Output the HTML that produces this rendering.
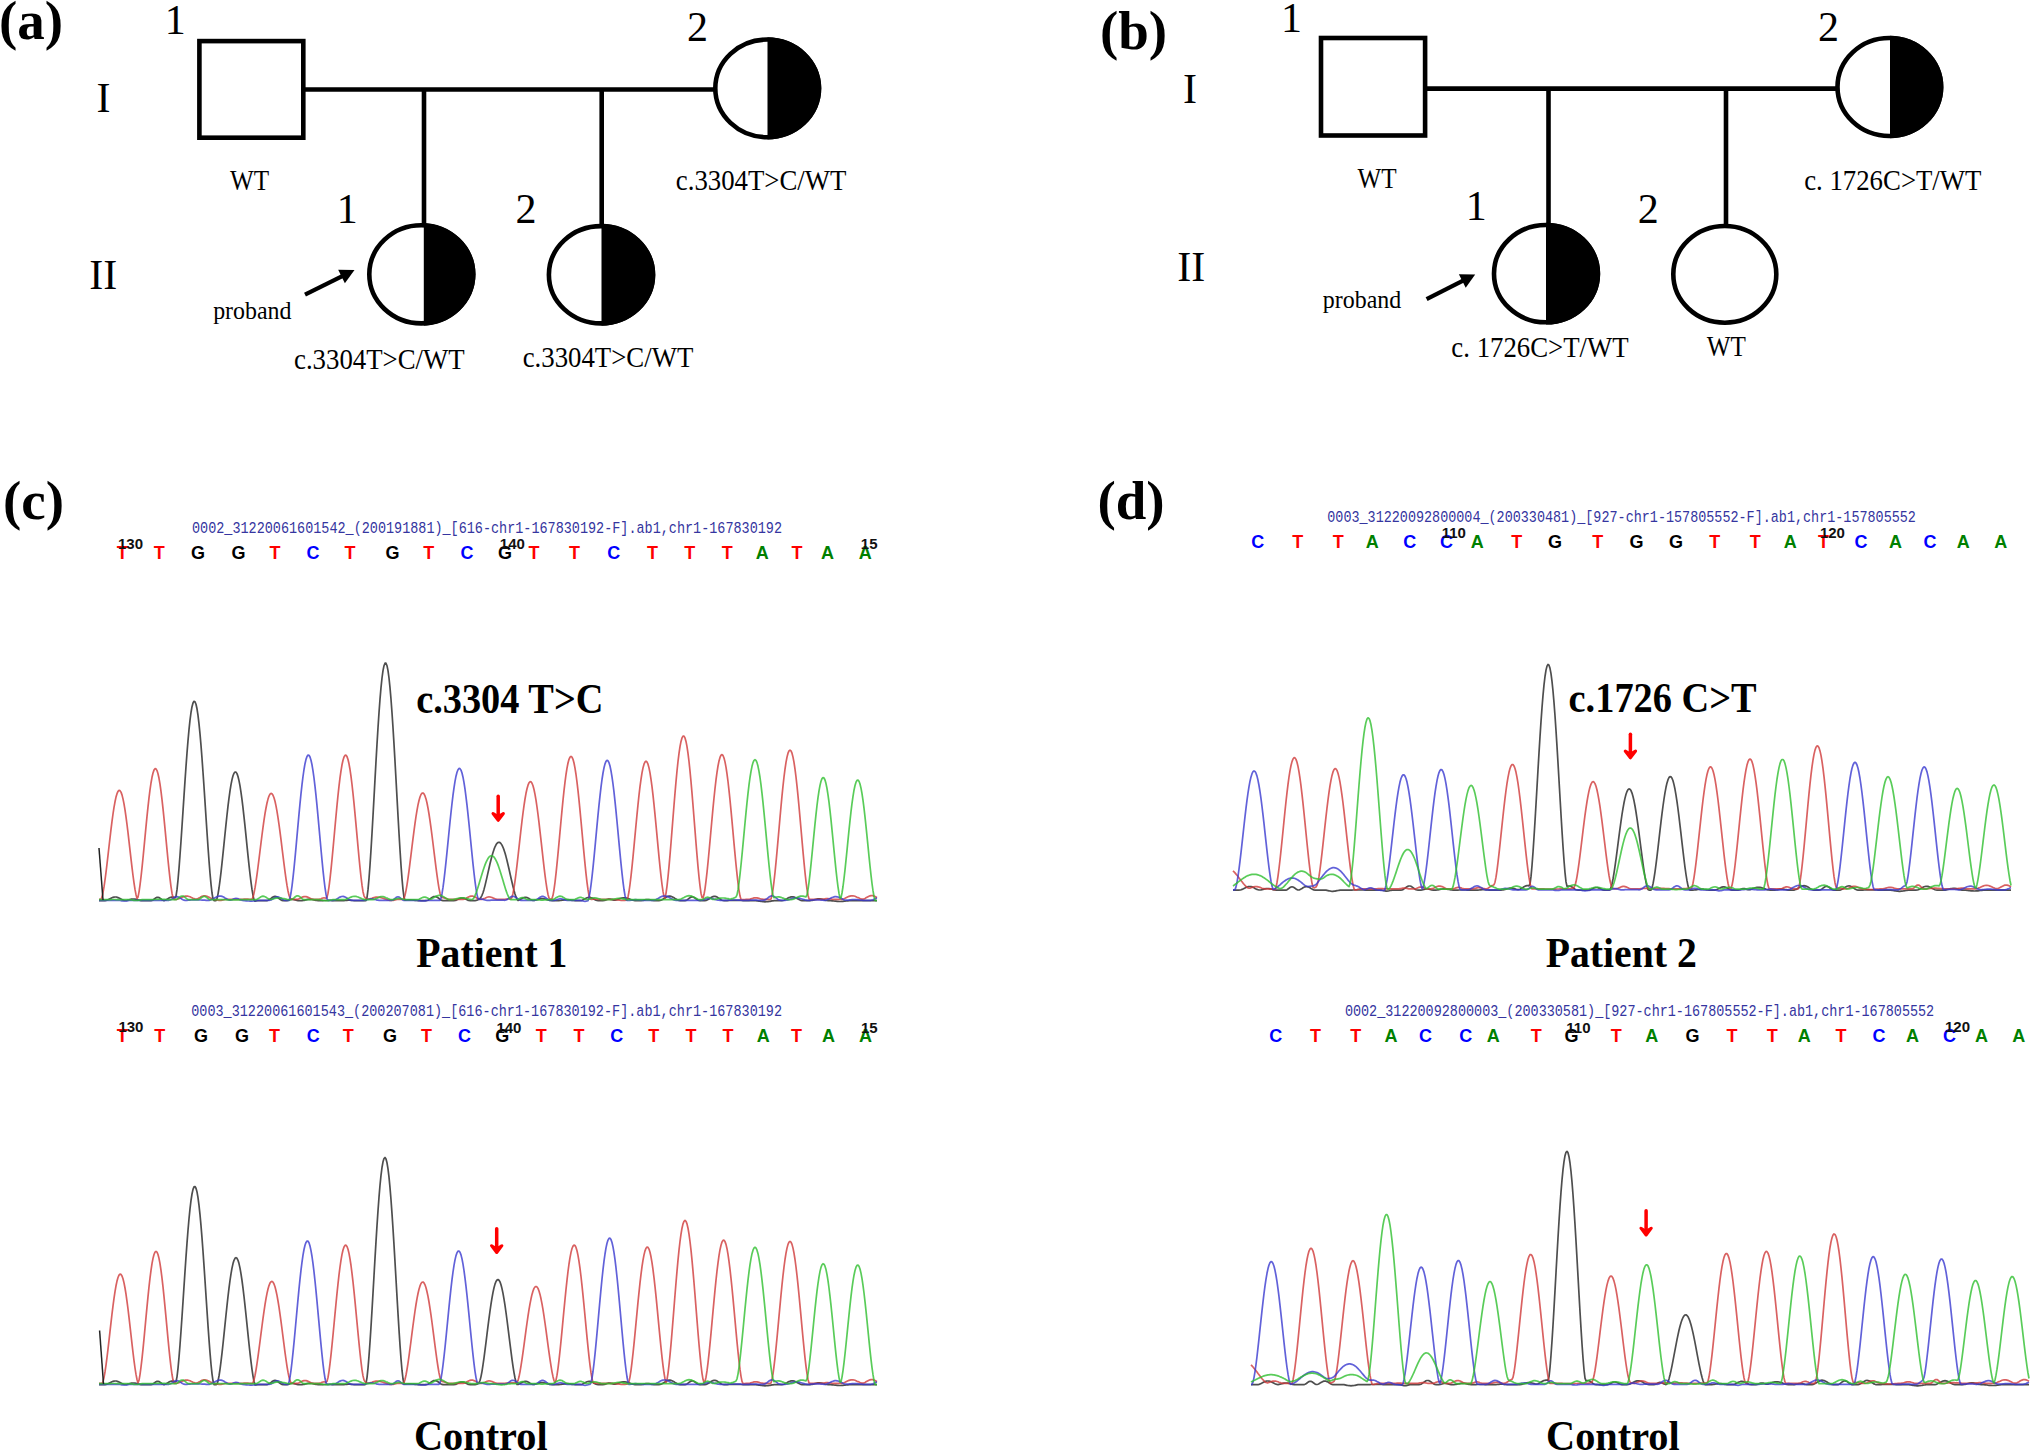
<!DOCTYPE html>
<html><head><meta charset="utf-8"><style>
html,body{margin:0;padding:0;background:#fff;width:2032px;height:1453px;overflow:hidden}
svg{display:block}
</style></head><body>
<svg width="2032" height="1453" viewBox="0 0 2032 1453">
<rect width="2032" height="1453" fill="#fff"/>
<text x="31" y="39.4" font-family='"Liberation Serif", serif' font-size="55" font-weight="bold" fill="#000" text-anchor="middle" >(a)</text>
<rect x="199.4" y="41.099999999999994" width="103.90000000000003" height="96.60000000000001" fill="#fff" stroke="#000" stroke-width="4.6"/>
<line x1="305" y1="89.5" x2="716" y2="89.5" stroke="#000" stroke-width="4.6"/>
<line x1="424" y1="89.5" x2="424" y2="226" stroke="#000" stroke-width="4.6"/>
<line x1="601.7" y1="89.5" x2="601.7" y2="226" stroke="#000" stroke-width="4.6"/>
<clipPath id="c5"><rect x="767.5" y="35.2" width="57.799999999999955" height="106.3"/></clipPath>
<ellipse cx="767.15" cy="88.35" rx="51.84999999999998" ry="48.85" fill="#fff"/>
<ellipse cx="767.15" cy="88.35" rx="54.14999999999998" ry="51.15" fill="#000" clip-path="url(#c5)"/>
<ellipse cx="767.15" cy="88.35" rx="51.84999999999998" ry="48.85" fill="none" stroke="#000" stroke-width="4.6"/>
<clipPath id="c9"><rect x="423.8" y="221" width="55.69999999999999" height="106.69999999999999"/></clipPath>
<ellipse cx="421.25" cy="274.35" rx="51.95" ry="49.05" fill="#fff"/>
<ellipse cx="421.25" cy="274.35" rx="54.25" ry="51.349999999999994" fill="#000" clip-path="url(#c9)"/>
<ellipse cx="421.25" cy="274.35" rx="51.95" ry="49.05" fill="none" stroke="#000" stroke-width="4.6"/>
<clipPath id="c13"><rect x="601.5" y="221.8" width="57.799999999999955" height="105.89999999999998"/></clipPath>
<ellipse cx="600.95" cy="274.75" rx="52.04999999999997" ry="48.64999999999999" fill="#fff"/>
<ellipse cx="600.95" cy="274.75" rx="54.349999999999966" ry="50.94999999999999" fill="#000" clip-path="url(#c13)"/>
<ellipse cx="600.95" cy="274.75" rx="52.04999999999997" ry="48.64999999999999" fill="none" stroke="#000" stroke-width="4.6"/>
<text x="175.2" y="34.3" font-family='"Liberation Serif", serif' font-size="42" font-weight="normal" fill="#000" text-anchor="middle" >1</text>
<text x="697.4" y="40.8" font-family='"Liberation Serif", serif' font-size="42" font-weight="normal" fill="#000" text-anchor="middle" >2</text>
<text x="103.5" y="112" font-family='"Liberation Serif", serif' font-size="42" font-weight="normal" fill="#000" text-anchor="middle" >I</text>
<text x="103.2" y="288.5" font-family='"Liberation Serif", serif' font-size="42" font-weight="normal" fill="#000" text-anchor="middle" >II</text>
<text x="0" y="0" transform="translate(249.5,190) scale(0.84,1)" font-family='"Liberation Serif", serif' font-size="30" font-weight="normal" fill="#000" text-anchor="middle" >WT</text>
<text x="0" y="0" transform="translate(761.1,189.5) scale(0.893,1)" font-family='"Liberation Serif", serif' font-size="30" font-weight="normal" fill="#000" text-anchor="middle" >c.3304T&gt;C/WT</text>
<text x="347.3" y="223.4" font-family='"Liberation Serif", serif' font-size="42" font-weight="normal" fill="#000" text-anchor="middle" >1</text>
<text x="526" y="223.4" font-family='"Liberation Serif", serif' font-size="42" font-weight="normal" fill="#000" text-anchor="middle" >2</text>
<text x="0" y="0" transform="translate(252.3,319) scale(0.92,1)" font-family='"Liberation Serif", serif' font-size="26" font-weight="normal" fill="#000" text-anchor="middle" >proband</text>
<line x1="305" y1="294.7" x2="343.3151446323197" y2="275.5811298501354" stroke="#000" stroke-width="4.2"/>
<polygon points="354.5,270 344.8742456835721,283.18502384676526 338.17688986340954,269.7631974055489" fill="#000"/>
<text x="0" y="0" transform="translate(379.3,369) scale(0.893,1)" font-family='"Liberation Serif", serif' font-size="30" font-weight="normal" fill="#000" text-anchor="middle" >c.3304T&gt;C/WT</text>
<text x="0" y="0" transform="translate(608,367) scale(0.893,1)" font-family='"Liberation Serif", serif' font-size="30" font-weight="normal" fill="#000" text-anchor="middle" >c.3304T&gt;C/WT</text>
<text x="1133.5" y="48.7" font-family='"Liberation Serif", serif' font-size="55" font-weight="bold" fill="#000" text-anchor="middle" >(b)</text>
<rect x="1321.0" y="38.0" width="104.10000000000005" height="97.50000000000001" fill="#fff" stroke="#000" stroke-width="4.6"/>
<line x1="1427" y1="88.6" x2="1838" y2="88.6" stroke="#000" stroke-width="4.6"/>
<line x1="1548.5" y1="88.6" x2="1548.5" y2="226" stroke="#000" stroke-width="4.6"/>
<line x1="1726" y1="88.6" x2="1726" y2="226" stroke="#000" stroke-width="4.6"/>
<clipPath id="c35"><rect x="1890" y="33.7" width="57.40000000000009" height="106.60000000000001"/></clipPath>
<ellipse cx="1889.3000000000002" cy="87.0" rx="51.800000000000026" ry="49.00000000000001" fill="#fff"/>
<ellipse cx="1889.3000000000002" cy="87.0" rx="54.10000000000002" ry="51.300000000000004" fill="#000" clip-path="url(#c35)"/>
<ellipse cx="1889.3000000000002" cy="87.0" rx="51.800000000000026" ry="49.00000000000001" fill="none" stroke="#000" stroke-width="4.6"/>
<clipPath id="c39"><rect x="1546" y="220.7" width="58.200000000000045" height="105.90000000000003"/></clipPath>
<ellipse cx="1545.95" cy="273.65" rx="51.95" ry="48.65000000000002" fill="#fff"/>
<ellipse cx="1545.95" cy="273.65" rx="54.25" ry="50.95000000000002" fill="#000" clip-path="url(#c39)"/>
<ellipse cx="1545.95" cy="273.65" rx="51.95" ry="48.65000000000002" fill="none" stroke="#000" stroke-width="4.6"/>
<ellipse cx="1724.8" cy="274.35" rx="51.49999999999996" ry="48.35000000000001" fill="#fff" stroke="#000" stroke-width="4.6"/>
<text x="1291.6" y="32" font-family='"Liberation Serif", serif' font-size="42" font-weight="normal" fill="#000" text-anchor="middle" >1</text>
<text x="1828.5" y="40.6" font-family='"Liberation Serif", serif' font-size="42" font-weight="normal" fill="#000" text-anchor="middle" >2</text>
<text x="1190.1" y="103.3" font-family='"Liberation Serif", serif' font-size="42" font-weight="normal" fill="#000" text-anchor="middle" >I</text>
<text x="1191.3" y="281.2" font-family='"Liberation Serif", serif' font-size="42" font-weight="normal" fill="#000" text-anchor="middle" >II</text>
<text x="0" y="0" transform="translate(1377.1,188.2) scale(0.84,1)" font-family='"Liberation Serif", serif' font-size="30" font-weight="normal" fill="#000" text-anchor="middle" >WT</text>
<text x="0" y="0" transform="translate(1892.8,189.5) scale(0.893,1)" font-family='"Liberation Serif", serif' font-size="30" font-weight="normal" fill="#000" text-anchor="middle" >c. 1726C&gt;T/WT</text>
<text x="1476.2" y="219.6" font-family='"Liberation Serif", serif' font-size="42" font-weight="normal" fill="#000" text-anchor="middle" >1</text>
<text x="1648.3" y="223.3" font-family='"Liberation Serif", serif' font-size="42" font-weight="normal" fill="#000" text-anchor="middle" >2</text>
<text x="0" y="0" transform="translate(1362,307.5) scale(0.92,1)" font-family='"Liberation Serif", serif' font-size="26" font-weight="normal" fill="#000" text-anchor="middle" >proband</text>
<line x1="1426.6" y1="299.2" x2="1464.0658552019954" y2="280.0816212137966" stroke="#000" stroke-width="4.2"/>
<polygon points="1475.2,274.4 1465.6933647625926,287.67116748680695 1458.8754193060365,274.3101937292012" fill="#000"/>
<text x="0" y="0" transform="translate(1540,357) scale(0.893,1)" font-family='"Liberation Serif", serif' font-size="30" font-weight="normal" fill="#000" text-anchor="middle" >c. 1726C&gt;T/WT</text>
<text x="0" y="0" transform="translate(1726.3,356) scale(0.84,1)" font-family='"Liberation Serif", serif' font-size="30" font-weight="normal" fill="#000" text-anchor="middle" >WT</text>
<text x="33.5" y="518.7" font-family='"Liberation Serif", serif' font-size="55" font-weight="bold" fill="#000" text-anchor="middle" >(c)</text>
<text x="0" y="0" font-family='"Liberation Mono", monospace' font-size="13.47" fill="#3535a0" textLength="590.0" lengthAdjust="spacingAndGlyphs" transform="translate(192,532.7) scale(1,1.237)">0002_31220061601542_(200191881)_[616-chr1-167830192-F].ab1,chr1-167830192</text>
<text x="122.3" y="559.0" font-family='"Liberation Sans", sans-serif' font-size="18" font-weight="bold" fill="#ff0000" text-anchor="middle" >T</text>
<text x="159.3" y="559.0" font-family='"Liberation Sans", sans-serif' font-size="18" font-weight="bold" fill="#ff0000" text-anchor="middle" >T</text>
<text x="198" y="559.0" font-family='"Liberation Sans", sans-serif' font-size="18" font-weight="bold" fill="#000000" text-anchor="middle" >G</text>
<text x="238.6" y="559.0" font-family='"Liberation Sans", sans-serif' font-size="18" font-weight="bold" fill="#000000" text-anchor="middle" >G</text>
<text x="275" y="559.0" font-family='"Liberation Sans", sans-serif' font-size="18" font-weight="bold" fill="#ff0000" text-anchor="middle" >T</text>
<text x="313" y="559.0" font-family='"Liberation Sans", sans-serif' font-size="18" font-weight="bold" fill="#0000ff" text-anchor="middle" >C</text>
<text x="350" y="559.0" font-family='"Liberation Sans", sans-serif' font-size="18" font-weight="bold" fill="#ff0000" text-anchor="middle" >T</text>
<text x="392.5" y="559.0" font-family='"Liberation Sans", sans-serif' font-size="18" font-weight="bold" fill="#000000" text-anchor="middle" >G</text>
<text x="428.8" y="559.0" font-family='"Liberation Sans", sans-serif' font-size="18" font-weight="bold" fill="#ff0000" text-anchor="middle" >T</text>
<text x="466.9" y="559.0" font-family='"Liberation Sans", sans-serif' font-size="18" font-weight="bold" fill="#0000ff" text-anchor="middle" >C</text>
<text x="505" y="559.0" font-family='"Liberation Sans", sans-serif' font-size="18" font-weight="bold" fill="#000000" text-anchor="middle" >G</text>
<text x="534" y="559.0" font-family='"Liberation Sans", sans-serif' font-size="18" font-weight="bold" fill="#ff0000" text-anchor="middle" >T</text>
<text x="574.5" y="559.0" font-family='"Liberation Sans", sans-serif' font-size="18" font-weight="bold" fill="#ff0000" text-anchor="middle" >T</text>
<text x="613.8" y="559.0" font-family='"Liberation Sans", sans-serif' font-size="18" font-weight="bold" fill="#0000ff" text-anchor="middle" >C</text>
<text x="652.6" y="559.0" font-family='"Liberation Sans", sans-serif' font-size="18" font-weight="bold" fill="#ff0000" text-anchor="middle" >T</text>
<text x="689.7" y="559.0" font-family='"Liberation Sans", sans-serif' font-size="18" font-weight="bold" fill="#ff0000" text-anchor="middle" >T</text>
<text x="727.3" y="559.0" font-family='"Liberation Sans", sans-serif' font-size="18" font-weight="bold" fill="#ff0000" text-anchor="middle" >T</text>
<text x="762.2" y="559.0" font-family='"Liberation Sans", sans-serif' font-size="18" font-weight="bold" fill="#008000" text-anchor="middle" >A</text>
<text x="797" y="559.0" font-family='"Liberation Sans", sans-serif' font-size="18" font-weight="bold" fill="#ff0000" text-anchor="middle" >T</text>
<text x="827.5" y="559.0" font-family='"Liberation Sans", sans-serif' font-size="18" font-weight="bold" fill="#008000" text-anchor="middle" >A</text>
<text x="865.2" y="559.0" font-family='"Liberation Sans", sans-serif' font-size="18" font-weight="bold" fill="#008000" text-anchor="middle" >A</text>
<text x="118" y="548.7" font-family='"Liberation Sans", sans-serif' font-size="15" font-weight="bold" fill="#111">130</text>
<text x="499.8" y="548.7" font-family='"Liberation Sans", sans-serif' font-size="15" font-weight="bold" fill="#111">140</text>
<text x="860.8" y="548.7" font-family='"Liberation Sans", sans-serif' font-size="15" font-weight="bold" fill="#111">15</text>
<path d="M99,900.6 L100,900.6 L101,900.6 L102,900.6 L103,900.6 L104,900.6 L105,900.6 L106,900.4 L107,900.1 L108,899.7 L109,899.2 L110,898.7 L111,898.2 L112,897.7 L113,897.3 L114,897.1 L115,897.0 L116,897.0 L117,897.2 L118,897.6 L119,898.0 L120,898.5 L121,899.1 L122,899.6 L123,900.0 L124,900.4 L125,900.5 L126,900.5 L127,900.3 L128,900.0 L129,899.8 L130,899.5 L131,899.2 L132,899.1 L133,899.0 L134,899.0 L135,899.1 L136,899.3 L137,899.6 L138,899.9 L139,900.2 L140,900.4 L141,900.6 L142,900.6 L143,900.6 L144,900.6 L145,900.6 L146,900.6 L147,900.6 L148,900.6 L149,900.6 L150,900.6 L151,900.6 L152,900.4 L153,900.0 L154,899.2 L155,898.5 L156,897.8 L157,897.4 L158,897.3 L159,897.6 L160,898.2 L161,899.0 L162,899.8 L163,900.3 L164,900.6 L165,900.3 L166,899.9 L167,899.3 L168,898.7 L169,898.1 L170,897.5 L171,897.2 L172,897.0 L173,897.1 L174,897.4 L175,897.9 L176,896.2 L177,889.7 L178,880.0 L179,868.4 L180,855.3 L181,841.2 L182,826.3 L183,811.1 L184,795.9 L185,780.9 L186,766.5 L187,753.0 L188,740.6 L189,729.6 L190,720.2 L191,712.5 L192,706.7 L193,703.0 L194,701.3 L195,701.7 L196,704.2 L197,708.8 L198,715.4 L199,723.8 L200,733.8 L201,745.4 L202,758.3 L203,772.2 L204,786.8 L205,801.9 L206,817.2 L207,832.3 L208,847.0 L209,860.7 L210,873.3 L211,884.2 L212,893.0 L213,899.0 L214,900.6 L215,900.6 L216,900.6 L217,898.6 L218,894.1 L219,888.0 L220,880.6 L221,872.3 L222,863.2 L223,853.6 L224,843.8 L225,834.0 L226,824.3 L227,815.0 L228,806.2 L229,798.1 L230,790.9 L231,784.7 L232,779.6 L233,775.8 L234,773.2 L235,772.0 L236,772.1 L237,773.6 L238,776.5 L239,780.6 L240,785.9 L241,792.3 L242,799.7 L243,807.9 L244,816.8 L245,826.2 L246,835.9 L247,845.8 L248,855.6 L249,865.1 L250,874.0 L251,882.2 L252,889.4 L253,895.4 L254,899.9 L255,901.2 L256,900.9 L257,900.7 L258,900.6 L259,900.6 L260,900.6 L261,900.6 L262,900.6 L263,900.6 L264,900.6 L265,900.6 L266,900.6 L267,900.6 L268,900.3 L269,899.8 L270,899.1 L271,898.4 L272,897.6 L273,897.0 L274,896.6 L275,896.4 L276,896.6 L277,897.1 L278,897.7 L279,898.5 L280,899.2 L281,899.9 L282,900.4 L283,900.6 L284,900.6 L285,900.6 L286,900.6 L287,900.6 L288,900.4 L289,900.1 L290,899.8 L291,899.5 L292,899.4 L293,899.4 L294,899.6 L295,899.8 L296,900.2 L297,900.4 L298,900.6 L299,900.6 L300,900.6 L301,900.6 L302,900.6 L303,900.4 L304,900.3 L305,900.1 L306,899.8 L307,899.6 L308,899.4 L309,899.3 L310,899.3 L311,899.3 L312,899.5 L313,899.6 L314,899.9 L315,900.1 L316,900.3 L317,900.5 L318,900.6 L319,900.6 L320,900.6 L321,900.6 L322,900.6 L323,900.6 L324,900.5 L325,900.5 L326,900.5 L327,900.5 L328,900.5 L329,900.5 L330,900.5 L331,900.5 L332,900.6 L333,900.6 L334,900.6 L335,900.6 L336,900.6 L337,900.6 L338,900.6 L339,900.6 L340,900.6 L341,900.6 L342,900.6 L343,900.6 L344,900.6 L345,900.5 L346,900.4 L347,900.3 L348,900.2 L349,900.1 L350,900.2 L351,900.3 L352,900.4 L353,900.5 L354,900.6 L355,900.6 L356,900.6 L357,900.6 L358,900.6 L359,900.6 L360,900.6 L361,900.6 L362,900.6 L363,900.6 L364,900.6 L365,900.6 L366,900.6 L367,897.6 L368,889.7 L369,878.6 L370,865.2 L371,849.9 L372,833.2 L373,815.7 L374,797.6 L375,779.4 L376,761.4 L377,744.1 L378,727.8 L379,712.7 L380,699.2 L381,687.6 L382,678.0 L383,670.7 L384,665.7 L385,663.2 L386,663.2 L387,665.7 L388,670.7 L389,678.0 L390,687.6 L391,699.2 L392,712.7 L393,727.8 L394,744.1 L395,761.4 L396,779.4 L397,797.6 L398,815.7 L399,833.2 L400,849.9 L401,865.2 L402,878.6 L403,889.6 L404,897.4 L405,900.2 L406,900.1 L407,900.0 L408,899.9 L409,899.9 L410,899.9 L411,899.9 L412,900.0 L413,900.1 L414,900.2 L415,900.3 L416,900.4 L417,900.5 L418,900.6 L419,900.6 L420,900.6 L421,900.6 L422,900.6 L423,900.6 L424,900.6 L425,900.6 L426,900.6 L427,900.5 L428,900.2 L429,899.6 L430,898.9 L431,898.1 L432,897.4 L433,896.9 L434,896.5 L435,896.5 L436,896.7 L437,897.1 L438,897.8 L439,898.5 L440,899.3 L441,899.9 L442,900.4 L443,900.6 L444,900.6 L445,900.6 L446,900.6 L447,900.6 L448,900.6 L449,900.6 L450,900.6 L451,900.6 L452,900.6 L453,900.6 L454,900.6 L455,900.5 L456,900.3 L457,899.8 L458,899.3 L459,898.8 L460,898.4 L461,898.1 L462,898.0 L463,898.1 L464,898.4 L465,898.8 L466,899.3 L467,899.8 L468,900.3 L469,900.5 L470,900.6 L471,900.6 L472,900.6 L473,900.6 L474,900.6 L475,900.6 L476,900.4 L477,900.1 L478,899.7 L479,899.1 L480,898.5 L481,897.2 L482,895.3 L483,892.7 L484,889.4 L485,885.6 L486,881.4 L487,877.1 L488,872.6 L489,868.2 L490,863.8 L491,859.7 L492,855.9 L493,852.4 L494,849.4 L495,846.8 L496,844.8 L497,843.3 L498,842.5 L499,842.2 L500,842.6 L501,843.6 L502,845.1 L503,847.3 L504,849.9 L505,853.1 L506,856.6 L507,860.5 L508,864.7 L509,869.0 L510,873.5 L511,878.0 L512,882.3 L513,886.5 L514,890.4 L515,893.9 L516,896.9 L517,899.2 L518,900.4 L519,900.1 L520,899.6 L521,899.0 L522,898.4 L523,897.9 L524,897.5 L525,897.3 L526,897.3 L527,897.5 L528,898.0 L529,898.6 L530,899.2 L531,899.7 L532,900.2 L533,900.5 L534,900.4 L535,900.2 L536,899.9 L537,899.6 L538,899.4 L539,899.1 L540,898.9 L541,898.7 L542,898.7 L543,898.7 L544,898.8 L545,899.0 L546,899.3 L547,899.6 L548,899.9 L549,900.1 L550,900.4 L551,900.5 L552,900.6 L553,900.6 L554,900.6 L555,900.6 L556,900.6 L557,900.6 L558,900.6 L559,900.6 L560,900.5 L561,900.4 L562,900.2 L563,900.1 L564,899.9 L565,899.8 L566,899.7 L567,899.7 L568,899.7 L569,899.8 L570,899.9 L571,900.1 L572,900.3 L573,900.4 L574,900.5 L575,900.6 L576,900.6 L577,900.6 L578,900.6 L579,900.6 L580,900.6 L581,900.5 L582,900.2 L583,899.8 L584,899.3 L585,898.7 L586,898.2 L587,897.8 L588,897.5 L589,897.4 L590,897.4 L591,897.7 L592,898.1 L593,898.6 L594,899.2 L595,899.7 L596,900.2 L597,900.5 L598,900.6 L599,900.6 L600,900.6 L601,900.6 L602,900.6 L603,900.6 L604,900.5 L605,900.3 L606,899.9 L607,899.5 L608,899.2 L609,899.0 L610,899.1 L611,899.3 L612,899.6 L613,900.0 L614,900.2 L615,900.2 L616,899.9 L617,899.6 L618,899.2 L619,898.9 L620,898.5 L621,898.2 L622,898.0 L623,897.8 L624,897.8 L625,897.8 L626,898.0 L627,898.2 L628,898.5 L629,898.8 L630,899.2 L631,899.6 L632,899.9 L633,900.2 L634,900.4 L635,900.6 L636,900.6 L637,900.6 L638,900.6 L639,900.6 L640,900.6 L641,900.6 L642,900.5 L643,900.3 L644,900.1 L645,899.9 L646,899.7 L647,899.6 L648,899.6 L649,899.7 L650,899.8 L651,900.1 L652,900.3 L653,900.5 L654,900.6 L655,900.6 L656,900.6 L657,900.6 L658,900.6 L659,900.6 L660,900.5 L661,900.2 L662,899.8 L663,899.2 L664,898.6 L665,897.9 L666,897.3 L667,896.8 L668,896.4 L669,896.2 L670,896.2 L671,896.4 L672,896.7 L673,897.2 L674,897.8 L675,898.5 L676,899.1 L677,899.7 L678,900.1 L679,900.5 L680,900.6 L681,900.6 L682,900.6 L683,900.6 L684,900.6 L685,900.6 L686,900.4 L687,899.9 L688,899.2 L689,898.4 L690,897.7 L691,897.1 L692,896.9 L693,897.0 L694,897.4 L695,898.0 L696,898.8 L697,899.6 L698,900.2 L699,900.5 L700,900.6 L701,900.6 L702,900.6 L703,900.6 L704,900.6 L705,900.6 L706,900.5 L707,900.1 L708,899.6 L709,899.0 L710,898.3 L711,897.6 L712,897.0 L713,896.6 L714,896.4 L715,896.4 L716,896.6 L717,897.1 L718,897.7 L719,898.4 L720,899.1 L721,899.7 L722,900.2 L723,900.5 L724,900.6 L725,900.6 L726,900.6 L727,900.6 L728,900.6 L729,900.5 L730,900.5 L731,900.4 L732,900.4 L733,900.3 L734,900.3 L735,900.3 L736,900.3 L737,900.3 L738,900.3 L739,900.4 L740,900.4 L741,900.5 L742,900.5 L743,900.6 L744,900.6 L745,900.6 L746,900.6 L747,900.6 L748,900.6 L749,900.6 L750,900.6 L751,900.6 L752,900.6 L753,900.6 L754,900.6 L755,900.6 L756,900.7 L757,900.8 L758,900.9 L759,901.1 L760,901.2 L761,901.4 L762,901.5 L763,901.7 L764,901.7 L765,901.8 L766,901.7 L767,901.7 L768,901.6 L769,901.4 L770,901.3 L771,901.1 L772,900.9 L773,900.8 L774,900.7 L775,900.6 L776,900.6 L777,900.6 L778,900.6 L779,900.6 L780,900.6 L781,900.6 L782,900.6 L783,900.5 L784,900.2 L785,899.8 L786,899.2 L787,898.7 L788,898.1 L789,897.6 L790,897.2 L791,896.9 L792,896.8 L793,896.8 L794,897.0 L795,897.4 L796,897.9 L797,898.4 L798,899.0 L799,899.5 L800,900.0 L801,900.4 L802,900.6 L803,900.6 L804,900.6 L805,900.6 L806,900.6 L807,900.6 L808,900.6 L809,900.6 L810,900.6 L811,900.5 L812,900.4 L813,900.1 L814,899.9 L815,899.6 L816,899.3 L817,899.1 L818,898.9 L819,898.8 L820,898.9 L821,899.0 L822,899.2 L823,899.5 L824,899.8 L825,900.1 L826,900.3 L827,900.5 L828,900.6 L829,900.6 L830,900.6 L831,900.7 L832,900.8 L833,900.9 L834,901.0 L835,901.1 L836,901.2 L837,901.3 L838,901.4 L839,901.5 L840,901.5 L841,901.5 L842,901.4 L843,901.3 L844,901.2 L845,901.1 L846,901.0 L847,900.9 L848,900.8 L849,900.7 L850,900.6 L851,900.6 L852,900.6 L853,900.6 L854,900.6 L855,900.6 L856,900.6 L857,900.6 L858,900.6 L859,900.6 L860,900.6 L861,900.7 L862,900.7 L863,900.7 L864,900.7 L865,900.7 L866,900.6 L867,900.6 L868,900.6 L869,900.6 L870,900.6 L871,900.6 L872,900.6 L873,900.6 L874,900.6 L875,900.6 L876,900.6 L877,900.6" fill="none" stroke="#222222" stroke-width="1.7" stroke-opacity="0.8" stroke-linejoin="round"/>
<path d="M99,899.4 L100,899.4 L101,899.4 L102,897.1 L103,892.7 L104,886.9 L105,880.0 L106,872.3 L107,864.0 L108,855.3 L109,846.5 L110,837.8 L111,829.4 L112,821.4 L113,814.0 L114,807.4 L115,801.8 L116,797.1 L117,793.7 L118,791.4 L119,790.4 L120,790.6 L121,792.1 L122,794.9 L123,798.9 L124,803.9 L125,809.9 L126,816.9 L127,824.5 L128,832.7 L129,841.3 L130,850.1 L131,858.8 L132,867.4 L133,875.5 L134,882.9 L135,889.4 L136,894.7 L137,898.4 L138,897.2 L139,892.1 L140,885.2 L141,877.0 L142,867.8 L143,858.0 L144,847.6 L145,837.1 L146,826.6 L147,816.4 L148,806.8 L149,797.9 L150,789.9 L151,783.0 L152,777.3 L153,773.0 L154,770.1 L155,768.7 L156,768.9 L157,770.6 L158,773.7 L159,778.3 L160,784.2 L161,791.4 L162,799.6 L163,808.7 L164,818.4 L165,828.7 L166,839.2 L167,849.7 L168,860.0 L169,869.7 L170,878.7 L171,886.7 L172,893.2 L173,897.8 L174,899.4 L175,899.4 L176,899.4 L177,899.3 L178,899.0 L179,898.7 L180,898.3 L181,897.8 L182,897.3 L183,896.9 L184,896.5 L185,896.2 L186,896.1 L187,896.1 L188,896.2 L189,896.5 L190,896.8 L191,897.3 L192,897.7 L193,898.2 L194,898.6 L195,899.0 L196,899.1 L197,898.9 L198,898.5 L199,897.9 L200,897.4 L201,896.8 L202,896.4 L203,896.0 L204,895.8 L205,895.8 L206,896.0 L207,896.3 L208,896.7 L209,897.2 L210,897.8 L211,898.3 L212,898.8 L213,899.2 L214,899.4 L215,899.5 L216,899.7 L217,900.0 L218,900.2 L219,900.4 L220,900.5 L221,900.4 L222,900.2 L223,900.0 L224,899.7 L225,899.5 L226,899.4 L227,899.4 L228,899.4 L229,899.4 L230,899.4 L231,899.4 L232,899.4 L233,899.4 L234,899.4 L235,899.4 L236,899.4 L237,899.4 L238,899.4 L239,899.4 L240,899.4 L241,899.4 L242,899.3 L243,899.3 L244,899.2 L245,899.2 L246,899.2 L247,899.2 L248,899.2 L249,899.3 L250,899.3 L251,899.4 L252,899.3 L253,897.2 L254,893.2 L255,887.9 L256,881.6 L257,874.6 L258,867.0 L259,859.1 L260,851.0 L261,842.9 L262,835.0 L263,827.4 L264,820.2 L265,813.7 L266,808.0 L267,803.0 L268,799.1 L269,796.1 L270,794.2 L271,793.4 L272,793.8 L273,795.2 L274,797.8 L275,801.3 L276,805.9 L277,811.3 L278,817.6 L279,824.5 L280,831.9 L281,839.7 L282,847.8 L283,855.9 L284,863.9 L285,871.6 L286,878.9 L287,885.4 L288,891.0 L289,895.2 L290,898.0 L291,898.8 L292,899.2 L293,899.4 L294,899.4 L295,899.4 L296,899.4 L297,899.3 L298,899.1 L299,898.8 L300,898.3 L301,897.8 L302,897.3 L303,896.9 L304,896.6 L305,896.5 L306,896.6 L307,896.9 L308,897.3 L309,897.8 L310,898.3 L311,898.8 L312,899.1 L313,899.4 L314,899.4 L315,899.4 L316,899.4 L317,899.4 L318,899.4 L319,899.3 L320,899.0 L321,898.7 L322,898.3 L323,898.0 L324,897.9 L325,898.0 L326,898.2 L327,897.4 L328,893.2 L329,886.8 L330,878.8 L331,869.6 L332,859.5 L333,848.9 L334,838.0 L335,826.9 L336,816.0 L337,805.4 L338,795.4 L339,786.2 L340,777.9 L341,770.8 L342,764.8 L343,760.2 L344,757.0 L345,755.4 L346,755.2 L347,756.6 L348,759.5 L349,763.8 L350,769.5 L351,776.4 L352,784.5 L353,793.5 L354,803.4 L355,813.8 L356,824.7 L357,835.7 L358,846.7 L359,857.5 L360,867.6 L361,877.0 L362,885.2 L363,891.7 L364,895.8 L365,897.7 L366,898.4 L367,898.9 L368,899.2 L369,899.1 L370,898.9 L371,898.6 L372,898.3 L373,897.9 L374,897.6 L375,897.4 L376,897.2 L377,897.2 L378,897.2 L379,897.3 L380,897.4 L381,897.7 L382,898.0 L383,898.3 L384,898.6 L385,898.9 L386,899.2 L387,899.6 L388,899.9 L389,900.1 L390,900.3 L391,900.5 L392,900.5 L393,900.4 L394,900.2 L395,900.0 L396,899.7 L397,899.5 L398,899.4 L399,899.4 L400,899.4 L401,899.4 L402,899.4 L403,899.4 L404,898.6 L405,895.3 L406,890.6 L407,884.8 L408,878.1 L409,870.8 L410,862.9 L411,854.9 L412,846.7 L413,838.6 L414,830.8 L415,823.4 L416,816.5 L417,810.3 L418,804.9 L419,800.5 L420,797.0 L421,794.5 L422,793.2 L423,793.0 L424,793.9 L425,795.9 L426,798.9 L427,803.0 L428,808.1 L429,814.0 L430,820.6 L431,827.8 L432,835.5 L433,843.5 L434,851.6 L435,859.7 L436,867.7 L437,875.2 L438,882.2 L439,888.3 L440,893.2 L441,896.4 L442,897.5 L443,897.6 L444,897.8 L445,898.1 L446,898.5 L447,898.9 L448,899.2 L449,899.4 L450,899.4 L451,899.4 L452,899.4 L453,899.4 L454,899.4 L455,899.4 L456,899.4 L457,899.4 L458,899.4 L459,899.4 L460,899.4 L461,899.4 L462,899.4 L463,899.4 L464,899.2 L465,898.9 L466,898.4 L467,897.8 L468,897.2 L469,896.7 L470,896.3 L471,896.1 L472,896.1 L473,896.2 L474,896.6 L475,897.0 L476,897.6 L477,898.2 L478,898.7 L479,899.1 L480,899.3 L481,899.4 L482,899.3 L483,899.0 L484,898.6 L485,898.2 L486,897.7 L487,897.3 L488,897.0 L489,896.9 L490,897.0 L491,897.2 L492,897.5 L493,897.9 L494,898.4 L495,898.8 L496,899.2 L497,899.4 L498,899.4 L499,899.4 L500,899.4 L501,899.4 L502,899.4 L503,899.4 L504,899.4 L505,899.3 L506,899.2 L507,899.1 L508,899.0 L509,898.9 L510,898.9 L511,898.8 L512,897.2 L513,893.4 L514,887.8 L515,881.1 L516,873.5 L517,865.2 L518,856.4 L519,847.4 L520,838.4 L521,829.5 L522,821.0 L523,813.0 L524,805.6 L525,799.0 L526,793.3 L527,788.7 L528,785.2 L529,782.8 L530,781.7 L531,781.8 L532,783.2 L533,785.8 L534,789.5 L535,794.4 L536,800.2 L537,807.0 L538,814.5 L539,822.7 L540,831.3 L541,840.2 L542,849.2 L543,858.2 L544,866.9 L545,875.1 L546,882.5 L547,889.1 L548,894.4 L549,898.0 L550,899.1 L551,899.0 L552,898.6 L553,895.3 L554,889.6 L555,882.3 L556,873.6 L557,863.9 L558,853.6 L559,842.8 L560,831.9 L561,821.0 L562,810.3 L563,800.2 L564,790.7 L565,782.1 L566,774.5 L567,768.1 L568,763.0 L569,759.3 L570,757.1 L571,756.3 L572,757.1 L573,759.3 L574,763.0 L575,768.1 L576,774.5 L577,782.1 L578,790.7 L579,800.2 L580,810.3 L581,821.0 L582,831.9 L583,842.8 L584,853.6 L585,863.9 L586,873.6 L587,882.3 L588,889.7 L589,895.5 L590,899.0 L591,899.3 L592,899.3 L593,899.2 L594,899.2 L595,899.2 L596,899.2 L597,899.2 L598,899.3 L599,899.3 L600,899.4 L601,899.4 L602,899.4 L603,899.4 L604,899.4 L605,899.4 L606,899.4 L607,899.4 L608,899.4 L609,899.4 L610,899.4 L611,899.4 L612,899.4 L613,899.4 L614,899.5 L615,899.6 L616,899.7 L617,899.8 L618,899.9 L619,900.1 L620,900.2 L621,900.3 L622,900.4 L623,900.4 L624,900.4 L625,900.3 L626,900.2 L627,900.1 L628,896.9 L629,891.5 L630,884.5 L631,876.2 L632,866.9 L633,856.9 L634,846.4 L635,835.7 L636,825.0 L637,814.6 L638,804.6 L639,795.2 L640,786.7 L641,779.3 L642,772.9 L643,767.9 L644,764.2 L645,762.0 L646,761.2 L647,762.0 L648,764.2 L649,767.9 L650,772.9 L651,779.3 L652,786.7 L653,795.2 L654,804.6 L655,814.6 L656,825.0 L657,835.7 L658,846.4 L659,856.9 L660,866.9 L661,876.2 L662,884.5 L663,891.4 L664,896.6 L665,898.2 L666,893.3 L667,886.1 L668,877.0 L669,866.6 L670,855.1 L671,843.0 L672,830.4 L673,817.7 L674,805.2 L675,793.1 L676,781.6 L677,771.0 L678,761.5 L679,753.3 L680,746.6 L681,741.4 L682,737.9 L683,736.1 L684,736.1 L685,737.9 L686,741.4 L687,746.6 L688,753.3 L689,761.5 L690,771.0 L691,781.6 L692,793.1 L693,805.2 L694,817.7 L695,830.4 L696,843.0 L697,855.1 L698,866.6 L699,877.0 L700,886.0 L701,893.2 L702,897.5 L703,898.0 L704,894.6 L705,888.8 L706,881.2 L707,872.3 L708,862.5 L709,852.0 L710,841.1 L711,830.0 L712,819.0 L713,808.2 L714,798.0 L715,788.5 L716,779.9 L717,772.3 L718,766.0 L719,761.0 L720,757.4 L721,755.2 L722,754.6 L723,755.5 L724,758.0 L725,761.9 L726,767.2 L727,773.8 L728,781.5 L729,790.3 L730,800.0 L731,810.3 L732,821.1 L733,832.2 L734,843.3 L735,854.1 L736,864.5 L737,874.2 L738,882.9 L739,890.3 L740,896.1 L741,899.6 L742,899.7 L743,899.6 L744,899.5 L745,899.5 L746,899.4 L747,899.4 L748,899.4 L749,899.3 L750,899.1 L751,898.8 L752,898.5 L753,898.2 L754,897.9 L755,897.8 L756,897.8 L757,897.9 L758,898.1 L759,898.4 L760,898.7 L761,899.0 L762,899.2 L763,899.4 L764,899.4 L765,899.4 L766,899.4 L767,899.4 L768,899.4 L769,899.4 L770,899.4 L771,899.0 L772,895.3 L773,889.3 L774,881.5 L775,872.5 L776,862.4 L777,851.6 L778,840.4 L779,829.0 L780,817.6 L781,806.5 L782,795.9 L783,786.0 L784,777.0 L785,769.1 L786,762.4 L787,757.1 L788,753.2 L789,750.9 L790,750.1 L791,750.9 L792,753.2 L793,757.1 L794,762.4 L795,769.1 L796,777.0 L797,786.0 L798,795.9 L799,806.5 L800,817.6 L801,829.0 L802,840.4 L803,851.6 L804,862.4 L805,872.5 L806,881.5 L807,889.2 L808,895.2 L809,898.9 L810,899.3 L811,899.4 L812,899.4 L813,899.4 L814,899.4 L815,899.4 L816,899.4 L817,899.4 L818,899.4 L819,899.4 L820,899.4 L821,899.4 L822,899.3 L823,899.1 L824,899.0 L825,898.8 L826,898.7 L827,898.7 L828,898.7 L829,898.8 L830,898.9 L831,899.0 L832,899.2 L833,899.3 L834,899.4 L835,899.4 L836,899.4 L837,899.4 L838,899.4 L839,899.4 L840,899.4 L841,899.4 L842,899.3 L843,899.0 L844,898.7 L845,898.3 L846,897.8 L847,897.3 L848,896.8 L849,896.4 L850,896.1 L851,895.9 L852,895.8 L853,895.9 L854,896.0 L855,896.3 L856,896.7 L857,897.2 L858,897.6 L859,898.1 L860,898.6 L861,898.9 L862,899.2 L863,899.2 L864,898.9 L865,898.4 L866,897.8 L867,897.2 L868,896.7 L869,896.2 L870,895.8 L871,895.6 L872,895.6 L873,895.7 L874,896.1 L875,896.5 L876,897.1 L877,897.7" fill="none" stroke="#d03a3a" stroke-width="1.7" stroke-opacity="0.8" stroke-linejoin="round"/>
<path d="M99,900.3 L100,900.3 L101,900.3 L102,900.3 L103,900.3 L104,900.3 L105,900.3 L106,900.3 L107,900.3 L108,900.3 L109,900.3 L110,900.3 L111,900.3 L112,900.3 L113,900.3 L114,900.3 L115,900.3 L116,900.3 L117,900.3 L118,900.3 L119,900.4 L120,900.5 L121,900.6 L122,900.8 L123,900.9 L124,901.0 L125,901.0 L126,900.9 L127,900.8 L128,900.7 L129,900.5 L130,900.4 L131,900.3 L132,900.3 L133,900.3 L134,900.3 L135,900.3 L136,900.3 L137,900.3 L138,900.3 L139,900.3 L140,900.3 L141,900.3 L142,900.3 L143,900.3 L144,900.3 L145,900.3 L146,900.3 L147,900.3 L148,900.3 L149,900.3 L150,900.3 L151,900.3 L152,900.3 L153,900.3 L154,900.3 L155,900.3 L156,900.3 L157,900.3 L158,900.3 L159,900.3 L160,900.3 L161,900.3 L162,900.3 L163,900.3 L164,900.3 L165,900.3 L166,900.3 L167,900.3 L168,900.3 L169,900.3 L170,900.0 L171,899.6 L172,899.0 L173,898.3 L174,897.6 L175,897.1 L176,896.8 L177,896.7 L178,896.9 L179,897.3 L180,897.9 L181,898.6 L182,899.2 L183,899.8 L184,900.2 L185,900.3 L186,900.3 L187,900.3 L188,900.2 L189,900.2 L190,900.1 L191,900.0 L192,900.0 L193,899.9 L194,899.9 L195,899.9 L196,899.8 L197,899.8 L198,899.9 L199,899.9 L200,900.0 L201,900.0 L202,900.1 L203,900.1 L204,900.2 L205,900.2 L206,900.3 L207,900.3 L208,900.3 L209,900.3 L210,900.1 L211,899.8 L212,899.4 L213,898.9 L214,898.3 L215,897.7 L216,897.2 L217,896.7 L218,896.3 L219,896.1 L220,896.1 L221,896.2 L222,896.4 L223,896.8 L224,897.3 L225,897.9 L226,898.4 L227,899.0 L228,899.5 L229,899.9 L230,900.1 L231,900.0 L232,899.7 L233,899.2 L234,898.8 L235,898.5 L236,898.4 L237,898.5 L238,898.7 L239,899.2 L240,899.6 L241,900.0 L242,900.3 L243,900.5 L244,900.6 L245,900.7 L246,900.8 L247,900.9 L248,901.0 L249,901.0 L250,901.1 L251,901.1 L252,901.1 L253,901.0 L254,900.9 L255,900.8 L256,900.7 L257,900.6 L258,900.5 L259,900.4 L260,900.4 L261,900.3 L262,900.3 L263,900.3 L264,900.3 L265,900.3 L266,900.3 L267,900.3 L268,900.3 L269,900.3 L270,900.2 L271,899.9 L272,899.4 L273,898.7 L274,898.0 L275,897.4 L276,897.0 L277,896.8 L278,896.8 L279,897.2 L280,897.7 L281,898.3 L282,899.0 L283,899.6 L284,900.1 L285,900.3 L286,900.3 L287,900.3 L288,900.3 L289,900.3 L290,898.1 L291,893.0 L292,886.1 L293,877.7 L294,868.3 L295,858.1 L296,847.3 L297,836.2 L298,825.1 L299,814.1 L300,803.6 L301,793.7 L302,784.6 L303,776.5 L304,769.5 L305,763.7 L306,759.4 L307,756.5 L308,755.1 L309,755.3 L310,757.0 L311,760.2 L312,764.8 L313,770.8 L314,778.0 L315,786.3 L316,795.6 L317,805.7 L318,816.3 L319,827.3 L320,838.4 L321,849.5 L322,860.2 L323,870.3 L324,879.5 L325,887.6 L326,894.2 L327,898.8 L328,900.3 L329,900.3 L330,900.3 L331,900.3 L332,900.3 L333,900.3 L334,900.2 L335,899.9 L336,899.5 L337,898.9 L338,898.3 L339,897.6 L340,897.1 L341,896.7 L342,896.5 L343,896.4 L344,896.6 L345,897.0 L346,897.6 L347,898.2 L348,898.9 L349,899.4 L350,899.9 L351,900.2 L352,900.3 L353,900.3 L354,900.3 L355,900.3 L356,900.3 L357,900.3 L358,900.3 L359,900.3 L360,900.3 L361,900.3 L362,900.3 L363,900.3 L364,900.3 L365,900.2 L366,900.0 L367,899.7 L368,899.5 L369,899.2 L370,899.0 L371,898.9 L372,898.9 L373,899.0 L374,899.3 L375,899.5 L376,899.8 L377,900.1 L378,900.2 L379,900.3 L380,900.3 L381,900.3 L382,900.3 L383,900.3 L384,900.3 L385,900.3 L386,900.3 L387,900.3 L388,900.3 L389,900.3 L390,900.3 L391,900.3 L392,900.3 L393,900.0 L394,899.3 L395,898.4 L396,897.6 L397,897.0 L398,896.8 L399,897.0 L400,897.7 L401,898.6 L402,899.4 L403,900.1 L404,900.3 L405,900.3 L406,900.3 L407,900.3 L408,900.3 L409,900.3 L410,900.3 L411,900.3 L412,900.3 L413,900.3 L414,900.3 L415,900.3 L416,900.3 L417,900.3 L418,900.4 L419,900.6 L420,900.7 L421,900.9 L422,901.0 L423,901.0 L424,900.9 L425,900.8 L426,900.6 L427,900.5 L428,900.4 L429,900.3 L430,900.3 L431,900.3 L432,900.3 L433,900.3 L434,900.3 L435,900.3 L436,900.3 L437,900.3 L438,900.3 L439,900.3 L440,900.3 L441,898.3 L442,893.7 L443,887.4 L444,879.8 L445,871.2 L446,861.9 L447,852.1 L448,842.1 L449,832.0 L450,822.0 L451,812.5 L452,803.5 L453,795.2 L454,787.8 L455,781.4 L456,776.2 L457,772.3 L458,769.7 L459,768.4 L460,768.6 L461,770.1 L462,773.0 L463,777.2 L464,782.6 L465,789.2 L466,796.8 L467,805.2 L468,814.3 L469,824.0 L470,834.0 L471,844.1 L472,854.1 L473,863.8 L474,873.0 L475,881.4 L476,888.7 L477,894.6 L478,898.4 L479,899.3 L480,899.1 L481,899.1 L482,899.2 L483,899.4 L484,899.7 L485,900.0 L486,900.2 L487,900.3 L488,900.3 L489,900.3 L490,900.3 L491,900.2 L492,900.2 L493,900.2 L494,900.2 L495,900.1 L496,900.1 L497,900.1 L498,900.1 L499,900.1 L500,900.2 L501,900.2 L502,900.2 L503,900.2 L504,900.2 L505,900.3 L506,900.0 L507,899.6 L508,898.9 L509,898.2 L510,897.4 L511,896.8 L512,896.4 L513,896.3 L514,896.5 L515,896.9 L516,897.5 L517,898.2 L518,899.0 L519,899.6 L520,900.1 L521,900.3 L522,900.3 L523,900.3 L524,900.3 L525,900.3 L526,900.3 L527,900.3 L528,900.3 L529,900.3 L530,900.3 L531,900.3 L532,900.3 L533,900.3 L534,900.3 L535,900.3 L536,900.0 L537,899.5 L538,898.8 L539,898.0 L540,897.2 L541,896.7 L542,896.4 L543,896.4 L544,896.7 L545,897.3 L546,898.0 L547,898.8 L548,899.5 L549,900.1 L550,900.3 L551,900.3 L552,900.3 L553,900.3 L554,900.3 L555,900.2 L556,900.0 L557,899.6 L558,899.3 L559,899.0 L560,898.8 L561,898.8 L562,899.0 L563,899.2 L564,899.6 L565,899.9 L566,900.2 L567,900.3 L568,900.3 L569,900.3 L570,900.3 L571,900.3 L572,900.3 L573,900.3 L574,900.3 L575,900.3 L576,900.3 L577,900.3 L578,900.3 L579,900.3 L580,900.4 L581,900.6 L582,900.8 L583,901.0 L584,901.2 L585,901.3 L586,901.2 L587,901.0 L588,900.7 L589,897.5 L590,892.1 L591,885.1 L592,876.8 L593,867.6 L594,857.6 L595,847.1 L596,836.4 L597,825.7 L598,815.2 L599,805.2 L600,795.8 L601,787.2 L602,779.5 L603,773.0 L604,767.8 L605,763.9 L606,761.4 L607,760.3 L608,760.8 L609,762.7 L610,766.0 L611,770.8 L612,776.8 L613,784.0 L614,792.2 L615,801.3 L616,811.1 L617,821.5 L618,832.1 L619,842.8 L620,853.4 L621,863.6 L622,873.2 L623,881.9 L624,889.5 L625,895.5 L626,899.5 L627,900.3 L628,900.3 L629,900.3 L630,900.3 L631,900.2 L632,900.1 L633,900.0 L634,899.8 L635,899.7 L636,899.7 L637,899.8 L638,899.9 L639,900.0 L640,900.1 L641,900.2 L642,900.3 L643,900.3 L644,900.3 L645,900.3 L646,900.3 L647,900.3 L648,900.3 L649,900.3 L650,900.3 L651,900.3 L652,900.3 L653,900.3 L654,900.2 L655,899.9 L656,899.5 L657,899.0 L658,898.5 L659,897.9 L660,897.3 L661,896.8 L662,896.4 L663,896.1 L664,896.0 L665,896.0 L666,896.1 L667,896.4 L668,896.8 L669,897.3 L670,897.9 L671,898.5 L672,899.0 L673,899.5 L674,899.9 L675,900.2 L676,900.3 L677,900.3 L678,900.3 L679,900.3 L680,900.3 L681,900.3 L682,900.3 L683,900.3 L684,900.3 L685,900.3 L686,900.3 L687,900.3 L688,900.3 L689,900.3 L690,900.3 L691,900.3 L692,900.3 L693,900.3 L694,900.3 L695,900.3 L696,900.3 L697,900.3 L698,900.3 L699,900.3 L700,900.3 L701,900.2 L702,900.1 L703,899.9 L704,899.6 L705,899.3 L706,899.0 L707,898.8 L708,898.6 L709,898.4 L710,898.4 L711,898.5 L712,898.6 L713,898.8 L714,899.1 L715,899.3 L716,899.6 L717,899.9 L718,900.1 L719,900.2 L720,900.3 L721,900.3 L722,900.3 L723,900.3 L724,900.3 L725,900.3 L726,900.3 L727,900.3 L728,900.2 L729,900.2 L730,900.2 L731,900.1 L732,900.1 L733,900.0 L734,900.0 L735,900.0 L736,900.0 L737,900.1 L738,900.1 L739,900.2 L740,900.2 L741,900.2 L742,900.3 L743,900.3 L744,900.3 L745,900.3 L746,900.3 L747,900.3 L748,900.3 L749,900.3 L750,900.2 L751,900.2 L752,900.1 L753,900.1 L754,900.1 L755,900.1 L756,900.2 L757,900.2 L758,900.3 L759,900.3 L760,900.3 L761,900.3 L762,900.3 L763,900.3 L764,900.2 L765,899.9 L766,899.3 L767,898.6 L768,897.8 L769,897.0 L770,896.4 L771,896.0 L772,895.9 L773,896.0 L774,896.5 L775,897.1 L776,897.9 L777,898.6 L778,899.4 L779,899.9 L780,900.2 L781,900.3 L782,900.3 L783,900.3 L784,900.3 L785,900.3 L786,900.2 L787,900.1 L788,899.9 L789,899.6 L790,899.3 L791,898.9 L792,898.6 L793,898.3 L794,898.1 L795,897.9 L796,897.8 L797,897.8 L798,897.9 L799,898.1 L800,898.4 L801,898.7 L802,899.0 L803,899.3 L804,899.6 L805,899.9 L806,900.1 L807,900.3 L808,900.3 L809,900.3 L810,900.3 L811,900.2 L812,900.1 L813,900.0 L814,899.9 L815,899.8 L816,899.8 L817,899.8 L818,899.8 L819,899.9 L820,900.0 L821,900.1 L822,900.2 L823,900.2 L824,900.3 L825,900.3 L826,900.1 L827,899.8 L828,899.4 L829,899.0 L830,898.5 L831,898.0 L832,897.5 L833,897.2 L834,896.9 L835,896.7 L836,896.7 L837,896.8 L838,897.0 L839,897.4 L840,897.8 L841,898.3 L842,898.8 L843,899.3 L844,899.7 L845,900.0 L846,900.2 L847,900.2 L848,900.2 L849,900.1 L850,899.9 L851,899.8 L852,899.7 L853,899.6 L854,899.6 L855,899.6 L856,899.6 L857,899.7 L858,899.8 L859,899.9 L860,900.0 L861,900.2 L862,900.2 L863,900.3 L864,900.3 L865,900.3 L866,900.3 L867,900.3 L868,900.3 L869,900.3 L870,900.3 L871,900.3 L872,900.0 L873,899.7 L874,899.2 L875,898.8 L876,898.4 L877,898.2" fill="none" stroke="#3a3ad0" stroke-width="1.7" stroke-opacity="0.8" stroke-linejoin="round"/>
<path d="M99,899.7 L100,899.7 L101,899.7 L102,899.7 L103,899.7 L104,899.7 L105,899.7 L106,899.7 L107,899.7 L108,899.7 L109,899.7 L110,899.6 L111,899.6 L112,899.5 L113,899.5 L114,899.5 L115,899.5 L116,899.6 L117,899.6 L118,899.7 L119,899.7 L120,899.7 L121,899.7 L122,899.7 L123,899.7 L124,899.7 L125,899.7 L126,899.7 L127,899.7 L128,899.7 L129,899.7 L130,899.7 L131,899.8 L132,899.9 L133,900.1 L134,900.3 L135,900.4 L136,900.5 L137,900.5 L138,900.3 L139,900.2 L140,900.0 L141,899.8 L142,899.7 L143,899.7 L144,899.7 L145,899.7 L146,899.7 L147,899.7 L148,899.7 L149,899.7 L150,899.7 L151,899.7 L152,899.6 L153,899.6 L154,899.5 L155,899.5 L156,899.4 L157,899.3 L158,899.3 L159,899.3 L160,899.2 L161,899.2 L162,899.3 L163,899.3 L164,899.4 L165,899.4 L166,899.5 L167,899.6 L168,899.6 L169,899.7 L170,899.7 L171,899.7 L172,899.7 L173,899.7 L174,899.7 L175,899.7 L176,899.6 L177,899.2 L178,898.5 L179,897.6 L180,896.8 L181,896.3 L182,896.0 L183,896.1 L184,896.6 L185,897.3 L186,898.1 L187,898.9 L188,899.5 L189,899.7 L190,899.7 L191,899.7 L192,899.7 L193,899.7 L194,899.7 L195,899.7 L196,899.7 L197,899.7 L198,899.7 L199,899.4 L200,898.8 L201,898.0 L202,897.3 L203,896.7 L204,896.4 L205,896.5 L206,897.0 L207,897.7 L208,898.5 L209,899.2 L210,899.6 L211,899.7 L212,899.7 L213,899.7 L214,899.7 L215,899.7 L216,899.7 L217,899.7 L218,899.7 L219,899.7 L220,899.7 L221,899.7 L222,899.7 L223,899.7 L224,899.7 L225,899.7 L226,899.7 L227,899.8 L228,899.8 L229,899.8 L230,899.9 L231,899.9 L232,899.9 L233,899.9 L234,899.9 L235,899.9 L236,899.9 L237,899.9 L238,899.8 L239,899.8 L240,899.8 L241,899.7 L242,899.7 L243,899.7 L244,899.7 L245,899.7 L246,899.7 L247,899.7 L248,899.7 L249,899.7 L250,899.7 L251,899.7 L252,899.7 L253,899.7 L254,899.7 L255,899.7 L256,899.6 L257,899.3 L258,898.8 L259,898.1 L260,897.4 L261,896.8 L262,896.4 L263,896.2 L264,896.3 L265,896.7 L266,897.2 L267,897.9 L268,898.5 L269,899.0 L270,899.3 L271,899.3 L272,899.1 L273,898.9 L274,898.6 L275,898.4 L276,898.2 L277,898.1 L278,898.0 L279,898.0 L280,898.0 L281,898.1 L282,898.3 L283,898.5 L284,898.7 L285,898.9 L286,899.1 L287,899.4 L288,899.5 L289,899.6 L290,899.7 L291,899.7 L292,899.4 L293,898.7 L294,897.9 L295,897.0 L296,896.3 L297,895.9 L298,895.8 L299,896.2 L300,896.9 L301,897.7 L302,898.6 L303,899.3 L304,899.7 L305,899.7 L306,899.7 L307,899.7 L308,899.7 L309,899.7 L310,899.7 L311,899.7 L312,899.7 L313,899.7 L314,899.7 L315,899.7 L316,899.7 L317,899.7 L318,899.7 L319,899.7 L320,899.8 L321,900.0 L322,900.2 L323,900.4 L324,900.5 L325,900.7 L326,900.7 L327,900.7 L328,900.6 L329,900.4 L330,900.2 L331,900.0 L332,899.9 L333,899.7 L334,899.7 L335,899.7 L336,899.7 L337,899.7 L338,899.7 L339,899.7 L340,899.7 L341,899.7 L342,899.7 L343,899.7 L344,899.7 L345,899.5 L346,899.2 L347,898.8 L348,898.4 L349,898.0 L350,897.5 L351,897.1 L352,896.7 L353,896.5 L354,896.3 L355,896.3 L356,896.4 L357,896.7 L358,897.0 L359,897.4 L360,897.9 L361,898.3 L362,898.8 L363,899.1 L364,899.4 L365,899.6 L366,899.7 L367,899.7 L368,899.7 L369,899.7 L370,899.7 L371,899.7 L372,899.7 L373,899.6 L374,899.4 L375,899.1 L376,898.6 L377,898.2 L378,897.7 L379,897.3 L380,896.9 L381,896.7 L382,896.6 L383,896.7 L384,896.9 L385,897.2 L386,897.7 L387,898.1 L388,898.6 L389,899.0 L390,899.4 L391,899.6 L392,899.7 L393,899.6 L394,899.4 L395,899.2 L396,898.9 L397,898.7 L398,898.5 L399,898.4 L400,898.5 L401,898.7 L402,899.0 L403,899.2 L404,899.5 L405,899.7 L406,899.7 L407,899.7 L408,899.7 L409,899.7 L410,899.7 L411,899.7 L412,899.7 L413,899.7 L414,899.7 L415,899.7 L416,899.7 L417,899.7 L418,899.5 L419,899.2 L420,898.7 L421,898.2 L422,897.7 L423,897.3 L424,897.1 L425,897.1 L426,897.4 L427,897.8 L428,898.3 L429,898.9 L430,899.1 L431,899.1 L432,898.7 L433,898.1 L434,897.5 L435,896.9 L436,896.3 L437,895.9 L438,895.6 L439,895.4 L440,895.4 L441,895.6 L442,896.0 L443,896.5 L444,897.1 L445,897.7 L446,898.3 L447,898.8 L448,899.3 L449,899.6 L450,899.7 L451,899.7 L452,899.7 L453,899.6 L454,899.4 L455,899.2 L456,898.9 L457,898.7 L458,898.4 L459,898.2 L460,898.0 L461,897.9 L462,897.8 L463,897.8 L464,897.9 L465,898.1 L466,898.3 L467,898.6 L468,898.8 L469,899.1 L470,899.3 L471,899.5 L472,899.6 L473,899.1 L474,897.7 L475,895.6 L476,893.1 L477,890.3 L478,887.2 L479,884.0 L480,880.6 L481,877.3 L482,873.9 L483,870.7 L484,867.7 L485,864.9 L486,862.4 L487,860.3 L488,858.5 L489,857.1 L490,856.2 L491,855.8 L492,855.8 L493,856.2 L494,857.1 L495,858.5 L496,860.3 L497,862.4 L498,864.9 L499,867.7 L500,870.7 L501,873.9 L502,877.3 L503,880.6 L504,884.0 L505,887.3 L506,890.4 L507,893.2 L508,895.7 L509,897.8 L510,899.2 L511,899.7 L512,899.7 L513,899.7 L514,899.7 L515,899.7 L516,899.7 L517,899.5 L518,899.2 L519,898.7 L520,898.2 L521,897.8 L522,897.7 L523,897.7 L524,898.0 L525,898.5 L526,899.0 L527,899.4 L528,899.7 L529,899.7 L530,899.7 L531,899.7 L532,899.7 L533,899.7 L534,899.7 L535,899.7 L536,899.7 L537,899.8 L538,899.9 L539,900.0 L540,900.0 L541,900.1 L542,900.1 L543,900.1 L544,900.0 L545,899.9 L546,899.8 L547,899.8 L548,899.7 L549,899.7 L550,899.7 L551,899.7 L552,899.7 L553,899.5 L554,899.1 L555,898.5 L556,897.8 L557,897.2 L558,896.7 L559,896.3 L560,896.2 L561,896.3 L562,896.6 L563,897.2 L564,897.8 L565,898.4 L566,899.0 L567,899.5 L568,899.7 L569,899.7 L570,899.7 L571,899.7 L572,899.7 L573,899.7 L574,899.6 L575,899.3 L576,898.9 L577,898.4 L578,898.0 L579,897.6 L580,897.4 L581,897.4 L582,897.7 L583,898.0 L584,898.5 L585,899.0 L586,899.4 L587,899.5 L588,899.4 L589,899.1 L590,898.8 L591,898.5 L592,898.2 L593,898.0 L594,897.9 L595,897.9 L596,898.0 L597,898.2 L598,898.5 L599,898.8 L600,899.1 L601,899.4 L602,899.6 L603,899.7 L604,899.7 L605,899.7 L606,899.7 L607,899.7 L608,899.7 L609,899.7 L610,899.7 L611,899.6 L612,899.4 L613,899.2 L614,899.0 L615,898.8 L616,898.7 L617,898.5 L618,898.4 L619,898.4 L620,898.4 L621,898.5 L622,898.7 L623,898.9 L624,899.1 L625,899.2 L626,899.4 L627,899.6 L628,899.7 L629,899.7 L630,899.7 L631,899.7 L632,899.7 L633,899.7 L634,899.7 L635,899.7 L636,899.7 L637,899.7 L638,899.7 L639,899.7 L640,899.6 L641,899.6 L642,899.6 L643,899.6 L644,899.5 L645,899.5 L646,899.6 L647,899.6 L648,899.6 L649,899.6 L650,899.6 L651,899.7 L652,899.7 L653,899.7 L654,899.7 L655,899.7 L656,899.7 L657,899.7 L658,899.7 L659,899.7 L660,899.7 L661,899.7 L662,899.7 L663,899.6 L664,899.6 L665,899.6 L666,899.6 L667,899.6 L668,899.6 L669,899.6 L670,899.7 L671,899.7 L672,899.7 L673,899.7 L674,899.7 L675,899.7 L676,899.7 L677,899.7 L678,899.7 L679,899.6 L680,899.3 L681,899.0 L682,898.5 L683,898.0 L684,897.5 L685,896.9 L686,896.5 L687,896.1 L688,895.8 L689,895.7 L690,895.8 L691,895.9 L692,896.3 L693,896.7 L694,897.2 L695,897.7 L696,898.2 L697,898.7 L698,899.2 L699,899.5 L700,899.7 L701,899.7 L702,899.6 L703,899.3 L704,898.8 L705,898.2 L706,897.6 L707,897.3 L708,897.2 L709,897.5 L710,898.0 L711,898.6 L712,899.1 L713,899.5 L714,899.5 L715,899.3 L716,899.1 L717,898.9 L718,898.6 L719,898.4 L720,898.2 L721,898.1 L722,898.0 L723,898.0 L724,898.0 L725,898.1 L726,898.3 L727,898.5 L728,898.7 L729,898.9 L730,899.0 L731,898.9 L732,898.7 L733,898.4 L734,898.0 L735,897.6 L736,897.0 L737,894.8 L738,889.9 L739,882.9 L740,874.4 L741,865.0 L742,854.9 L743,844.4 L744,833.6 L745,823.0 L746,812.6 L747,802.6 L748,793.4 L749,784.9 L750,777.5 L751,771.3 L752,766.3 L753,762.6 L754,760.4 L755,759.7 L756,760.4 L757,762.6 L758,766.3 L759,771.3 L760,777.5 L761,784.9 L762,793.4 L763,802.6 L764,812.6 L765,823.0 L766,833.6 L767,844.4 L768,854.9 L769,865.0 L770,874.4 L771,882.9 L772,890.1 L773,895.3 L774,897.7 L775,897.5 L776,897.2 L777,897.0 L778,896.9 L779,896.9 L780,897.1 L781,897.3 L782,897.7 L783,898.1 L784,898.5 L785,898.9 L786,899.3 L787,899.5 L788,899.7 L789,899.7 L790,899.7 L791,899.7 L792,899.5 L793,899.3 L794,898.9 L795,898.4 L796,897.9 L797,897.4 L798,897.0 L799,896.6 L800,896.2 L801,896.1 L802,896.0 L803,896.1 L804,896.3 L805,896.7 L806,896.9 L807,894.8 L808,889.6 L809,882.3 L810,873.8 L811,864.3 L812,854.3 L813,844.1 L814,833.8 L815,823.8 L816,814.3 L817,805.5 L818,797.6 L819,790.9 L820,785.4 L821,781.3 L822,778.6 L823,777.5 L824,778.0 L825,780.0 L826,783.6 L827,788.5 L828,794.8 L829,802.2 L830,810.7 L831,819.9 L832,829.8 L833,840.0 L834,850.3 L835,860.4 L836,870.1 L837,879.0 L838,886.9 L839,893.4 L840,898.1 L841,897.8 L842,893.0 L843,886.5 L844,878.6 L845,869.8 L846,860.2 L847,850.3 L848,840.2 L849,830.2 L850,820.6 L851,811.6 L852,803.4 L853,796.3 L854,790.2 L855,785.5 L856,782.2 L857,780.4 L858,780.1 L859,781.3 L860,784.0 L861,788.2 L862,793.7 L863,800.4 L864,808.2 L865,816.9 L866,826.3 L867,836.2 L868,846.2 L869,856.3 L870,866.0 L871,875.2 L872,883.5 L873,890.7 L874,896.5 L875,900.3 L876,900.6 L877,900.5" fill="none" stroke="#2fbf2f" stroke-width="1.7" stroke-opacity="0.8" stroke-linejoin="round"/>
<line x1="99" y1="848" x2="103" y2="900" stroke="#222" stroke-width="1.5"/>
<text x="0" y="0" transform="translate(509.8,712.6) scale(0.92,1)" font-family='"Liberation Serif", serif' font-size="41.7" font-weight="bold" fill="#000" text-anchor="middle" >c.3304 T&gt;C</text>
<line x1="498.2" y1="796.35" x2="498.2" y2="817.8" stroke="#f00" stroke-width="3.5" stroke-linecap="round"/>
<polygon points="493.0,813.5 498.2,816.5 503.4,813.5 498.2,820.3" fill="#f00" stroke="#f00" stroke-width="3" stroke-linejoin="round"/>
<text x="0" y="0" transform="translate(491.9,967.3) scale(0.946,1)" font-family='"Liberation Serif", serif' font-size="42" font-weight="bold" fill="#000" text-anchor="middle" >Patient 1</text>
<text x="0" y="0" font-family='"Liberation Mono", monospace' font-size="13.49" fill="#3535a0" textLength="590.8" lengthAdjust="spacingAndGlyphs" transform="translate(191.2,1016) scale(1,1.236)">0003_31220061601543_(200207081)_[616-chr1-167830192-F].ab1,chr1-167830192</text>
<text x="122.3" y="1042.2" font-family='"Liberation Sans", sans-serif' font-size="18" font-weight="bold" fill="#ff0000" text-anchor="middle" >T</text>
<text x="159.7" y="1042.2" font-family='"Liberation Sans", sans-serif' font-size="18" font-weight="bold" fill="#ff0000" text-anchor="middle" >T</text>
<text x="201" y="1042.2" font-family='"Liberation Sans", sans-serif' font-size="18" font-weight="bold" fill="#000000" text-anchor="middle" >G</text>
<text x="241.9" y="1042.2" font-family='"Liberation Sans", sans-serif' font-size="18" font-weight="bold" fill="#000000" text-anchor="middle" >G</text>
<text x="274.4" y="1042.2" font-family='"Liberation Sans", sans-serif' font-size="18" font-weight="bold" fill="#ff0000" text-anchor="middle" >T</text>
<text x="313.3" y="1042.2" font-family='"Liberation Sans", sans-serif' font-size="18" font-weight="bold" fill="#0000ff" text-anchor="middle" >C</text>
<text x="348.2" y="1042.2" font-family='"Liberation Sans", sans-serif' font-size="18" font-weight="bold" fill="#ff0000" text-anchor="middle" >T</text>
<text x="390" y="1042.2" font-family='"Liberation Sans", sans-serif' font-size="18" font-weight="bold" fill="#000000" text-anchor="middle" >G</text>
<text x="426.4" y="1042.2" font-family='"Liberation Sans", sans-serif' font-size="18" font-weight="bold" fill="#ff0000" text-anchor="middle" >T</text>
<text x="464.4" y="1042.2" font-family='"Liberation Sans", sans-serif' font-size="18" font-weight="bold" fill="#0000ff" text-anchor="middle" >C</text>
<text x="502.2" y="1042.2" font-family='"Liberation Sans", sans-serif' font-size="18" font-weight="bold" fill="#000000" text-anchor="middle" >G</text>
<text x="541.2" y="1042.2" font-family='"Liberation Sans", sans-serif' font-size="18" font-weight="bold" fill="#ff0000" text-anchor="middle" >T</text>
<text x="579" y="1042.2" font-family='"Liberation Sans", sans-serif' font-size="18" font-weight="bold" fill="#ff0000" text-anchor="middle" >T</text>
<text x="616.7" y="1042.2" font-family='"Liberation Sans", sans-serif' font-size="18" font-weight="bold" fill="#0000ff" text-anchor="middle" >C</text>
<text x="653.8" y="1042.2" font-family='"Liberation Sans", sans-serif' font-size="18" font-weight="bold" fill="#ff0000" text-anchor="middle" >T</text>
<text x="690.9" y="1042.2" font-family='"Liberation Sans", sans-serif' font-size="18" font-weight="bold" fill="#ff0000" text-anchor="middle" >T</text>
<text x="728" y="1042.2" font-family='"Liberation Sans", sans-serif' font-size="18" font-weight="bold" fill="#ff0000" text-anchor="middle" >T</text>
<text x="763.2" y="1042.2" font-family='"Liberation Sans", sans-serif' font-size="18" font-weight="bold" fill="#008000" text-anchor="middle" >A</text>
<text x="796.5" y="1042.2" font-family='"Liberation Sans", sans-serif' font-size="18" font-weight="bold" fill="#ff0000" text-anchor="middle" >T</text>
<text x="828.4" y="1042.2" font-family='"Liberation Sans", sans-serif' font-size="18" font-weight="bold" fill="#008000" text-anchor="middle" >A</text>
<text x="865.5" y="1042.2" font-family='"Liberation Sans", sans-serif' font-size="18" font-weight="bold" fill="#008000" text-anchor="middle" >A</text>
<text x="118.4" y="1032.3" font-family='"Liberation Sans", sans-serif' font-size="15" font-weight="bold" fill="#111">130</text>
<text x="496.4" y="1032.6" font-family='"Liberation Sans", sans-serif' font-size="15" font-weight="bold" fill="#111">140</text>
<text x="861" y="1032.6" font-family='"Liberation Sans", sans-serif' font-size="15" font-weight="bold" fill="#111">15</text>
<path d="M99,1384.6 L100,1384.6 L101,1384.6 L102,1384.6 L103,1384.6 L104,1384.6 L105,1384.6 L106,1384.4 L107,1384.1 L108,1383.7 L109,1383.2 L110,1382.7 L111,1382.2 L112,1381.7 L113,1381.3 L114,1381.1 L115,1381.0 L116,1381.0 L117,1381.2 L118,1381.6 L119,1382.0 L120,1382.5 L121,1383.1 L122,1383.6 L123,1384.0 L124,1384.4 L125,1384.5 L126,1384.5 L127,1384.3 L128,1384.0 L129,1383.8 L130,1383.5 L131,1383.2 L132,1383.1 L133,1383.0 L134,1383.0 L135,1383.1 L136,1383.3 L137,1383.6 L138,1383.9 L139,1384.2 L140,1384.4 L141,1384.6 L142,1384.6 L143,1384.6 L144,1384.6 L145,1384.6 L146,1384.6 L147,1384.6 L148,1384.6 L149,1384.6 L150,1384.6 L151,1384.6 L152,1384.4 L153,1384.0 L154,1383.2 L155,1382.5 L156,1381.8 L157,1381.4 L158,1381.3 L159,1381.6 L160,1382.2 L161,1383.0 L162,1383.8 L163,1384.3 L164,1384.6 L165,1384.3 L166,1383.9 L167,1383.3 L168,1382.7 L169,1382.1 L170,1381.5 L171,1381.2 L172,1381.0 L173,1381.1 L174,1381.4 L175,1381.9 L176,1381.6 L177,1376.8 L178,1368.3 L179,1357.4 L180,1345.0 L181,1331.3 L182,1316.8 L183,1301.7 L184,1286.5 L185,1271.5 L186,1256.9 L187,1243.1 L188,1230.3 L189,1218.8 L190,1208.8 L191,1200.5 L192,1194.0 L193,1189.4 L194,1186.9 L195,1186.5 L196,1188.2 L197,1191.9 L198,1197.6 L199,1205.3 L200,1214.6 L201,1225.6 L202,1237.9 L203,1251.3 L204,1265.6 L205,1280.5 L206,1295.7 L207,1310.8 L208,1325.6 L209,1339.6 L210,1352.6 L211,1364.2 L212,1373.8 L213,1381.0 L214,1384.6 L215,1384.6 L216,1384.6 L217,1384.2 L218,1381.1 L219,1376.0 L220,1369.4 L221,1361.7 L222,1353.1 L223,1344.0 L224,1334.4 L225,1324.7 L226,1315.0 L227,1305.6 L228,1296.5 L229,1288.1 L230,1280.5 L231,1273.8 L232,1268.1 L233,1263.6 L234,1260.3 L235,1258.3 L236,1257.6 L237,1258.3 L238,1260.3 L239,1263.6 L240,1268.1 L241,1273.8 L242,1280.5 L243,1288.1 L244,1296.5 L245,1305.6 L246,1315.0 L247,1324.7 L248,1334.4 L249,1344.0 L250,1353.1 L251,1361.7 L252,1369.4 L253,1376.1 L254,1381.5 L255,1384.8 L256,1384.9 L257,1384.7 L258,1384.6 L259,1384.6 L260,1384.6 L261,1384.6 L262,1384.6 L263,1384.6 L264,1384.6 L265,1384.6 L266,1384.6 L267,1384.6 L268,1384.3 L269,1383.8 L270,1383.1 L271,1382.4 L272,1381.6 L273,1381.0 L274,1380.6 L275,1380.4 L276,1380.6 L277,1381.1 L278,1381.7 L279,1382.5 L280,1383.2 L281,1383.9 L282,1384.4 L283,1384.6 L284,1384.6 L285,1384.6 L286,1384.6 L287,1384.6 L288,1384.4 L289,1384.1 L290,1383.8 L291,1383.5 L292,1383.4 L293,1383.4 L294,1383.6 L295,1383.8 L296,1384.2 L297,1384.4 L298,1384.6 L299,1384.6 L300,1384.6 L301,1384.6 L302,1384.6 L303,1384.4 L304,1384.3 L305,1384.1 L306,1383.8 L307,1383.6 L308,1383.4 L309,1383.3 L310,1383.3 L311,1383.3 L312,1383.5 L313,1383.6 L314,1383.9 L315,1384.1 L316,1384.3 L317,1384.5 L318,1384.6 L319,1384.6 L320,1384.6 L321,1384.6 L322,1384.6 L323,1384.6 L324,1384.5 L325,1384.5 L326,1384.5 L327,1384.5 L328,1384.5 L329,1384.5 L330,1384.5 L331,1384.5 L332,1384.6 L333,1384.6 L334,1384.6 L335,1384.6 L336,1384.6 L337,1384.6 L338,1384.6 L339,1384.6 L340,1384.6 L341,1384.6 L342,1384.6 L343,1384.6 L344,1384.6 L345,1384.5 L346,1384.4 L347,1384.3 L348,1384.2 L349,1384.1 L350,1384.2 L351,1384.3 L352,1384.4 L353,1384.5 L354,1384.6 L355,1384.6 L356,1384.6 L357,1384.6 L358,1384.6 L359,1384.6 L360,1384.6 L361,1384.6 L362,1384.6 L363,1384.6 L364,1384.6 L365,1384.6 L366,1383.7 L367,1377.6 L368,1368.1 L369,1356.1 L370,1342.2 L371,1326.7 L372,1310.2 L373,1293.1 L374,1275.7 L375,1258.4 L376,1241.6 L377,1225.6 L378,1210.7 L379,1197.2 L380,1185.3 L381,1175.4 L382,1167.5 L383,1161.8 L384,1158.5 L385,1157.5 L386,1159.0 L387,1162.8 L388,1168.9 L389,1177.2 L390,1187.6 L391,1199.8 L392,1213.6 L393,1228.7 L394,1244.9 L395,1261.9 L396,1279.2 L397,1296.6 L398,1313.6 L399,1329.9 L400,1345.1 L401,1358.7 L402,1370.2 L403,1379.0 L404,1384.0 L405,1384.2 L406,1384.1 L407,1384.0 L408,1383.9 L409,1383.9 L410,1383.9 L411,1383.9 L412,1384.0 L413,1384.1 L414,1384.2 L415,1384.3 L416,1384.4 L417,1384.5 L418,1384.6 L419,1384.6 L420,1384.6 L421,1384.6 L422,1384.6 L423,1384.6 L424,1384.6 L425,1384.6 L426,1384.6 L427,1384.5 L428,1384.2 L429,1383.6 L430,1382.9 L431,1382.1 L432,1381.4 L433,1380.9 L434,1380.5 L435,1380.5 L436,1380.7 L437,1381.1 L438,1381.8 L439,1382.5 L440,1383.3 L441,1383.9 L442,1384.4 L443,1384.6 L444,1384.6 L445,1384.6 L446,1384.6 L447,1384.6 L448,1384.6 L449,1384.6 L450,1384.6 L451,1384.6 L452,1384.6 L453,1384.6 L454,1384.6 L455,1384.5 L456,1384.3 L457,1383.8 L458,1383.3 L459,1382.8 L460,1382.4 L461,1382.1 L462,1382.0 L463,1382.1 L464,1382.4 L465,1382.8 L466,1383.3 L467,1383.8 L468,1384.3 L469,1384.5 L470,1384.6 L471,1384.6 L472,1384.6 L473,1384.6 L474,1384.6 L475,1384.6 L476,1384.4 L477,1384.1 L478,1383.7 L479,1382.9 L480,1380.5 L481,1376.6 L482,1371.3 L483,1364.9 L484,1357.8 L485,1350.2 L486,1342.3 L487,1334.2 L488,1326.2 L489,1318.4 L490,1311.0 L491,1304.1 L492,1297.9 L493,1292.4 L494,1287.8 L495,1284.1 L496,1281.5 L497,1280.0 L498,1279.5 L499,1280.2 L500,1281.9 L501,1284.8 L502,1288.6 L503,1293.4 L504,1299.1 L505,1305.4 L506,1312.5 L507,1320.0 L508,1327.8 L509,1335.8 L510,1343.9 L511,1351.7 L512,1359.3 L513,1366.3 L514,1372.6 L515,1378.0 L516,1382.1 L517,1384.5 L518,1384.5 L519,1384.1 L520,1383.6 L521,1383.0 L522,1382.4 L523,1381.9 L524,1381.5 L525,1381.3 L526,1381.3 L527,1381.5 L528,1382.0 L529,1382.6 L530,1383.2 L531,1383.7 L532,1384.2 L533,1384.5 L534,1384.4 L535,1384.2 L536,1383.9 L537,1383.6 L538,1383.4 L539,1383.1 L540,1382.9 L541,1382.7 L542,1382.7 L543,1382.7 L544,1382.8 L545,1383.0 L546,1383.3 L547,1383.6 L548,1383.9 L549,1384.1 L550,1384.4 L551,1384.5 L552,1384.6 L553,1384.6 L554,1384.6 L555,1384.6 L556,1384.6 L557,1384.6 L558,1384.6 L559,1384.6 L560,1384.5 L561,1384.4 L562,1384.2 L563,1384.1 L564,1383.9 L565,1383.8 L566,1383.7 L567,1383.7 L568,1383.7 L569,1383.8 L570,1383.9 L571,1384.1 L572,1384.3 L573,1384.4 L574,1384.5 L575,1384.6 L576,1384.6 L577,1384.6 L578,1384.6 L579,1384.6 L580,1384.6 L581,1384.5 L582,1384.2 L583,1383.8 L584,1383.3 L585,1382.7 L586,1382.2 L587,1381.8 L588,1381.5 L589,1381.4 L590,1381.4 L591,1381.7 L592,1382.1 L593,1382.6 L594,1383.2 L595,1383.7 L596,1384.2 L597,1384.5 L598,1384.6 L599,1384.6 L600,1384.6 L601,1384.6 L602,1384.6 L603,1384.6 L604,1384.5 L605,1384.3 L606,1383.9 L607,1383.5 L608,1383.2 L609,1383.0 L610,1383.1 L611,1383.3 L612,1383.6 L613,1384.0 L614,1384.2 L615,1384.2 L616,1383.9 L617,1383.6 L618,1383.2 L619,1382.9 L620,1382.5 L621,1382.2 L622,1382.0 L623,1381.8 L624,1381.8 L625,1381.8 L626,1382.0 L627,1382.2 L628,1382.5 L629,1382.8 L630,1383.2 L631,1383.6 L632,1383.9 L633,1384.2 L634,1384.4 L635,1384.6 L636,1384.6 L637,1384.6 L638,1384.6 L639,1384.6 L640,1384.6 L641,1384.6 L642,1384.5 L643,1384.3 L644,1384.1 L645,1383.9 L646,1383.7 L647,1383.6 L648,1383.6 L649,1383.7 L650,1383.8 L651,1384.1 L652,1384.3 L653,1384.5 L654,1384.6 L655,1384.6 L656,1384.6 L657,1384.6 L658,1384.6 L659,1384.6 L660,1384.5 L661,1384.2 L662,1383.8 L663,1383.2 L664,1382.6 L665,1381.9 L666,1381.3 L667,1380.8 L668,1380.4 L669,1380.2 L670,1380.2 L671,1380.4 L672,1380.7 L673,1381.2 L674,1381.8 L675,1382.5 L676,1383.1 L677,1383.7 L678,1384.1 L679,1384.5 L680,1384.6 L681,1384.6 L682,1384.6 L683,1384.6 L684,1384.6 L685,1384.6 L686,1384.4 L687,1383.9 L688,1383.2 L689,1382.4 L690,1381.7 L691,1381.1 L692,1380.9 L693,1381.0 L694,1381.4 L695,1382.0 L696,1382.8 L697,1383.6 L698,1384.2 L699,1384.5 L700,1384.6 L701,1384.6 L702,1384.6 L703,1384.6 L704,1384.6 L705,1384.6 L706,1384.5 L707,1384.1 L708,1383.6 L709,1383.0 L710,1382.3 L711,1381.6 L712,1381.0 L713,1380.6 L714,1380.4 L715,1380.4 L716,1380.6 L717,1381.1 L718,1381.7 L719,1382.4 L720,1383.1 L721,1383.7 L722,1384.2 L723,1384.5 L724,1384.6 L725,1384.6 L726,1384.6 L727,1384.6 L728,1384.6 L729,1384.5 L730,1384.5 L731,1384.4 L732,1384.4 L733,1384.3 L734,1384.3 L735,1384.3 L736,1384.3 L737,1384.3 L738,1384.3 L739,1384.4 L740,1384.4 L741,1384.5 L742,1384.5 L743,1384.6 L744,1384.6 L745,1384.6 L746,1384.6 L747,1384.6 L748,1384.6 L749,1384.6 L750,1384.6 L751,1384.6 L752,1384.6 L753,1384.6 L754,1384.6 L755,1384.6 L756,1384.7 L757,1384.8 L758,1384.9 L759,1385.1 L760,1385.2 L761,1385.4 L762,1385.5 L763,1385.7 L764,1385.7 L765,1385.8 L766,1385.7 L767,1385.7 L768,1385.6 L769,1385.4 L770,1385.3 L771,1385.1 L772,1384.9 L773,1384.8 L774,1384.7 L775,1384.6 L776,1384.6 L777,1384.6 L778,1384.6 L779,1384.6 L780,1384.6 L781,1384.6 L782,1384.6 L783,1384.5 L784,1384.2 L785,1383.8 L786,1383.2 L787,1382.7 L788,1382.1 L789,1381.6 L790,1381.2 L791,1380.9 L792,1380.8 L793,1380.8 L794,1381.0 L795,1381.4 L796,1381.9 L797,1382.4 L798,1383.0 L799,1383.5 L800,1384.0 L801,1384.4 L802,1384.6 L803,1384.6 L804,1384.6 L805,1384.6 L806,1384.6 L807,1384.6 L808,1384.6 L809,1384.6 L810,1384.6 L811,1384.5 L812,1384.4 L813,1384.1 L814,1383.9 L815,1383.6 L816,1383.3 L817,1383.1 L818,1382.9 L819,1382.8 L820,1382.9 L821,1383.0 L822,1383.2 L823,1383.5 L824,1383.8 L825,1384.1 L826,1384.3 L827,1384.5 L828,1384.6 L829,1384.6 L830,1384.6 L831,1384.7 L832,1384.8 L833,1384.9 L834,1385.0 L835,1385.1 L836,1385.2 L837,1385.3 L838,1385.4 L839,1385.5 L840,1385.5 L841,1385.5 L842,1385.4 L843,1385.3 L844,1385.2 L845,1385.1 L846,1385.0 L847,1384.9 L848,1384.8 L849,1384.7 L850,1384.6 L851,1384.6 L852,1384.6 L853,1384.6 L854,1384.6 L855,1384.6 L856,1384.6 L857,1384.6 L858,1384.6 L859,1384.6 L860,1384.6 L861,1384.7 L862,1384.7 L863,1384.7 L864,1384.7 L865,1384.7 L866,1384.6 L867,1384.6 L868,1384.6 L869,1384.6 L870,1384.6 L871,1384.6 L872,1384.6 L873,1384.6 L874,1384.6 L875,1384.6 L876,1384.6 L877,1384.6" fill="none" stroke="#222222" stroke-width="1.7" stroke-opacity="0.8" stroke-linejoin="round"/>
<path d="M99,1383.4 L100,1383.4 L101,1383.4 L102,1383.4 L103,1381.7 L104,1377.6 L105,1371.9 L106,1365.1 L107,1357.4 L108,1349.1 L109,1340.3 L110,1331.4 L111,1322.6 L112,1314.0 L113,1305.8 L114,1298.3 L115,1291.6 L116,1285.8 L117,1281.1 L118,1277.5 L119,1275.2 L120,1274.2 L121,1274.4 L122,1276.0 L123,1278.8 L124,1282.9 L125,1288.0 L126,1294.2 L127,1301.3 L128,1309.0 L129,1317.4 L130,1326.1 L131,1335.0 L132,1343.9 L133,1352.5 L134,1360.6 L135,1368.0 L136,1374.4 L137,1379.5 L138,1382.9 L139,1380.3 L140,1374.6 L141,1367.2 L142,1358.6 L143,1349.1 L144,1338.8 L145,1328.2 L146,1317.4 L147,1306.8 L148,1296.6 L149,1286.9 L150,1278.1 L151,1270.3 L152,1263.7 L153,1258.4 L154,1254.5 L155,1252.2 L156,1251.4 L157,1252.2 L158,1254.5 L159,1258.4 L160,1263.7 L161,1270.3 L162,1278.1 L163,1286.9 L164,1296.6 L165,1306.8 L166,1317.4 L167,1328.2 L168,1338.8 L169,1349.1 L170,1358.6 L171,1367.2 L172,1374.5 L173,1380.1 L174,1383.3 L175,1383.4 L176,1383.4 L177,1383.3 L178,1383.0 L179,1382.7 L180,1382.3 L181,1381.8 L182,1381.3 L183,1380.9 L184,1380.5 L185,1380.2 L186,1380.1 L187,1380.1 L188,1380.2 L189,1380.5 L190,1380.8 L191,1381.3 L192,1381.7 L193,1382.2 L194,1382.6 L195,1383.0 L196,1383.1 L197,1382.9 L198,1382.5 L199,1381.9 L200,1381.4 L201,1380.8 L202,1380.4 L203,1380.0 L204,1379.8 L205,1379.8 L206,1380.0 L207,1380.3 L208,1380.7 L209,1381.2 L210,1381.8 L211,1382.3 L212,1382.8 L213,1383.2 L214,1383.4 L215,1383.5 L216,1383.7 L217,1384.0 L218,1384.2 L219,1384.4 L220,1384.5 L221,1384.4 L222,1384.2 L223,1384.0 L224,1383.7 L225,1383.5 L226,1383.4 L227,1383.4 L228,1383.4 L229,1383.4 L230,1383.4 L231,1383.4 L232,1383.4 L233,1383.4 L234,1383.4 L235,1383.4 L236,1383.4 L237,1383.4 L238,1383.4 L239,1383.4 L240,1383.4 L241,1383.4 L242,1383.3 L243,1383.3 L244,1383.2 L245,1383.2 L246,1383.2 L247,1383.2 L248,1383.2 L249,1383.3 L250,1383.3 L251,1383.4 L252,1383.4 L253,1382.8 L254,1379.9 L255,1375.5 L256,1370.0 L257,1363.7 L258,1356.7 L259,1349.2 L260,1341.5 L261,1333.7 L262,1326.0 L263,1318.4 L264,1311.3 L265,1304.6 L266,1298.7 L267,1293.4 L268,1289.0 L269,1285.6 L270,1283.1 L271,1281.7 L272,1281.4 L273,1282.2 L274,1284.0 L275,1286.8 L276,1290.7 L277,1295.4 L278,1301.0 L279,1307.2 L280,1314.1 L281,1321.4 L282,1329.0 L283,1336.8 L284,1344.6 L285,1352.3 L286,1359.5 L287,1366.3 L288,1372.2 L289,1377.1 L290,1380.7 L291,1382.8 L292,1383.2 L293,1383.4 L294,1383.4 L295,1383.4 L296,1383.4 L297,1383.3 L298,1383.1 L299,1382.8 L300,1382.3 L301,1381.8 L302,1381.3 L303,1380.9 L304,1380.6 L305,1380.5 L306,1380.6 L307,1380.9 L308,1381.3 L309,1381.8 L310,1382.3 L311,1382.8 L312,1383.1 L313,1383.4 L314,1383.4 L315,1383.4 L316,1383.4 L317,1383.4 L318,1383.4 L319,1383.3 L320,1383.0 L321,1382.7 L322,1382.3 L323,1382.0 L324,1381.9 L325,1382.0 L326,1382.2 L327,1381.4 L328,1377.5 L329,1371.3 L330,1363.6 L331,1354.8 L332,1345.2 L333,1335.0 L334,1324.5 L335,1313.9 L336,1303.5 L337,1293.3 L338,1283.8 L339,1274.9 L340,1267.0 L341,1260.1 L342,1254.4 L343,1250.0 L344,1247.0 L345,1245.4 L346,1245.2 L347,1246.5 L348,1249.3 L349,1253.4 L350,1258.9 L351,1265.5 L352,1273.3 L353,1281.9 L354,1291.4 L355,1301.4 L356,1311.8 L357,1322.4 L358,1332.9 L359,1343.2 L360,1353.0 L361,1361.9 L362,1369.8 L363,1375.9 L364,1379.9 L365,1381.7 L366,1382.4 L367,1382.9 L368,1383.2 L369,1383.1 L370,1382.9 L371,1382.6 L372,1382.3 L373,1381.9 L374,1381.6 L375,1381.4 L376,1381.2 L377,1381.2 L378,1381.2 L379,1381.3 L380,1381.4 L381,1381.7 L382,1382.0 L383,1382.3 L384,1382.6 L385,1382.9 L386,1383.2 L387,1383.6 L388,1383.9 L389,1384.1 L390,1384.3 L391,1384.5 L392,1384.5 L393,1384.4 L394,1384.2 L395,1384.0 L396,1383.7 L397,1383.5 L398,1383.4 L399,1383.4 L400,1383.4 L401,1383.4 L402,1383.4 L403,1383.4 L404,1382.6 L405,1379.5 L406,1375.0 L407,1369.5 L408,1363.1 L409,1356.1 L410,1348.7 L411,1341.0 L412,1333.2 L413,1325.5 L414,1318.1 L415,1311.0 L416,1304.5 L417,1298.6 L418,1293.5 L419,1289.2 L420,1285.9 L421,1283.5 L422,1282.3 L423,1282.0 L424,1282.9 L425,1284.8 L426,1287.8 L427,1291.7 L428,1296.4 L429,1302.0 L430,1308.3 L431,1315.2 L432,1322.5 L433,1330.1 L434,1337.9 L435,1345.6 L436,1353.2 L437,1360.4 L438,1367.0 L439,1372.9 L440,1377.5 L441,1380.4 L442,1381.5 L443,1381.6 L444,1381.8 L445,1382.1 L446,1382.5 L447,1382.9 L448,1383.2 L449,1383.4 L450,1383.4 L451,1383.4 L452,1383.4 L453,1383.4 L454,1383.4 L455,1383.4 L456,1383.4 L457,1383.4 L458,1383.4 L459,1383.4 L460,1383.4 L461,1383.4 L462,1383.4 L463,1383.4 L464,1383.2 L465,1382.9 L466,1382.4 L467,1381.8 L468,1381.2 L469,1380.7 L470,1380.3 L471,1380.1 L472,1380.1 L473,1380.2 L474,1380.6 L475,1381.0 L476,1381.6 L477,1382.2 L478,1382.7 L479,1383.1 L480,1383.3 L481,1383.4 L482,1383.3 L483,1383.0 L484,1382.6 L485,1382.2 L486,1381.7 L487,1381.3 L488,1381.0 L489,1380.9 L490,1381.0 L491,1381.2 L492,1381.5 L493,1381.9 L494,1382.4 L495,1382.8 L496,1383.2 L497,1383.4 L498,1383.4 L499,1383.4 L500,1383.4 L501,1383.4 L502,1383.4 L503,1383.4 L504,1383.4 L505,1383.3 L506,1383.2 L507,1383.1 L508,1383.0 L509,1382.9 L510,1382.9 L511,1382.8 L512,1382.8 L513,1382.8 L514,1382.8 L515,1382.9 L516,1382.9 L517,1382.8 L518,1380.6 L519,1376.8 L520,1371.8 L521,1365.9 L522,1359.4 L523,1352.4 L524,1345.1 L525,1337.6 L526,1330.2 L527,1323.0 L528,1316.1 L529,1309.7 L530,1303.9 L531,1298.8 L532,1294.4 L533,1291.0 L534,1288.4 L535,1286.9 L536,1286.4 L537,1286.9 L538,1288.4 L539,1291.0 L540,1294.4 L541,1298.8 L542,1303.9 L543,1309.7 L544,1316.1 L545,1323.0 L546,1330.2 L547,1337.6 L548,1345.1 L549,1352.4 L550,1359.4 L551,1365.9 L552,1371.8 L553,1376.7 L554,1380.5 L555,1382.6 L556,1380.2 L557,1375.2 L558,1368.4 L559,1360.2 L560,1351.0 L561,1341.2 L562,1330.8 L563,1320.2 L564,1309.6 L565,1299.3 L566,1289.4 L567,1280.1 L568,1271.5 L569,1264.0 L570,1257.6 L571,1252.4 L572,1248.5 L573,1246.1 L574,1245.0 L575,1245.5 L576,1247.4 L577,1250.7 L578,1255.4 L579,1261.3 L580,1268.4 L581,1276.5 L582,1285.6 L583,1295.3 L584,1305.5 L585,1316.0 L586,1326.6 L587,1337.1 L588,1347.2 L589,1356.6 L590,1365.2 L591,1372.7 L592,1378.6 L593,1382.4 L594,1383.2 L595,1383.2 L596,1383.2 L597,1383.2 L598,1383.3 L599,1383.3 L600,1383.4 L601,1383.4 L602,1383.4 L603,1383.4 L604,1383.4 L605,1383.4 L606,1383.4 L607,1383.4 L608,1383.4 L609,1383.4 L610,1383.4 L611,1383.4 L612,1383.4 L613,1383.4 L614,1383.5 L615,1383.6 L616,1383.7 L617,1383.8 L618,1383.9 L619,1384.1 L620,1384.2 L621,1384.3 L622,1384.4 L623,1384.4 L624,1384.4 L625,1384.3 L626,1384.2 L627,1384.1 L628,1384.0 L629,1381.7 L630,1376.8 L631,1370.3 L632,1362.4 L633,1353.5 L634,1343.8 L635,1333.6 L636,1323.1 L637,1312.6 L638,1302.2 L639,1292.3 L640,1282.9 L641,1274.4 L642,1266.7 L643,1260.2 L644,1254.9 L645,1250.9 L646,1248.2 L647,1247.1 L648,1247.4 L649,1249.1 L650,1252.3 L651,1256.8 L652,1262.7 L653,1269.7 L654,1277.7 L655,1286.6 L656,1296.2 L657,1306.3 L658,1316.8 L659,1327.3 L660,1337.7 L661,1347.7 L662,1357.2 L663,1365.7 L664,1373.0 L665,1378.9 L666,1382.6 L667,1379.7 L668,1373.3 L669,1365.0 L670,1355.2 L671,1344.3 L672,1332.5 L673,1320.1 L674,1307.6 L675,1295.0 L676,1282.8 L677,1271.1 L678,1260.2 L679,1250.2 L680,1241.5 L681,1234.1 L682,1228.2 L683,1223.9 L684,1221.3 L685,1220.4 L686,1221.3 L687,1223.9 L688,1228.2 L689,1234.1 L690,1241.5 L691,1250.2 L692,1260.2 L693,1271.1 L694,1282.8 L695,1295.0 L696,1307.6 L697,1320.1 L698,1332.5 L699,1344.3 L700,1355.2 L701,1365.0 L702,1373.3 L703,1379.3 L704,1382.4 L705,1381.4 L706,1377.2 L707,1370.9 L708,1362.9 L709,1353.8 L710,1343.8 L711,1333.3 L712,1322.4 L713,1311.4 L714,1300.6 L715,1290.1 L716,1280.2 L717,1271.0 L718,1262.8 L719,1255.6 L720,1249.7 L721,1245.2 L722,1242.0 L723,1240.4 L724,1240.2 L725,1241.6 L726,1244.4 L727,1248.7 L728,1254.4 L729,1261.3 L730,1269.3 L731,1278.3 L732,1288.0 L733,1298.4 L734,1309.2 L735,1320.2 L736,1331.1 L737,1341.8 L738,1351.9 L739,1361.2 L740,1369.4 L741,1376.3 L742,1381.4 L743,1383.6 L744,1383.5 L745,1383.5 L746,1383.4 L747,1383.4 L748,1383.4 L749,1383.3 L750,1383.1 L751,1382.8 L752,1382.5 L753,1382.2 L754,1381.9 L755,1381.8 L756,1381.8 L757,1381.9 L758,1382.1 L759,1382.4 L760,1382.7 L761,1383.0 L762,1383.2 L763,1383.4 L764,1383.4 L765,1383.4 L766,1383.4 L767,1383.4 L768,1383.4 L769,1383.4 L770,1383.4 L771,1383.0 L772,1379.5 L773,1373.8 L774,1366.4 L775,1357.8 L776,1348.2 L777,1338.0 L778,1327.3 L779,1316.4 L780,1305.6 L781,1295.0 L782,1284.9 L783,1275.5 L784,1267.0 L785,1259.5 L786,1253.1 L787,1248.1 L788,1244.4 L789,1242.2 L790,1241.4 L791,1242.2 L792,1244.4 L793,1248.1 L794,1253.1 L795,1259.5 L796,1267.0 L797,1275.5 L798,1284.9 L799,1295.0 L800,1305.6 L801,1316.4 L802,1327.3 L803,1338.0 L804,1348.2 L805,1357.8 L806,1366.4 L807,1373.7 L808,1379.4 L809,1382.9 L810,1383.3 L811,1383.4 L812,1383.4 L813,1383.4 L814,1383.4 L815,1383.4 L816,1383.4 L817,1383.4 L818,1383.4 L819,1383.4 L820,1383.4 L821,1383.4 L822,1383.3 L823,1383.1 L824,1383.0 L825,1382.8 L826,1382.7 L827,1382.7 L828,1382.7 L829,1382.8 L830,1382.9 L831,1383.0 L832,1383.2 L833,1383.3 L834,1383.4 L835,1383.4 L836,1383.4 L837,1383.4 L838,1383.4 L839,1383.4 L840,1383.4 L841,1383.4 L842,1383.3 L843,1383.0 L844,1382.7 L845,1382.3 L846,1381.8 L847,1381.3 L848,1380.8 L849,1380.4 L850,1380.1 L851,1379.9 L852,1379.8 L853,1379.9 L854,1380.0 L855,1380.3 L856,1380.7 L857,1381.2 L858,1381.6 L859,1382.1 L860,1382.6 L861,1382.9 L862,1383.2 L863,1383.2 L864,1382.9 L865,1382.4 L866,1381.8 L867,1381.2 L868,1380.7 L869,1380.2 L870,1379.8 L871,1379.6 L872,1379.6 L873,1379.7 L874,1380.1 L875,1380.5 L876,1381.1 L877,1381.7" fill="none" stroke="#d03a3a" stroke-width="1.7" stroke-opacity="0.8" stroke-linejoin="round"/>
<path d="M99,1384.3 L100,1384.3 L101,1384.3 L102,1384.3 L103,1384.3 L104,1384.3 L105,1384.3 L106,1384.3 L107,1384.3 L108,1384.3 L109,1384.3 L110,1384.3 L111,1384.3 L112,1384.3 L113,1384.3 L114,1384.3 L115,1384.3 L116,1384.3 L117,1384.3 L118,1384.3 L119,1384.4 L120,1384.5 L121,1384.6 L122,1384.8 L123,1384.9 L124,1385.0 L125,1385.0 L126,1384.9 L127,1384.8 L128,1384.7 L129,1384.5 L130,1384.4 L131,1384.3 L132,1384.3 L133,1384.3 L134,1384.3 L135,1384.3 L136,1384.3 L137,1384.3 L138,1384.3 L139,1384.3 L140,1384.3 L141,1384.3 L142,1384.3 L143,1384.3 L144,1384.3 L145,1384.3 L146,1384.3 L147,1384.3 L148,1384.3 L149,1384.3 L150,1384.3 L151,1384.3 L152,1384.3 L153,1384.3 L154,1384.3 L155,1384.3 L156,1384.3 L157,1384.3 L158,1384.3 L159,1384.3 L160,1384.3 L161,1384.3 L162,1384.3 L163,1384.3 L164,1384.3 L165,1384.3 L166,1384.3 L167,1384.3 L168,1384.3 L169,1384.3 L170,1384.0 L171,1383.6 L172,1383.0 L173,1382.3 L174,1381.6 L175,1381.1 L176,1380.8 L177,1380.7 L178,1380.9 L179,1381.3 L180,1381.9 L181,1382.6 L182,1383.2 L183,1383.8 L184,1384.2 L185,1384.3 L186,1384.3 L187,1384.3 L188,1384.2 L189,1384.2 L190,1384.1 L191,1384.0 L192,1384.0 L193,1383.9 L194,1383.9 L195,1383.9 L196,1383.8 L197,1383.8 L198,1383.9 L199,1383.9 L200,1384.0 L201,1384.0 L202,1384.1 L203,1384.1 L204,1384.2 L205,1384.2 L206,1384.3 L207,1384.3 L208,1384.3 L209,1384.3 L210,1384.1 L211,1383.8 L212,1383.4 L213,1382.9 L214,1382.3 L215,1381.7 L216,1381.2 L217,1380.7 L218,1380.3 L219,1380.1 L220,1380.1 L221,1380.2 L222,1380.4 L223,1380.8 L224,1381.3 L225,1381.9 L226,1382.4 L227,1383.0 L228,1383.5 L229,1383.9 L230,1384.1 L231,1384.0 L232,1383.7 L233,1383.2 L234,1382.8 L235,1382.5 L236,1382.4 L237,1382.5 L238,1382.7 L239,1383.2 L240,1383.6 L241,1384.0 L242,1384.3 L243,1384.5 L244,1384.6 L245,1384.7 L246,1384.8 L247,1384.9 L248,1385.0 L249,1385.0 L250,1385.1 L251,1385.1 L252,1385.1 L253,1385.0 L254,1384.9 L255,1384.8 L256,1384.7 L257,1384.6 L258,1384.5 L259,1384.4 L260,1384.4 L261,1384.3 L262,1384.3 L263,1384.3 L264,1384.3 L265,1384.3 L266,1384.3 L267,1384.3 L268,1384.3 L269,1384.3 L270,1384.2 L271,1383.9 L272,1383.4 L273,1382.7 L274,1382.0 L275,1381.4 L276,1381.0 L277,1380.8 L278,1380.8 L279,1381.2 L280,1381.7 L281,1382.3 L282,1383.0 L283,1383.6 L284,1384.1 L285,1384.3 L286,1384.3 L287,1384.3 L288,1384.3 L289,1382.1 L290,1377.1 L291,1370.3 L292,1362.0 L293,1352.7 L294,1342.6 L295,1332.0 L296,1321.0 L297,1310.1 L298,1299.3 L299,1288.9 L300,1279.1 L301,1270.1 L302,1262.1 L303,1255.2 L304,1249.5 L305,1245.2 L306,1242.4 L307,1241.0 L308,1241.2 L309,1242.8 L310,1246.0 L311,1250.6 L312,1256.5 L313,1263.6 L314,1271.8 L315,1281.0 L316,1290.9 L317,1301.4 L318,1312.3 L319,1323.2 L320,1334.1 L321,1344.7 L322,1354.7 L323,1363.8 L324,1371.8 L325,1378.3 L326,1382.8 L327,1384.3 L328,1384.3 L329,1384.3 L330,1384.3 L331,1384.3 L332,1384.3 L333,1384.3 L334,1384.2 L335,1383.9 L336,1383.5 L337,1382.9 L338,1382.3 L339,1381.6 L340,1381.1 L341,1380.7 L342,1380.5 L343,1380.4 L344,1380.6 L345,1381.0 L346,1381.6 L347,1382.2 L348,1382.9 L349,1383.4 L350,1383.9 L351,1384.2 L352,1384.3 L353,1384.3 L354,1384.3 L355,1384.3 L356,1384.3 L357,1384.3 L358,1384.3 L359,1384.3 L360,1384.3 L361,1384.3 L362,1384.3 L363,1384.3 L364,1384.3 L365,1384.2 L366,1384.0 L367,1383.7 L368,1383.5 L369,1383.2 L370,1383.0 L371,1382.9 L372,1382.9 L373,1383.0 L374,1383.3 L375,1383.5 L376,1383.8 L377,1384.1 L378,1384.2 L379,1384.3 L380,1384.3 L381,1384.3 L382,1384.3 L383,1384.3 L384,1384.3 L385,1384.3 L386,1384.3 L387,1384.3 L388,1384.3 L389,1384.3 L390,1384.3 L391,1384.3 L392,1384.3 L393,1384.0 L394,1383.3 L395,1382.4 L396,1381.6 L397,1381.0 L398,1380.8 L399,1381.0 L400,1381.7 L401,1382.6 L402,1383.4 L403,1384.1 L404,1384.3 L405,1384.3 L406,1384.3 L407,1384.3 L408,1384.3 L409,1384.3 L410,1384.3 L411,1384.3 L412,1384.3 L413,1384.3 L414,1384.3 L415,1384.3 L416,1384.3 L417,1384.3 L418,1384.4 L419,1384.6 L420,1384.7 L421,1384.9 L422,1385.0 L423,1385.0 L424,1384.9 L425,1384.8 L426,1384.6 L427,1384.5 L428,1384.4 L429,1384.3 L430,1384.3 L431,1384.3 L432,1384.3 L433,1384.3 L434,1384.3 L435,1384.3 L436,1384.3 L437,1384.3 L438,1384.3 L439,1384.3 L440,1382.9 L441,1378.7 L442,1372.6 L443,1365.2 L444,1356.7 L445,1347.5 L446,1337.6 L447,1327.5 L448,1317.3 L449,1307.2 L450,1297.4 L451,1288.2 L452,1279.7 L453,1272.0 L454,1265.4 L455,1259.9 L456,1255.6 L457,1252.7 L458,1251.2 L459,1251.0 L460,1252.3 L461,1254.9 L462,1258.9 L463,1264.2 L464,1270.6 L465,1278.1 L466,1286.4 L467,1295.5 L468,1305.2 L469,1315.2 L470,1325.5 L471,1335.6 L472,1345.5 L473,1354.9 L474,1363.6 L475,1371.3 L476,1377.6 L477,1382.0 L478,1383.5 L479,1383.3 L480,1383.1 L481,1383.1 L482,1383.2 L483,1383.4 L484,1383.7 L485,1384.0 L486,1384.2 L487,1384.3 L488,1384.3 L489,1384.3 L490,1384.3 L491,1384.2 L492,1384.2 L493,1384.2 L494,1384.2 L495,1384.1 L496,1384.1 L497,1384.1 L498,1384.1 L499,1384.1 L500,1384.2 L501,1384.2 L502,1384.2 L503,1384.2 L504,1384.2 L505,1384.3 L506,1384.0 L507,1383.6 L508,1382.9 L509,1382.2 L510,1381.4 L511,1380.8 L512,1380.4 L513,1380.3 L514,1380.5 L515,1380.9 L516,1381.5 L517,1382.2 L518,1383.0 L519,1383.6 L520,1384.1 L521,1384.3 L522,1384.3 L523,1384.3 L524,1384.3 L525,1384.3 L526,1384.3 L527,1384.3 L528,1384.3 L529,1384.3 L530,1384.3 L531,1384.3 L532,1384.3 L533,1384.3 L534,1384.3 L535,1384.3 L536,1384.0 L537,1383.5 L538,1382.8 L539,1382.0 L540,1381.2 L541,1380.7 L542,1380.4 L543,1380.4 L544,1380.7 L545,1381.3 L546,1382.0 L547,1382.8 L548,1383.5 L549,1384.1 L550,1384.3 L551,1384.3 L552,1384.3 L553,1384.3 L554,1384.3 L555,1384.2 L556,1384.0 L557,1383.6 L558,1383.3 L559,1383.0 L560,1382.8 L561,1382.8 L562,1383.0 L563,1383.2 L564,1383.6 L565,1383.9 L566,1384.2 L567,1384.3 L568,1384.3 L569,1384.3 L570,1384.3 L571,1384.3 L572,1384.3 L573,1384.3 L574,1384.3 L575,1384.3 L576,1384.3 L577,1384.3 L578,1384.3 L579,1384.3 L580,1384.4 L581,1384.6 L582,1384.8 L583,1385.0 L584,1385.2 L585,1385.3 L586,1385.2 L587,1385.0 L588,1384.8 L589,1384.5 L590,1384.4 L591,1382.8 L592,1378.2 L593,1371.5 L594,1363.4 L595,1354.1 L596,1343.9 L597,1333.2 L598,1322.1 L599,1310.8 L600,1299.8 L601,1289.1 L602,1279.0 L603,1269.6 L604,1261.2 L605,1254.0 L606,1247.9 L607,1243.3 L608,1240.1 L609,1238.4 L610,1238.2 L611,1239.6 L612,1242.5 L613,1246.9 L614,1252.7 L615,1259.7 L616,1267.9 L617,1277.0 L618,1287.0 L619,1297.6 L620,1308.6 L621,1319.8 L622,1331.0 L623,1341.8 L624,1352.1 L625,1361.6 L626,1370.0 L627,1377.0 L628,1382.1 L629,1384.3 L630,1384.3 L631,1384.2 L632,1384.1 L633,1384.0 L634,1383.8 L635,1383.7 L636,1383.7 L637,1383.8 L638,1383.9 L639,1384.0 L640,1384.1 L641,1384.2 L642,1384.3 L643,1384.3 L644,1384.3 L645,1384.3 L646,1384.3 L647,1384.3 L648,1384.3 L649,1384.3 L650,1384.3 L651,1384.3 L652,1384.3 L653,1384.3 L654,1384.2 L655,1383.9 L656,1383.5 L657,1383.0 L658,1382.5 L659,1381.9 L660,1381.3 L661,1380.8 L662,1380.4 L663,1380.1 L664,1380.0 L665,1380.0 L666,1380.1 L667,1380.4 L668,1380.8 L669,1381.3 L670,1381.9 L671,1382.5 L672,1383.0 L673,1383.5 L674,1383.9 L675,1384.2 L676,1384.3 L677,1384.3 L678,1384.3 L679,1384.3 L680,1384.3 L681,1384.3 L682,1384.3 L683,1384.3 L684,1384.3 L685,1384.3 L686,1384.3 L687,1384.3 L688,1384.3 L689,1384.3 L690,1384.3 L691,1384.3 L692,1384.3 L693,1384.3 L694,1384.3 L695,1384.3 L696,1384.3 L697,1384.3 L698,1384.3 L699,1384.3 L700,1384.3 L701,1384.2 L702,1384.1 L703,1383.9 L704,1383.6 L705,1383.3 L706,1383.0 L707,1382.8 L708,1382.6 L709,1382.4 L710,1382.4 L711,1382.5 L712,1382.6 L713,1382.8 L714,1383.1 L715,1383.3 L716,1383.6 L717,1383.9 L718,1384.1 L719,1384.2 L720,1384.3 L721,1384.3 L722,1384.3 L723,1384.3 L724,1384.3 L725,1384.3 L726,1384.3 L727,1384.3 L728,1384.2 L729,1384.2 L730,1384.2 L731,1384.1 L732,1384.1 L733,1384.0 L734,1384.0 L735,1384.0 L736,1384.0 L737,1384.1 L738,1384.1 L739,1384.2 L740,1384.2 L741,1384.2 L742,1384.3 L743,1384.3 L744,1384.3 L745,1384.3 L746,1384.3 L747,1384.3 L748,1384.3 L749,1384.3 L750,1384.2 L751,1384.2 L752,1384.1 L753,1384.1 L754,1384.1 L755,1384.1 L756,1384.2 L757,1384.2 L758,1384.3 L759,1384.3 L760,1384.3 L761,1384.3 L762,1384.3 L763,1384.3 L764,1384.2 L765,1383.9 L766,1383.3 L767,1382.6 L768,1381.8 L769,1381.0 L770,1380.4 L771,1380.0 L772,1379.9 L773,1380.0 L774,1380.5 L775,1381.1 L776,1381.9 L777,1382.6 L778,1383.4 L779,1383.9 L780,1384.2 L781,1384.3 L782,1384.3 L783,1384.3 L784,1384.3 L785,1384.3 L786,1384.2 L787,1384.1 L788,1383.9 L789,1383.6 L790,1383.3 L791,1382.9 L792,1382.6 L793,1382.3 L794,1382.1 L795,1381.9 L796,1381.8 L797,1381.8 L798,1381.9 L799,1382.1 L800,1382.4 L801,1382.7 L802,1383.0 L803,1383.3 L804,1383.6 L805,1383.9 L806,1384.1 L807,1384.3 L808,1384.3 L809,1384.3 L810,1384.3 L811,1384.2 L812,1384.1 L813,1384.0 L814,1383.9 L815,1383.8 L816,1383.8 L817,1383.8 L818,1383.8 L819,1383.9 L820,1384.0 L821,1384.1 L822,1384.2 L823,1384.2 L824,1384.3 L825,1384.3 L826,1384.1 L827,1383.8 L828,1383.4 L829,1383.0 L830,1382.5 L831,1382.0 L832,1381.5 L833,1381.2 L834,1380.9 L835,1380.7 L836,1380.7 L837,1380.8 L838,1381.0 L839,1381.4 L840,1381.8 L841,1382.3 L842,1382.8 L843,1383.3 L844,1383.7 L845,1384.0 L846,1384.2 L847,1384.2 L848,1384.2 L849,1384.1 L850,1383.9 L851,1383.8 L852,1383.7 L853,1383.6 L854,1383.6 L855,1383.6 L856,1383.6 L857,1383.7 L858,1383.8 L859,1383.9 L860,1384.0 L861,1384.2 L862,1384.2 L863,1384.3 L864,1384.3 L865,1384.3 L866,1384.3 L867,1384.3 L868,1384.3 L869,1384.3 L870,1384.3 L871,1384.3 L872,1384.0 L873,1383.7 L874,1383.2 L875,1382.8 L876,1382.4 L877,1382.2" fill="none" stroke="#3a3ad0" stroke-width="1.7" stroke-opacity="0.8" stroke-linejoin="round"/>
<path d="M99,1383.7 L100,1383.7 L101,1383.7 L102,1383.7 L103,1383.7 L104,1383.7 L105,1383.7 L106,1383.7 L107,1383.7 L108,1383.7 L109,1383.7 L110,1383.6 L111,1383.6 L112,1383.5 L113,1383.5 L114,1383.5 L115,1383.5 L116,1383.6 L117,1383.6 L118,1383.7 L119,1383.7 L120,1383.7 L121,1383.7 L122,1383.7 L123,1383.7 L124,1383.7 L125,1383.7 L126,1383.7 L127,1383.7 L128,1383.7 L129,1383.7 L130,1383.7 L131,1383.8 L132,1383.9 L133,1384.1 L134,1384.3 L135,1384.4 L136,1384.5 L137,1384.5 L138,1384.3 L139,1384.2 L140,1384.0 L141,1383.8 L142,1383.7 L143,1383.7 L144,1383.7 L145,1383.7 L146,1383.7 L147,1383.7 L148,1383.7 L149,1383.7 L150,1383.7 L151,1383.7 L152,1383.6 L153,1383.6 L154,1383.5 L155,1383.5 L156,1383.4 L157,1383.3 L158,1383.3 L159,1383.3 L160,1383.2 L161,1383.2 L162,1383.3 L163,1383.3 L164,1383.4 L165,1383.4 L166,1383.5 L167,1383.6 L168,1383.6 L169,1383.7 L170,1383.7 L171,1383.7 L172,1383.7 L173,1383.7 L174,1383.7 L175,1383.7 L176,1383.6 L177,1383.2 L178,1382.5 L179,1381.6 L180,1380.8 L181,1380.3 L182,1380.0 L183,1380.1 L184,1380.6 L185,1381.3 L186,1382.1 L187,1382.9 L188,1383.5 L189,1383.7 L190,1383.7 L191,1383.7 L192,1383.7 L193,1383.7 L194,1383.7 L195,1383.7 L196,1383.7 L197,1383.7 L198,1383.7 L199,1383.4 L200,1382.8 L201,1382.0 L202,1381.3 L203,1380.7 L204,1380.4 L205,1380.5 L206,1381.0 L207,1381.7 L208,1382.5 L209,1383.2 L210,1383.6 L211,1383.7 L212,1383.7 L213,1383.7 L214,1383.7 L215,1383.7 L216,1383.7 L217,1383.7 L218,1383.7 L219,1383.7 L220,1383.7 L221,1383.7 L222,1383.7 L223,1383.7 L224,1383.7 L225,1383.7 L226,1383.7 L227,1383.8 L228,1383.8 L229,1383.8 L230,1383.9 L231,1383.9 L232,1383.9 L233,1383.9 L234,1383.9 L235,1383.9 L236,1383.9 L237,1383.9 L238,1383.8 L239,1383.8 L240,1383.8 L241,1383.7 L242,1383.7 L243,1383.7 L244,1383.7 L245,1383.7 L246,1383.7 L247,1383.7 L248,1383.7 L249,1383.7 L250,1383.7 L251,1383.7 L252,1383.7 L253,1383.7 L254,1383.7 L255,1383.7 L256,1383.6 L257,1383.3 L258,1382.8 L259,1382.1 L260,1381.4 L261,1380.8 L262,1380.4 L263,1380.2 L264,1380.3 L265,1380.7 L266,1381.2 L267,1381.9 L268,1382.5 L269,1383.0 L270,1383.3 L271,1383.3 L272,1383.1 L273,1382.9 L274,1382.6 L275,1382.4 L276,1382.2 L277,1382.1 L278,1382.0 L279,1382.0 L280,1382.0 L281,1382.1 L282,1382.3 L283,1382.5 L284,1382.7 L285,1382.9 L286,1383.1 L287,1383.4 L288,1383.5 L289,1383.6 L290,1383.7 L291,1383.7 L292,1383.4 L293,1382.7 L294,1381.9 L295,1381.0 L296,1380.3 L297,1379.9 L298,1379.8 L299,1380.2 L300,1380.9 L301,1381.7 L302,1382.6 L303,1383.3 L304,1383.7 L305,1383.7 L306,1383.7 L307,1383.7 L308,1383.7 L309,1383.7 L310,1383.7 L311,1383.7 L312,1383.7 L313,1383.7 L314,1383.7 L315,1383.7 L316,1383.7 L317,1383.7 L318,1383.7 L319,1383.7 L320,1383.8 L321,1384.0 L322,1384.2 L323,1384.4 L324,1384.5 L325,1384.7 L326,1384.7 L327,1384.7 L328,1384.6 L329,1384.4 L330,1384.2 L331,1384.0 L332,1383.9 L333,1383.7 L334,1383.7 L335,1383.7 L336,1383.7 L337,1383.7 L338,1383.7 L339,1383.7 L340,1383.7 L341,1383.7 L342,1383.7 L343,1383.7 L344,1383.7 L345,1383.5 L346,1383.2 L347,1382.8 L348,1382.4 L349,1382.0 L350,1381.5 L351,1381.1 L352,1380.7 L353,1380.5 L354,1380.3 L355,1380.3 L356,1380.4 L357,1380.7 L358,1381.0 L359,1381.4 L360,1381.9 L361,1382.3 L362,1382.8 L363,1383.1 L364,1383.4 L365,1383.6 L366,1383.7 L367,1383.7 L368,1383.7 L369,1383.7 L370,1383.7 L371,1383.7 L372,1383.7 L373,1383.6 L374,1383.4 L375,1383.1 L376,1382.6 L377,1382.2 L378,1381.7 L379,1381.3 L380,1380.9 L381,1380.7 L382,1380.6 L383,1380.7 L384,1380.9 L385,1381.2 L386,1381.7 L387,1382.1 L388,1382.6 L389,1383.0 L390,1383.4 L391,1383.6 L392,1383.7 L393,1383.6 L394,1383.4 L395,1383.2 L396,1382.9 L397,1382.7 L398,1382.5 L399,1382.4 L400,1382.5 L401,1382.7 L402,1383.0 L403,1383.2 L404,1383.5 L405,1383.7 L406,1383.7 L407,1383.7 L408,1383.7 L409,1383.7 L410,1383.7 L411,1383.7 L412,1383.7 L413,1383.7 L414,1383.7 L415,1383.7 L416,1383.7 L417,1383.7 L418,1383.5 L419,1383.2 L420,1382.7 L421,1382.2 L422,1381.7 L423,1381.3 L424,1381.1 L425,1381.1 L426,1381.4 L427,1381.8 L428,1382.3 L429,1382.9 L430,1383.1 L431,1383.1 L432,1382.7 L433,1382.1 L434,1381.5 L435,1380.9 L436,1380.3 L437,1379.9 L438,1379.6 L439,1379.4 L440,1379.4 L441,1379.6 L442,1380.0 L443,1380.5 L444,1381.1 L445,1381.7 L446,1382.3 L447,1382.8 L448,1383.3 L449,1383.6 L450,1383.7 L451,1383.7 L452,1383.7 L453,1383.6 L454,1383.4 L455,1383.2 L456,1382.9 L457,1382.7 L458,1382.4 L459,1382.2 L460,1382.0 L461,1381.9 L462,1381.8 L463,1381.8 L464,1381.9 L465,1382.1 L466,1382.3 L467,1382.6 L468,1382.8 L469,1383.1 L470,1383.3 L471,1383.5 L472,1383.6 L473,1383.7 L474,1383.7 L475,1383.7 L476,1383.7 L477,1383.6 L478,1383.4 L479,1383.3 L480,1383.0 L481,1382.9 L482,1382.7 L483,1382.7 L484,1382.7 L485,1382.7 L486,1382.9 L487,1383.1 L488,1383.3 L489,1383.5 L490,1383.6 L491,1383.7 L492,1383.7 L493,1383.7 L494,1383.8 L495,1384.0 L496,1384.1 L497,1384.3 L498,1384.5 L499,1384.6 L500,1384.7 L501,1384.8 L502,1384.8 L503,1384.7 L504,1384.6 L505,1384.5 L506,1384.3 L507,1384.1 L508,1384.0 L509,1383.8 L510,1383.8 L511,1383.7 L512,1383.7 L513,1383.7 L514,1383.7 L515,1383.7 L516,1383.7 L517,1383.5 L518,1383.2 L519,1382.7 L520,1382.2 L521,1381.8 L522,1381.7 L523,1381.7 L524,1382.0 L525,1382.5 L526,1383.0 L527,1383.4 L528,1383.7 L529,1383.7 L530,1383.7 L531,1383.7 L532,1383.7 L533,1383.7 L534,1383.7 L535,1383.7 L536,1383.7 L537,1383.8 L538,1383.9 L539,1384.0 L540,1384.0 L541,1384.1 L542,1384.1 L543,1384.1 L544,1384.0 L545,1383.9 L546,1383.8 L547,1383.8 L548,1383.7 L549,1383.7 L550,1383.7 L551,1383.7 L552,1383.7 L553,1383.5 L554,1383.1 L555,1382.5 L556,1381.8 L557,1381.2 L558,1380.7 L559,1380.3 L560,1380.2 L561,1380.3 L562,1380.6 L563,1381.2 L564,1381.8 L565,1382.4 L566,1383.0 L567,1383.5 L568,1383.7 L569,1383.7 L570,1383.7 L571,1383.7 L572,1383.7 L573,1383.7 L574,1383.6 L575,1383.3 L576,1382.9 L577,1382.4 L578,1382.0 L579,1381.6 L580,1381.4 L581,1381.4 L582,1381.7 L583,1382.0 L584,1382.5 L585,1383.0 L586,1383.4 L587,1383.5 L588,1383.4 L589,1383.1 L590,1382.8 L591,1382.5 L592,1382.2 L593,1382.0 L594,1381.9 L595,1381.9 L596,1382.0 L597,1382.2 L598,1382.5 L599,1382.8 L600,1383.1 L601,1383.4 L602,1383.6 L603,1383.7 L604,1383.7 L605,1383.7 L606,1383.7 L607,1383.7 L608,1383.7 L609,1383.7 L610,1383.7 L611,1383.6 L612,1383.4 L613,1383.2 L614,1383.0 L615,1382.8 L616,1382.7 L617,1382.5 L618,1382.4 L619,1382.4 L620,1382.4 L621,1382.5 L622,1382.7 L623,1382.9 L624,1383.1 L625,1383.2 L626,1383.4 L627,1383.6 L628,1383.7 L629,1383.7 L630,1383.7 L631,1383.7 L632,1383.7 L633,1383.7 L634,1383.7 L635,1383.7 L636,1383.7 L637,1383.7 L638,1383.7 L639,1383.7 L640,1383.6 L641,1383.6 L642,1383.6 L643,1383.6 L644,1383.5 L645,1383.5 L646,1383.6 L647,1383.6 L648,1383.6 L649,1383.6 L650,1383.6 L651,1383.7 L652,1383.7 L653,1383.7 L654,1383.7 L655,1383.7 L656,1383.7 L657,1383.7 L658,1383.7 L659,1383.7 L660,1383.7 L661,1383.7 L662,1383.7 L663,1383.6 L664,1383.6 L665,1383.6 L666,1383.6 L667,1383.6 L668,1383.6 L669,1383.6 L670,1383.7 L671,1383.7 L672,1383.7 L673,1383.7 L674,1383.7 L675,1383.7 L676,1383.7 L677,1383.7 L678,1383.7 L679,1383.6 L680,1383.3 L681,1383.0 L682,1382.5 L683,1382.0 L684,1381.5 L685,1380.9 L686,1380.5 L687,1380.1 L688,1379.8 L689,1379.7 L690,1379.8 L691,1379.9 L692,1380.3 L693,1380.7 L694,1381.2 L695,1381.7 L696,1382.2 L697,1382.7 L698,1383.2 L699,1383.5 L700,1383.7 L701,1383.7 L702,1383.6 L703,1383.3 L704,1382.8 L705,1382.2 L706,1381.6 L707,1381.3 L708,1381.2 L709,1381.5 L710,1382.0 L711,1382.6 L712,1383.1 L713,1383.5 L714,1383.5 L715,1383.3 L716,1383.1 L717,1382.9 L718,1382.6 L719,1382.4 L720,1382.2 L721,1382.1 L722,1382.0 L723,1382.0 L724,1382.0 L725,1382.1 L726,1382.3 L727,1382.5 L728,1382.7 L729,1382.9 L730,1383.0 L731,1382.9 L732,1382.7 L733,1382.4 L734,1382.0 L735,1381.6 L736,1381.0 L737,1378.8 L738,1374.1 L739,1367.3 L740,1359.1 L741,1349.9 L742,1340.1 L743,1329.8 L744,1319.3 L745,1308.9 L746,1298.8 L747,1289.1 L748,1280.1 L749,1271.9 L750,1264.7 L751,1258.6 L752,1253.7 L753,1250.2 L754,1248.0 L755,1247.3 L756,1248.0 L757,1250.2 L758,1253.7 L759,1258.6 L760,1264.7 L761,1271.9 L762,1280.1 L763,1289.1 L764,1298.8 L765,1308.9 L766,1319.3 L767,1329.8 L768,1340.1 L769,1349.9 L770,1359.1 L771,1367.4 L772,1374.4 L773,1379.4 L774,1381.7 L775,1381.5 L776,1381.2 L777,1381.0 L778,1380.9 L779,1380.9 L780,1381.1 L781,1381.3 L782,1381.7 L783,1382.1 L784,1382.5 L785,1382.9 L786,1383.3 L787,1383.5 L788,1383.7 L789,1383.7 L790,1383.7 L791,1383.7 L792,1383.5 L793,1383.3 L794,1382.9 L795,1382.4 L796,1381.9 L797,1381.4 L798,1381.0 L799,1380.6 L800,1380.2 L801,1380.1 L802,1380.0 L803,1380.1 L804,1380.3 L805,1380.7 L806,1380.9 L807,1378.9 L808,1373.8 L809,1366.6 L810,1358.2 L811,1349.0 L812,1339.2 L813,1329.1 L814,1319.0 L815,1309.2 L816,1299.8 L817,1291.2 L818,1283.5 L819,1276.8 L820,1271.4 L821,1267.4 L822,1264.8 L823,1263.7 L824,1264.2 L825,1266.2 L826,1269.6 L827,1274.5 L828,1280.7 L829,1288.0 L830,1296.3 L831,1305.4 L832,1315.0 L833,1325.0 L834,1335.1 L835,1345.1 L836,1354.6 L837,1363.4 L838,1371.2 L839,1377.6 L840,1382.1 L841,1381.8 L842,1377.1 L843,1370.6 L844,1362.8 L845,1354.0 L846,1344.5 L847,1334.7 L848,1324.7 L849,1314.8 L850,1305.3 L851,1296.4 L852,1288.2 L853,1281.1 L854,1275.2 L855,1270.5 L856,1267.2 L857,1265.4 L858,1265.1 L859,1266.3 L860,1269.0 L861,1273.1 L862,1278.6 L863,1285.3 L864,1293.0 L865,1301.6 L866,1310.9 L867,1320.7 L868,1330.7 L869,1340.6 L870,1350.3 L871,1359.4 L872,1367.6 L873,1374.7 L874,1380.5 L875,1384.3 L876,1384.6 L877,1384.5" fill="none" stroke="#2fbf2f" stroke-width="1.7" stroke-opacity="0.8" stroke-linejoin="round"/>
<line x1="99.6" y1="1330.5" x2="103.5" y2="1384" stroke="#222" stroke-width="1.5"/>
<line x1="496.7" y1="1228.75" x2="496.7" y2="1250" stroke="#f00" stroke-width="3.5" stroke-linecap="round"/>
<polygon points="491.5,1245.7 496.7,1248.7 501.9,1245.7 496.7,1252.5" fill="#f00" stroke="#f00" stroke-width="3" stroke-linejoin="round"/>
<text x="0" y="0" transform="translate(480.8,1450) scale(0.96,1)" font-family='"Liberation Serif", serif' font-size="42" font-weight="bold" fill="#000" text-anchor="middle" >Control</text>
<text x="1131" y="518.7" font-family='"Liberation Serif", serif' font-size="55" font-weight="bold" fill="#000" text-anchor="middle" >(d)</text>
<text x="0" y="0" font-family='"Liberation Mono", monospace' font-size="13.44" fill="#3535a0" textLength="588.6" lengthAdjust="spacingAndGlyphs" transform="translate(1327.3,522) scale(1,1.263)">0003_31220092800004_(200330481)_[927-chr1-157805552-F].ab1,chr1-157805552</text>
<text x="1257.7" y="548.2" font-family='"Liberation Sans", sans-serif' font-size="18" font-weight="bold" fill="#0000ff" text-anchor="middle" >C</text>
<text x="1297.7" y="548.2" font-family='"Liberation Sans", sans-serif' font-size="18" font-weight="bold" fill="#ff0000" text-anchor="middle" >T</text>
<text x="1338.3" y="548.2" font-family='"Liberation Sans", sans-serif' font-size="18" font-weight="bold" fill="#ff0000" text-anchor="middle" >T</text>
<text x="1372.2" y="548.2" font-family='"Liberation Sans", sans-serif' font-size="18" font-weight="bold" fill="#008000" text-anchor="middle" >A</text>
<text x="1409.7" y="548.2" font-family='"Liberation Sans", sans-serif' font-size="18" font-weight="bold" fill="#0000ff" text-anchor="middle" >C</text>
<text x="1446.6" y="548.2" font-family='"Liberation Sans", sans-serif' font-size="18" font-weight="bold" fill="#0000ff" text-anchor="middle" >C</text>
<text x="1477.3" y="548.2" font-family='"Liberation Sans", sans-serif' font-size="18" font-weight="bold" fill="#008000" text-anchor="middle" >A</text>
<text x="1516.7" y="548.2" font-family='"Liberation Sans", sans-serif' font-size="18" font-weight="bold" fill="#ff0000" text-anchor="middle" >T</text>
<text x="1555" y="548.2" font-family='"Liberation Sans", sans-serif' font-size="18" font-weight="bold" fill="#000000" text-anchor="middle" >G</text>
<text x="1597.8" y="548.2" font-family='"Liberation Sans", sans-serif' font-size="18" font-weight="bold" fill="#ff0000" text-anchor="middle" >T</text>
<text x="1636.5" y="548.2" font-family='"Liberation Sans", sans-serif' font-size="18" font-weight="bold" fill="#000000" text-anchor="middle" >G</text>
<text x="1676" y="548.2" font-family='"Liberation Sans", sans-serif' font-size="18" font-weight="bold" fill="#000000" text-anchor="middle" >G</text>
<text x="1714.7" y="548.2" font-family='"Liberation Sans", sans-serif' font-size="18" font-weight="bold" fill="#ff0000" text-anchor="middle" >T</text>
<text x="1755.3" y="548.2" font-family='"Liberation Sans", sans-serif' font-size="18" font-weight="bold" fill="#ff0000" text-anchor="middle" >T</text>
<text x="1790.3" y="548.2" font-family='"Liberation Sans", sans-serif' font-size="18" font-weight="bold" fill="#008000" text-anchor="middle" >A</text>
<text x="1823.6" y="548.2" font-family='"Liberation Sans", sans-serif' font-size="18" font-weight="bold" fill="#ff0000" text-anchor="middle" >T</text>
<text x="1861.1" y="548.2" font-family='"Liberation Sans", sans-serif' font-size="18" font-weight="bold" fill="#0000ff" text-anchor="middle" >C</text>
<text x="1895.5" y="548.2" font-family='"Liberation Sans", sans-serif' font-size="18" font-weight="bold" fill="#008000" text-anchor="middle" >A</text>
<text x="1930" y="548.2" font-family='"Liberation Sans", sans-serif' font-size="18" font-weight="bold" fill="#0000ff" text-anchor="middle" >C</text>
<text x="1963.2" y="548.2" font-family='"Liberation Sans", sans-serif' font-size="18" font-weight="bold" fill="#008000" text-anchor="middle" >A</text>
<text x="2000.8" y="548.2" font-family='"Liberation Sans", sans-serif' font-size="18" font-weight="bold" fill="#008000" text-anchor="middle" >A</text>
<text x="1441.7" y="537.7" font-family='"Liberation Sans", sans-serif' font-size="15" font-weight="bold" fill="#111">110</text>
<text x="1819.9" y="538" font-family='"Liberation Sans", sans-serif' font-size="15" font-weight="bold" fill="#111">120</text>
<path d="M1233,890.1 L1234,890.1 L1235,890.1 L1236,890.1 L1237,890.1 L1238,890.1 L1239,890.1 L1240,890.0 L1241,889.8 L1242,889.4 L1243,888.9 L1244,888.4 L1245,887.9 L1246,887.4 L1247,887.0 L1248,886.7 L1249,886.5 L1250,886.5 L1251,886.6 L1252,886.9 L1253,887.3 L1254,887.8 L1255,888.4 L1256,888.9 L1257,889.4 L1258,889.7 L1259,890.0 L1260,890.0 L1261,889.9 L1262,889.7 L1263,889.4 L1264,889.1 L1265,888.8 L1266,888.6 L1267,888.5 L1268,888.5 L1269,888.6 L1270,888.8 L1271,889.0 L1272,889.3 L1273,889.6 L1274,889.8 L1275,890.0 L1276,890.1 L1277,890.1 L1278,890.1 L1279,890.1 L1280,890.1 L1281,890.1 L1282,890.1 L1283,890.1 L1284,890.1 L1285,890.1 L1286,890.1 L1287,889.7 L1288,889.0 L1289,888.3 L1290,887.5 L1291,887.0 L1292,886.8 L1293,887.0 L1294,887.5 L1295,888.2 L1296,889.0 L1297,889.6 L1298,890.0 L1299,890.0 L1300,889.6 L1301,889.1 L1302,888.5 L1303,887.8 L1304,887.2 L1305,886.8 L1306,886.6 L1307,886.6 L1308,886.8 L1309,887.2 L1310,887.8 L1311,888.4 L1312,889.1 L1313,889.6 L1314,890.0 L1315,890.1 L1316,890.1 L1317,890.1 L1318,890.1 L1319,890.1 L1320,890.1 L1321,890.1 L1322,890.1 L1323,890.1 L1324,890.1 L1325,890.1 L1326,890.2 L1327,890.4 L1328,890.6 L1329,890.8 L1330,891.0 L1331,891.2 L1332,891.3 L1333,891.3 L1334,891.2 L1335,891.1 L1336,890.9 L1337,890.7 L1338,890.5 L1339,890.3 L1340,890.2 L1341,890.1 L1342,890.1 L1343,890.1 L1344,890.1 L1345,890.1 L1346,890.1 L1347,890.1 L1348,890.1 L1349,890.1 L1350,890.1 L1351,890.1 L1352,890.1 L1353,890.0 L1354,890.0 L1355,890.0 L1356,890.0 L1357,890.0 L1358,890.0 L1359,890.0 L1360,890.0 L1361,890.0 L1362,890.0 L1363,890.0 L1364,890.0 L1365,890.1 L1366,890.1 L1367,890.1 L1368,890.1 L1369,890.1 L1370,890.1 L1371,890.1 L1372,890.1 L1373,890.1 L1374,890.1 L1375,890.1 L1376,890.1 L1377,890.1 L1378,890.1 L1379,890.1 L1380,890.1 L1381,890.1 L1382,890.2 L1383,890.5 L1384,890.7 L1385,890.9 L1386,891.1 L1387,891.1 L1388,891.0 L1389,890.8 L1390,890.5 L1391,890.3 L1392,890.1 L1393,890.1 L1394,890.1 L1395,890.1 L1396,890.1 L1397,890.1 L1398,890.1 L1399,890.1 L1400,890.1 L1401,890.1 L1402,890.0 L1403,889.6 L1404,888.9 L1405,888.2 L1406,887.4 L1407,886.7 L1408,886.2 L1409,886.0 L1410,886.0 L1411,886.3 L1412,886.9 L1413,887.6 L1414,888.4 L1415,889.2 L1416,889.7 L1417,890.0 L1418,890.1 L1419,890.1 L1420,890.1 L1421,890.1 L1422,890.0 L1423,889.7 L1424,889.4 L1425,889.1 L1426,888.9 L1427,888.9 L1428,889.0 L1429,889.2 L1430,889.5 L1431,889.8 L1432,890.0 L1433,890.1 L1434,890.1 L1435,890.1 L1436,890.1 L1437,890.0 L1438,889.8 L1439,889.6 L1440,889.4 L1441,889.2 L1442,889.0 L1443,888.9 L1444,888.8 L1445,888.8 L1446,888.9 L1447,889.1 L1448,889.3 L1449,889.5 L1450,889.7 L1451,889.9 L1452,890.0 L1453,890.1 L1454,890.1 L1455,890.1 L1456,890.1 L1457,890.1 L1458,890.1 L1459,890.0 L1460,890.0 L1461,890.0 L1462,890.0 L1463,890.0 L1464,890.0 L1465,890.0 L1466,890.0 L1467,890.1 L1468,890.1 L1469,890.1 L1470,890.1 L1471,890.1 L1472,890.1 L1473,890.1 L1474,890.1 L1475,890.1 L1476,890.1 L1477,890.1 L1478,890.1 L1479,890.0 L1480,889.9 L1481,889.8 L1482,889.7 L1483,889.7 L1484,889.7 L1485,889.7 L1486,889.8 L1487,889.9 L1488,890.0 L1489,890.1 L1490,890.1 L1491,890.1 L1492,890.1 L1493,890.1 L1494,890.1 L1495,890.1 L1496,890.1 L1497,890.1 L1498,890.1 L1499,890.1 L1500,890.1 L1501,890.1 L1502,890.0 L1503,889.9 L1504,889.7 L1505,889.4 L1506,889.1 L1507,888.8 L1508,888.5 L1509,888.3 L1510,888.2 L1511,888.1 L1512,888.2 L1513,888.4 L1514,888.6 L1515,888.9 L1516,889.2 L1517,889.5 L1518,889.6 L1519,889.5 L1520,889.2 L1521,888.6 L1522,888.0 L1523,887.4 L1524,886.8 L1525,886.3 L1526,885.9 L1527,885.7 L1528,885.6 L1529,885.8 L1530,884.1 L1531,876.7 L1532,865.6 L1533,852.3 L1534,837.3 L1535,821.2 L1536,804.3 L1537,787.1 L1538,769.8 L1539,752.9 L1540,736.7 L1541,721.6 L1542,707.7 L1543,695.4 L1544,684.9 L1545,676.5 L1546,670.1 L1547,666.1 L1548,664.4 L1549,665.2 L1550,668.3 L1551,673.7 L1552,681.3 L1553,691.0 L1554,702.6 L1555,715.8 L1556,730.5 L1557,746.4 L1558,763.0 L1559,780.2 L1560,797.5 L1561,814.5 L1562,831.0 L1563,846.5 L1564,860.5 L1565,872.6 L1566,881.9 L1567,886.2 L1568,886.1 L1569,886.0 L1570,886.1 L1571,886.4 L1572,887.0 L1573,887.7 L1574,888.5 L1575,889.2 L1576,889.7 L1577,890.0 L1578,890.1 L1579,890.1 L1580,890.1 L1581,890.1 L1582,890.1 L1583,890.1 L1584,890.1 L1585,890.1 L1586,890.1 L1587,890.1 L1588,890.1 L1589,890.1 L1590,889.9 L1591,889.5 L1592,889.0 L1593,888.5 L1594,888.0 L1595,887.7 L1596,887.5 L1597,887.5 L1598,887.7 L1599,888.1 L1600,888.6 L1601,889.1 L1602,889.6 L1603,889.9 L1604,890.1 L1605,890.1 L1606,890.1 L1607,890.1 L1608,890.1 L1609,890.1 L1610,889.9 L1611,887.7 L1612,884.0 L1613,879.0 L1614,873.1 L1615,866.4 L1616,859.2 L1617,851.6 L1618,843.9 L1619,836.2 L1620,828.6 L1621,821.3 L1622,814.5 L1623,808.3 L1624,802.8 L1625,798.1 L1626,794.3 L1627,791.5 L1628,789.7 L1629,788.9 L1630,789.2 L1631,790.6 L1632,793.1 L1633,796.5 L1634,800.8 L1635,806.0 L1636,812.0 L1637,818.6 L1638,825.6 L1639,833.1 L1640,840.8 L1641,848.6 L1642,856.2 L1643,863.6 L1644,870.5 L1645,876.8 L1646,882.2 L1647,886.5 L1648,889.5 L1649,890.1 L1650,890.1 L1651,890.1 L1652,888.0 L1653,883.9 L1654,878.3 L1655,871.8 L1656,864.3 L1657,856.3 L1658,847.8 L1659,839.1 L1660,830.4 L1661,821.9 L1662,813.7 L1663,806.0 L1664,799.0 L1665,792.7 L1666,787.3 L1667,782.9 L1668,779.7 L1669,777.5 L1670,776.6 L1671,776.8 L1672,778.2 L1673,780.8 L1674,784.6 L1675,789.3 L1676,795.1 L1677,801.7 L1678,809.0 L1679,816.9 L1680,825.3 L1681,833.9 L1682,842.6 L1683,851.2 L1684,859.5 L1685,867.4 L1686,874.5 L1687,880.7 L1688,885.8 L1689,889.2 L1690,890.1 L1691,890.1 L1692,890.1 L1693,890.1 L1694,890.0 L1695,889.9 L1696,889.8 L1697,889.6 L1698,889.5 L1699,889.3 L1700,889.2 L1701,889.2 L1702,889.2 L1703,889.2 L1704,889.4 L1705,889.5 L1706,889.7 L1707,889.9 L1708,890.0 L1709,890.1 L1710,890.1 L1711,890.1 L1712,890.1 L1713,890.1 L1714,890.1 L1715,890.1 L1716,889.8 L1717,889.5 L1718,889.0 L1719,888.4 L1720,887.9 L1721,887.4 L1722,887.1 L1723,886.9 L1724,886.9 L1725,887.1 L1726,887.4 L1727,887.9 L1728,888.5 L1729,889.0 L1730,889.5 L1731,889.9 L1732,890.1 L1733,890.1 L1734,890.1 L1735,890.1 L1736,890.1 L1737,890.1 L1738,890.1 L1739,889.9 L1740,889.6 L1741,889.2 L1742,888.8 L1743,888.6 L1744,888.5 L1745,888.7 L1746,889.0 L1747,889.4 L1748,889.6 L1749,889.7 L1750,889.6 L1751,889.2 L1752,888.9 L1753,888.5 L1754,888.2 L1755,887.8 L1756,887.6 L1757,887.4 L1758,887.3 L1759,887.3 L1760,887.4 L1761,887.6 L1762,887.9 L1763,888.2 L1764,888.5 L1765,888.9 L1766,889.3 L1767,889.6 L1768,889.8 L1769,890.0 L1770,890.1 L1771,890.1 L1772,890.1 L1773,890.1 L1774,890.1 L1775,890.1 L1776,890.0 L1777,889.9 L1778,889.7 L1779,889.4 L1780,889.2 L1781,889.1 L1782,889.1 L1783,889.1 L1784,889.3 L1785,889.5 L1786,889.7 L1787,889.9 L1788,890.1 L1789,890.1 L1790,890.1 L1791,890.1 L1792,890.1 L1793,890.1 L1794,890.1 L1795,889.8 L1796,889.5 L1797,888.9 L1798,888.3 L1799,887.7 L1800,887.1 L1801,886.5 L1802,886.1 L1803,885.8 L1804,885.7 L1805,885.8 L1806,886.1 L1807,886.5 L1808,887.1 L1809,887.7 L1810,888.4 L1811,889.0 L1812,889.5 L1813,889.9 L1814,890.1 L1815,890.1 L1816,890.1 L1817,890.1 L1818,890.1 L1819,890.1 L1820,890.0 L1821,889.6 L1822,889.0 L1823,888.2 L1824,887.4 L1825,886.8 L1826,886.5 L1827,886.4 L1828,886.7 L1829,887.3 L1830,888.0 L1831,888.8 L1832,889.5 L1833,889.9 L1834,890.1 L1835,890.1 L1836,890.1 L1837,890.1 L1838,890.1 L1839,890.1 L1840,890.1 L1841,889.8 L1842,889.3 L1843,888.7 L1844,888.1 L1845,887.4 L1846,886.7 L1847,886.3 L1848,886.0 L1849,885.9 L1850,886.0 L1851,886.4 L1852,886.9 L1853,887.6 L1854,888.3 L1855,889.0 L1856,889.5 L1857,889.9 L1858,890.1 L1859,890.1 L1860,890.1 L1861,890.1 L1862,890.1 L1863,890.1 L1864,890.0 L1865,890.0 L1866,889.9 L1867,889.9 L1868,889.8 L1869,889.8 L1870,889.8 L1871,889.8 L1872,889.8 L1873,889.8 L1874,889.9 L1875,889.9 L1876,890.0 L1877,890.0 L1878,890.1 L1879,890.1 L1880,890.1 L1881,890.1 L1882,890.1 L1883,890.1 L1884,890.1 L1885,890.1 L1886,890.1 L1887,890.1 L1888,890.1 L1889,890.1 L1890,890.1 L1891,890.2 L1892,890.3 L1893,890.5 L1894,890.7 L1895,890.8 L1896,891.0 L1897,891.1 L1898,891.2 L1899,891.3 L1900,891.3 L1901,891.2 L1902,891.1 L1903,891.0 L1904,890.8 L1905,890.7 L1906,890.5 L1907,890.3 L1908,890.2 L1909,890.1 L1910,890.1 L1911,890.1 L1912,890.1 L1913,890.1 L1914,890.1 L1915,890.1 L1916,890.1 L1917,890.0 L1918,889.8 L1919,889.4 L1920,889.0 L1921,888.4 L1922,887.8 L1923,887.3 L1924,886.8 L1925,886.5 L1926,886.3 L1927,886.3 L1928,886.4 L1929,886.7 L1930,887.2 L1931,887.7 L1932,888.3 L1933,888.8 L1934,889.3 L1935,889.7 L1936,890.0 L1937,890.1 L1938,890.1 L1939,890.1 L1940,890.1 L1941,890.1 L1942,890.1 L1943,890.1 L1944,890.1 L1945,890.1 L1946,889.9 L1947,889.7 L1948,889.5 L1949,889.2 L1950,888.9 L1951,888.6 L1952,888.5 L1953,888.4 L1954,888.4 L1955,888.4 L1956,888.6 L1957,888.9 L1958,889.1 L1959,889.4 L1960,889.7 L1961,889.9 L1962,890.1 L1963,890.1 L1964,890.1 L1965,890.2 L1966,890.2 L1967,890.3 L1968,890.4 L1969,890.6 L1970,890.7 L1971,890.8 L1972,890.9 L1973,890.9 L1974,891.0 L1975,891.0 L1976,890.9 L1977,890.9 L1978,890.8 L1979,890.7 L1980,890.5 L1981,890.4 L1982,890.3 L1983,890.2 L1984,890.1 L1985,890.1 L1986,890.1 L1987,890.1 L1988,890.1 L1989,890.1 L1990,890.1 L1991,890.1 L1992,890.1 L1993,890.1 L1994,890.1 L1995,890.2 L1996,890.2 L1997,890.2 L1998,890.2 L1999,890.2 L2000,890.2 L2001,890.1 L2002,890.1 L2003,890.1 L2004,890.1 L2005,890.1 L2006,890.1 L2007,890.1 L2008,890.1 L2009,890.1 L2010,890.1 L2011,890.1" fill="none" stroke="#222222" stroke-width="1.7" stroke-opacity="0.8" stroke-linejoin="round"/>
<path d="M1233,870.8 L1234,871.8 L1235,872.9 L1236,874.1 L1237,875.3 L1238,876.6 L1239,877.9 L1240,879.2 L1241,880.5 L1242,881.8 L1243,883.1 L1244,884.3 L1245,885.4 L1246,886.4 L1247,887.3 L1248,887.9 L1249,888.2 L1250,888.2 L1251,887.8 L1252,887.4 L1253,887.1 L1254,886.8 L1255,886.6 L1256,886.5 L1257,886.6 L1258,886.8 L1259,887.1 L1260,887.4 L1261,887.8 L1262,888.2 L1263,888.5 L1264,888.7 L1265,888.9 L1266,888.9 L1267,888.9 L1268,888.9 L1269,888.9 L1270,888.9 L1271,888.9 L1272,889.1 L1273,889.3 L1274,889.5 L1275,889.7 L1276,887.5 L1277,882.5 L1278,876.1 L1279,868.5 L1280,860.0 L1281,850.7 L1282,841.0 L1283,831.0 L1284,820.9 L1285,811.0 L1286,801.5 L1287,792.6 L1288,784.3 L1289,777.0 L1290,770.7 L1291,765.5 L1292,761.6 L1293,759.0 L1294,757.7 L1295,757.9 L1296,759.4 L1297,762.3 L1298,766.4 L1299,771.8 L1300,778.4 L1301,785.9 L1302,794.3 L1303,803.4 L1304,813.0 L1305,822.9 L1306,833.0 L1307,843.0 L1308,852.6 L1309,861.8 L1310,870.1 L1311,877.4 L1312,883.3 L1313,887.2 L1314,887.9 L1315,887.5 L1316,887.0 L1317,885.4 L1318,881.8 L1319,876.4 L1320,869.5 L1321,861.6 L1322,853.1 L1323,844.1 L1324,834.9 L1325,825.7 L1326,816.7 L1327,808.0 L1328,799.8 L1329,792.4 L1330,785.7 L1331,780.1 L1332,775.4 L1333,771.9 L1334,769.7 L1335,768.7 L1336,768.9 L1337,770.4 L1338,773.2 L1339,777.1 L1340,782.2 L1341,788.3 L1342,795.3 L1343,803.0 L1344,811.4 L1345,820.3 L1346,829.4 L1347,838.6 L1348,847.7 L1349,856.5 L1350,864.8 L1351,872.4 L1352,879.1 L1353,884.6 L1354,888.8 L1355,890.0 L1356,889.8 L1357,889.6 L1358,889.3 L1359,889.0 L1360,888.9 L1361,888.9 L1362,888.9 L1363,888.9 L1364,888.9 L1365,888.9 L1366,888.9 L1367,888.9 L1368,888.9 L1369,888.9 L1370,888.9 L1371,888.9 L1372,888.9 L1373,888.9 L1374,888.9 L1375,888.9 L1376,888.8 L1377,888.8 L1378,888.7 L1379,888.7 L1380,888.7 L1381,888.7 L1382,888.7 L1383,888.7 L1384,888.8 L1385,888.8 L1386,888.9 L1387,888.9 L1388,888.9 L1389,888.9 L1390,888.9 L1391,888.9 L1392,888.9 L1393,888.9 L1394,888.9 L1395,888.9 L1396,888.9 L1397,888.9 L1398,888.9 L1399,888.9 L1400,888.7 L1401,888.6 L1402,888.4 L1403,888.2 L1404,888.1 L1405,888.2 L1406,888.2 L1407,888.4 L1408,888.6 L1409,888.8 L1410,888.9 L1411,888.9 L1412,888.9 L1413,888.9 L1414,888.9 L1415,888.8 L1416,888.6 L1417,888.2 L1418,887.8 L1419,887.4 L1420,887.2 L1421,887.1 L1422,887.2 L1423,887.4 L1424,887.8 L1425,888.2 L1426,888.6 L1427,888.8 L1428,888.9 L1429,888.9 L1430,888.9 L1431,888.9 L1432,888.7 L1433,888.4 L1434,888.0 L1435,887.5 L1436,887.0 L1437,886.5 L1438,886.2 L1439,886.1 L1440,886.1 L1441,886.3 L1442,886.6 L1443,887.1 L1444,887.6 L1445,888.1 L1446,888.5 L1447,888.8 L1448,888.9 L1449,888.9 L1450,888.9 L1451,888.9 L1452,888.9 L1453,888.9 L1454,888.7 L1455,888.3 L1456,887.9 L1457,887.6 L1458,887.4 L1459,887.4 L1460,887.6 L1461,887.9 L1462,888.3 L1463,888.6 L1464,888.9 L1465,888.9 L1466,888.9 L1467,888.9 L1468,888.9 L1469,888.9 L1470,888.9 L1471,888.9 L1472,888.9 L1473,888.8 L1474,888.6 L1475,888.3 L1476,888.1 L1477,887.9 L1478,887.7 L1479,887.7 L1480,887.8 L1481,888.0 L1482,888.2 L1483,888.5 L1484,888.7 L1485,888.9 L1486,888.9 L1487,888.6 L1488,888.2 L1489,887.6 L1490,886.9 L1491,886.2 L1492,885.6 L1493,885.2 L1494,884.7 L1495,882.2 L1496,877.2 L1497,870.3 L1498,862.3 L1499,853.6 L1500,844.4 L1501,834.9 L1502,825.4 L1503,816.0 L1504,806.9 L1505,798.4 L1506,790.5 L1507,783.4 L1508,777.3 L1509,772.3 L1510,768.5 L1511,765.9 L1512,764.6 L1513,764.6 L1514,765.9 L1515,768.5 L1516,772.3 L1517,777.3 L1518,783.4 L1519,790.5 L1520,798.4 L1521,806.9 L1522,816.0 L1523,825.4 L1524,834.9 L1525,844.4 L1526,853.6 L1527,862.3 L1528,870.3 L1529,877.4 L1530,883.3 L1531,887.5 L1532,889.0 L1533,888.9 L1534,888.9 L1535,888.9 L1536,888.9 L1537,888.9 L1538,888.9 L1539,888.9 L1540,888.9 L1541,888.9 L1542,888.9 L1543,888.9 L1544,888.9 L1545,889.0 L1546,889.0 L1547,889.1 L1548,889.1 L1549,889.1 L1550,889.2 L1551,889.2 L1552,889.2 L1553,889.2 L1554,889.2 L1555,889.1 L1556,889.1 L1557,889.0 L1558,889.0 L1559,889.0 L1560,888.9 L1561,888.9 L1562,888.9 L1563,888.9 L1564,888.9 L1565,888.9 L1566,888.9 L1567,888.9 L1568,888.9 L1569,888.9 L1570,888.8 L1571,888.6 L1572,888.3 L1573,887.9 L1574,887.4 L1575,885.4 L1576,881.8 L1577,876.6 L1578,870.2 L1579,863.1 L1580,855.4 L1581,847.3 L1582,839.1 L1583,830.9 L1584,822.9 L1585,815.2 L1586,808.1 L1587,801.6 L1588,795.8 L1589,790.9 L1590,787.0 L1591,784.1 L1592,782.3 L1593,781.6 L1594,782.1 L1595,783.6 L1596,786.3 L1597,790.0 L1598,794.8 L1599,800.3 L1600,806.7 L1601,813.8 L1602,821.3 L1603,829.3 L1604,837.5 L1605,845.7 L1606,853.8 L1607,861.6 L1608,868.8 L1609,875.4 L1610,880.8 L1611,884.9 L1612,887.6 L1613,888.4 L1614,888.8 L1615,888.9 L1616,888.9 L1617,888.7 L1618,888.3 L1619,887.9 L1620,887.4 L1621,887.0 L1622,886.6 L1623,886.4 L1624,886.4 L1625,886.6 L1626,886.9 L1627,887.3 L1628,887.7 L1629,888.2 L1630,888.6 L1631,888.8 L1632,888.9 L1633,888.9 L1634,888.9 L1635,888.9 L1636,888.9 L1637,888.9 L1638,888.9 L1639,888.8 L1640,888.8 L1641,888.7 L1642,888.6 L1643,888.5 L1644,888.4 L1645,888.3 L1646,888.3 L1647,888.3 L1648,888.3 L1649,888.3 L1650,888.4 L1651,888.5 L1652,888.6 L1653,888.6 L1654,888.7 L1655,888.7 L1656,888.6 L1657,888.6 L1658,888.5 L1659,888.5 L1660,888.4 L1661,888.4 L1662,888.4 L1663,888.4 L1664,888.4 L1665,888.5 L1666,888.5 L1667,888.6 L1668,888.7 L1669,888.7 L1670,888.8 L1671,888.8 L1672,888.9 L1673,888.9 L1674,888.9 L1675,888.9 L1676,888.9 L1677,888.9 L1678,888.9 L1679,888.9 L1680,888.9 L1681,888.8 L1682,888.8 L1683,888.7 L1684,888.6 L1685,888.6 L1686,888.5 L1687,888.4 L1688,888.4 L1689,888.4 L1690,888.4 L1691,888.4 L1692,887.0 L1693,883.2 L1694,877.6 L1695,870.7 L1696,862.8 L1697,854.3 L1698,845.2 L1699,835.9 L1700,826.6 L1701,817.3 L1702,808.4 L1703,800.0 L1704,792.3 L1705,785.4 L1706,779.4 L1707,774.5 L1708,770.7 L1709,768.2 L1710,766.9 L1711,766.9 L1712,768.2 L1713,770.7 L1714,774.5 L1715,779.4 L1716,785.4 L1717,792.3 L1718,800.0 L1719,808.4 L1720,817.3 L1721,826.6 L1722,835.9 L1723,845.2 L1724,854.3 L1725,862.8 L1726,870.7 L1727,877.6 L1728,883.2 L1729,887.2 L1730,888.7 L1731,888.4 L1732,885.3 L1733,880.1 L1734,873.3 L1735,865.5 L1736,856.7 L1737,847.3 L1738,837.6 L1739,827.6 L1740,817.7 L1741,808.1 L1742,798.8 L1743,790.2 L1744,782.4 L1745,775.6 L1746,769.7 L1747,765.1 L1748,761.7 L1749,759.7 L1750,759.0 L1751,759.7 L1752,761.7 L1753,765.1 L1754,769.7 L1755,775.6 L1756,782.4 L1757,790.2 L1758,798.8 L1759,808.1 L1760,817.7 L1761,827.6 L1762,837.6 L1763,847.3 L1764,856.7 L1765,865.5 L1766,873.4 L1767,880.1 L1768,885.3 L1769,888.6 L1770,888.9 L1771,888.9 L1772,888.9 L1773,888.9 L1774,888.9 L1775,888.9 L1776,888.9 L1777,888.9 L1778,888.9 L1779,888.9 L1780,888.9 L1781,888.8 L1782,888.5 L1783,888.1 L1784,887.6 L1785,887.2 L1786,886.9 L1787,886.9 L1788,887.0 L1789,887.3 L1790,887.7 L1791,888.1 L1792,888.5 L1793,888.8 L1794,888.9 L1795,888.9 L1796,888.9 L1797,888.9 L1798,888.9 L1799,886.7 L1800,881.7 L1801,874.9 L1802,866.7 L1803,857.4 L1804,847.3 L1805,836.7 L1806,825.8 L1807,814.8 L1808,804.0 L1809,793.7 L1810,783.9 L1811,774.9 L1812,766.9 L1813,760.0 L1814,754.4 L1815,750.1 L1816,747.3 L1817,745.9 L1818,746.1 L1819,747.7 L1820,750.9 L1821,755.4 L1822,761.3 L1823,768.4 L1824,776.7 L1825,785.8 L1826,795.7 L1827,806.2 L1828,817.0 L1829,828.0 L1830,838.8 L1831,849.4 L1832,859.3 L1833,868.4 L1834,876.4 L1835,882.7 L1836,886.8 L1837,887.9 L1838,888.0 L1839,888.1 L1840,888.2 L1841,888.4 L1842,888.6 L1843,888.8 L1844,888.9 L1845,888.9 L1846,888.9 L1847,888.7 L1848,888.4 L1849,888.0 L1850,887.5 L1851,887.1 L1852,886.7 L1853,886.4 L1854,886.3 L1855,886.3 L1856,886.5 L1857,886.9 L1858,887.3 L1859,887.8 L1860,888.3 L1861,888.6 L1862,888.8 L1863,888.9 L1864,889.0 L1865,889.1 L1866,889.2 L1867,889.3 L1868,889.4 L1869,889.4 L1870,889.5 L1871,889.5 L1872,889.5 L1873,889.5 L1874,889.4 L1875,889.3 L1876,889.2 L1877,889.1 L1878,889.1 L1879,889.0 L1880,888.9 L1881,888.9 L1882,888.9 L1883,888.9 L1884,888.7 L1885,888.4 L1886,888.1 L1887,887.8 L1888,887.5 L1889,887.3 L1890,887.3 L1891,887.3 L1892,887.5 L1893,887.7 L1894,888.1 L1895,888.4 L1896,888.7 L1897,888.8 L1898,888.9 L1899,888.9 L1900,888.9 L1901,888.9 L1902,888.9 L1903,888.9 L1904,888.9 L1905,888.9 L1906,888.9 L1907,888.9 L1908,888.9 L1909,888.9 L1910,888.9 L1911,888.9 L1912,888.9 L1913,888.6 L1914,887.9 L1915,886.9 L1916,885.9 L1917,885.2 L1918,885.0 L1919,885.2 L1920,885.9 L1921,886.9 L1922,887.8 L1923,888.6 L1924,888.9 L1925,888.9 L1926,888.8 L1927,888.8 L1928,888.7 L1929,888.6 L1930,888.5 L1931,888.4 L1932,888.3 L1933,888.3 L1934,888.2 L1935,888.2 L1936,888.2 L1937,888.3 L1938,888.3 L1939,888.4 L1940,888.5 L1941,888.5 L1942,888.6 L1943,888.7 L1944,888.8 L1945,888.8 L1946,888.9 L1947,888.9 L1948,888.9 L1949,888.9 L1950,888.9 L1951,888.9 L1952,888.9 L1953,888.9 L1954,888.9 L1955,888.9 L1956,888.8 L1957,888.7 L1958,888.6 L1959,888.4 L1960,888.3 L1961,888.2 L1962,888.2 L1963,888.2 L1964,888.3 L1965,888.5 L1966,888.6 L1967,888.8 L1968,888.9 L1969,888.9 L1970,888.9 L1971,888.9 L1972,888.9 L1973,888.9 L1974,888.9 L1975,888.9 L1976,888.8 L1977,888.6 L1978,888.3 L1979,887.9 L1980,887.5 L1981,887.0 L1982,886.5 L1983,886.1 L1984,885.7 L1985,885.5 L1986,885.3 L1987,885.3 L1988,885.5 L1989,885.7 L1990,886.1 L1991,886.5 L1992,886.9 L1993,887.4 L1994,887.9 L1995,888.3 L1996,888.6 L1997,888.7 L1998,888.5 L1999,888.1 L2000,887.6 L2001,887.0 L2002,886.4 L2003,885.9 L2004,885.4 L2005,885.2 L2006,885.1 L2007,885.2 L2008,885.4 L2009,885.8 L2010,886.3 L2011,886.9" fill="none" stroke="#d03a3a" stroke-width="1.7" stroke-opacity="0.8" stroke-linejoin="round"/>
<path d="M1233,889.8 L1234,889.8 L1235,889.6 L1236,886.9 L1237,882.3 L1238,876.2 L1239,869.1 L1240,861.2 L1241,852.6 L1242,843.7 L1243,834.6 L1244,825.5 L1245,816.7 L1246,808.2 L1247,800.2 L1248,793.0 L1249,786.6 L1250,781.2 L1251,776.9 L1252,773.7 L1253,771.7 L1254,770.9 L1255,771.4 L1256,773.2 L1257,776.1 L1258,780.3 L1259,785.5 L1260,791.7 L1261,798.7 L1262,806.5 L1263,814.9 L1264,823.7 L1265,832.8 L1266,841.9 L1267,850.9 L1268,859.5 L1269,867.6 L1270,874.9 L1271,881.2 L1272,886.1 L1273,889.1 L1274,889.2 L1275,888.6 L1276,888.0 L1277,887.3 L1278,886.5 L1279,885.6 L1280,884.8 L1281,883.9 L1282,883.0 L1283,882.2 L1284,881.4 L1285,880.7 L1286,880.0 L1287,879.4 L1288,878.9 L1289,878.5 L1290,878.2 L1291,878.1 L1292,878.0 L1293,878.1 L1294,878.2 L1295,878.5 L1296,878.9 L1297,879.4 L1298,880.0 L1299,880.7 L1300,881.4 L1301,882.2 L1302,883.0 L1303,883.9 L1304,884.7 L1305,885.4 L1306,886.0 L1307,886.3 L1308,886.5 L1309,886.4 L1310,886.3 L1311,886.1 L1312,886.0 L1313,885.9 L1314,885.7 L1315,885.1 L1316,884.3 L1317,883.3 L1318,882.1 L1319,880.8 L1320,879.4 L1321,878.0 L1322,876.7 L1323,875.4 L1324,874.2 L1325,873.0 L1326,871.9 L1327,870.9 L1328,870.1 L1329,869.3 L1330,868.7 L1331,868.2 L1332,867.9 L1333,867.7 L1334,867.7 L1335,867.8 L1336,868.1 L1337,868.5 L1338,869.1 L1339,869.8 L1340,870.6 L1341,871.5 L1342,872.6 L1343,873.7 L1344,874.9 L1345,876.2 L1346,877.5 L1347,878.8 L1348,880.1 L1349,881.3 L1350,882.4 L1351,883.3 L1352,884.1 L1353,884.7 L1354,885.1 L1355,885.4 L1356,885.7 L1357,886.1 L1358,886.6 L1359,887.1 L1360,887.7 L1361,888.3 L1362,888.8 L1363,889.3 L1364,889.6 L1365,889.6 L1366,889.3 L1367,888.9 L1368,888.4 L1369,888.1 L1370,887.9 L1371,887.9 L1372,888.1 L1373,888.5 L1374,888.9 L1375,889.4 L1376,889.7 L1377,889.9 L1378,890.0 L1379,890.1 L1380,890.2 L1381,890.4 L1382,890.4 L1383,890.5 L1384,890.6 L1385,889.3 L1386,885.4 L1387,880.0 L1388,873.5 L1389,866.1 L1390,858.1 L1391,849.5 L1392,840.7 L1393,831.8 L1394,823.0 L1395,814.6 L1396,806.6 L1397,799.2 L1398,792.6 L1399,786.9 L1400,782.1 L1401,778.5 L1402,776.1 L1403,774.9 L1404,774.9 L1405,776.1 L1406,778.5 L1407,782.1 L1408,786.9 L1409,792.6 L1410,799.2 L1411,806.6 L1412,814.6 L1413,823.0 L1414,831.8 L1415,840.7 L1416,849.5 L1417,858.1 L1418,866.1 L1419,873.5 L1420,879.9 L1421,885.1 L1422,888.7 L1423,887.8 L1424,883.4 L1425,877.6 L1426,870.5 L1427,862.6 L1428,854.0 L1429,845.0 L1430,835.7 L1431,826.4 L1432,817.3 L1433,808.6 L1434,800.4 L1435,792.9 L1436,786.3 L1437,780.6 L1438,776.0 L1439,772.6 L1440,770.4 L1441,769.5 L1442,769.9 L1443,771.6 L1444,774.5 L1445,778.6 L1446,783.9 L1447,790.2 L1448,797.3 L1449,805.2 L1450,813.8 L1451,822.8 L1452,832.0 L1453,841.3 L1454,850.4 L1455,859.2 L1456,867.4 L1457,874.9 L1458,881.2 L1459,886.2 L1460,889.3 L1461,889.7 L1462,889.8 L1463,889.8 L1464,889.8 L1465,889.8 L1466,889.8 L1467,889.8 L1468,889.8 L1469,889.6 L1470,889.2 L1471,888.6 L1472,888.0 L1473,887.4 L1474,886.8 L1475,886.3 L1476,886.0 L1477,885.9 L1478,886.0 L1479,886.4 L1480,886.9 L1481,887.5 L1482,888.1 L1483,888.7 L1484,889.2 L1485,889.6 L1486,889.8 L1487,889.8 L1488,889.8 L1489,889.8 L1490,889.8 L1491,889.8 L1492,889.8 L1493,889.8 L1494,889.8 L1495,889.8 L1496,889.8 L1497,889.8 L1498,889.8 L1499,889.8 L1500,889.6 L1501,889.4 L1502,889.1 L1503,888.8 L1504,888.6 L1505,888.4 L1506,888.4 L1507,888.5 L1508,888.7 L1509,888.9 L1510,889.2 L1511,889.5 L1512,889.7 L1513,889.8 L1514,889.8 L1515,889.8 L1516,889.8 L1517,889.8 L1518,889.8 L1519,889.8 L1520,889.8 L1521,889.8 L1522,889.8 L1523,889.8 L1524,889.8 L1525,889.8 L1526,889.8 L1527,889.7 L1528,889.1 L1529,888.3 L1530,887.4 L1531,886.7 L1532,886.3 L1533,886.4 L1534,886.9 L1535,887.7 L1536,888.6 L1537,889.4 L1538,889.8 L1539,889.8 L1540,889.8 L1541,889.8 L1542,889.8 L1543,889.8 L1544,889.8 L1545,889.8 L1546,889.8 L1547,889.8 L1548,889.8 L1549,889.8 L1550,889.8 L1551,889.8 L1552,889.9 L1553,890.0 L1554,890.2 L1555,890.3 L1556,890.4 L1557,890.5 L1558,890.4 L1559,890.3 L1560,890.2 L1561,890.0 L1562,889.9 L1563,889.8 L1564,889.8 L1565,889.8 L1566,889.8 L1567,889.8 L1568,889.8 L1569,889.8 L1570,889.8 L1571,889.8 L1572,889.8 L1573,889.8 L1574,889.8 L1575,889.8 L1576,889.8 L1577,889.8 L1578,889.8 L1579,889.9 L1580,890.0 L1581,890.2 L1582,890.4 L1583,890.6 L1584,890.7 L1585,890.8 L1586,890.7 L1587,890.6 L1588,890.5 L1589,890.3 L1590,890.1 L1591,889.9 L1592,889.8 L1593,889.8 L1594,889.8 L1595,889.8 L1596,889.8 L1597,889.8 L1598,889.8 L1599,889.8 L1600,889.8 L1601,889.8 L1602,889.8 L1603,889.8 L1604,889.8 L1605,889.8 L1606,889.8 L1607,889.8 L1608,889.8 L1609,889.8 L1610,889.6 L1611,889.4 L1612,889.1 L1613,888.9 L1614,888.7 L1615,888.6 L1616,888.7 L1617,888.8 L1618,889.1 L1619,889.4 L1620,889.6 L1621,889.8 L1622,889.8 L1623,889.8 L1624,889.8 L1625,889.7 L1626,889.7 L1627,889.7 L1628,889.7 L1629,889.7 L1630,889.6 L1631,889.6 L1632,889.6 L1633,889.6 L1634,889.6 L1635,889.7 L1636,889.7 L1637,889.7 L1638,889.7 L1639,889.8 L1640,889.7 L1641,889.3 L1642,888.7 L1643,888.0 L1644,887.2 L1645,886.6 L1646,886.1 L1647,885.8 L1648,885.9 L1649,886.2 L1650,886.7 L1651,887.4 L1652,888.2 L1653,888.9 L1654,889.4 L1655,889.7 L1656,889.8 L1657,889.8 L1658,889.8 L1659,889.8 L1660,889.8 L1661,889.8 L1662,889.8 L1663,889.8 L1664,889.8 L1665,889.8 L1666,889.8 L1667,889.8 L1668,889.8 L1669,889.8 L1670,889.7 L1671,889.2 L1672,888.6 L1673,887.8 L1674,887.0 L1675,886.4 L1676,885.9 L1677,885.8 L1678,886.0 L1679,886.5 L1680,887.2 L1681,888.0 L1682,888.8 L1683,889.4 L1684,889.7 L1685,889.8 L1686,889.8 L1687,889.8 L1688,889.8 L1689,889.8 L1690,889.6 L1691,889.3 L1692,888.9 L1693,888.6 L1694,888.4 L1695,888.3 L1696,888.4 L1697,888.6 L1698,889.0 L1699,889.3 L1700,889.6 L1701,889.8 L1702,889.8 L1703,889.8 L1704,889.8 L1705,889.8 L1706,889.8 L1707,889.8 L1708,889.8 L1709,889.8 L1710,889.8 L1711,889.8 L1712,889.8 L1713,889.8 L1714,889.8 L1715,890.0 L1716,890.2 L1717,890.5 L1718,890.7 L1719,890.8 L1720,890.7 L1721,890.6 L1722,890.4 L1723,890.1 L1724,889.9 L1725,889.8 L1726,889.8 L1727,889.8 L1728,889.8 L1729,889.8 L1730,889.8 L1731,889.8 L1732,889.8 L1733,889.8 L1734,889.8 L1735,889.8 L1736,889.8 L1737,889.8 L1738,889.8 L1739,889.8 L1740,889.8 L1741,889.8 L1742,889.7 L1743,889.7 L1744,889.6 L1745,889.5 L1746,889.4 L1747,889.4 L1748,889.3 L1749,889.3 L1750,889.3 L1751,889.4 L1752,889.4 L1753,889.5 L1754,889.6 L1755,889.6 L1756,889.7 L1757,889.8 L1758,889.8 L1759,889.8 L1760,889.8 L1761,889.8 L1762,889.8 L1763,889.8 L1764,889.8 L1765,889.8 L1766,889.7 L1767,889.5 L1768,889.4 L1769,889.3 L1770,889.2 L1771,889.2 L1772,889.3 L1773,889.4 L1774,889.6 L1775,889.7 L1776,889.8 L1777,889.8 L1778,889.8 L1779,889.8 L1780,889.8 L1781,889.8 L1782,889.8 L1783,889.8 L1784,889.8 L1785,889.8 L1786,889.8 L1787,889.8 L1788,889.7 L1789,889.5 L1790,889.2 L1791,888.7 L1792,888.2 L1793,887.6 L1794,887.1 L1795,886.5 L1796,886.1 L1797,885.7 L1798,885.5 L1799,885.5 L1800,885.6 L1801,885.8 L1802,886.2 L1803,886.6 L1804,887.2 L1805,887.7 L1806,888.3 L1807,888.8 L1808,889.3 L1809,889.6 L1810,889.7 L1811,889.8 L1812,889.8 L1813,889.8 L1814,889.8 L1815,889.8 L1816,889.8 L1817,889.8 L1818,889.8 L1819,889.8 L1820,889.8 L1821,889.8 L1822,889.8 L1823,889.8 L1824,889.8 L1825,889.8 L1826,889.8 L1827,889.8 L1828,889.8 L1829,889.8 L1830,889.8 L1831,889.8 L1832,889.8 L1833,889.8 L1834,889.8 L1835,889.8 L1836,889.3 L1837,886.2 L1838,881.1 L1839,874.5 L1840,866.8 L1841,858.2 L1842,849.0 L1843,839.4 L1844,829.6 L1845,819.9 L1846,810.4 L1847,801.4 L1848,793.0 L1849,785.3 L1850,778.5 L1851,772.8 L1852,768.3 L1853,765.0 L1854,763.0 L1855,762.3 L1856,763.0 L1857,765.0 L1858,768.3 L1859,772.8 L1860,778.5 L1861,785.3 L1862,793.0 L1863,801.4 L1864,810.4 L1865,819.9 L1866,829.6 L1867,839.4 L1868,849.0 L1869,858.2 L1870,866.8 L1871,874.5 L1872,881.1 L1873,886.2 L1874,889.4 L1875,889.7 L1876,889.8 L1877,889.8 L1878,889.8 L1879,889.8 L1880,889.8 L1881,889.8 L1882,889.8 L1883,889.8 L1884,889.7 L1885,889.7 L1886,889.6 L1887,889.6 L1888,889.6 L1889,889.6 L1890,889.6 L1891,889.7 L1892,889.7 L1893,889.8 L1894,889.8 L1895,889.8 L1896,889.8 L1897,889.8 L1898,889.8 L1899,889.6 L1900,889.1 L1901,888.4 L1902,887.6 L1903,886.8 L1904,886.1 L1905,885.7 L1906,884.9 L1907,881.9 L1908,876.3 L1909,869.2 L1910,861.1 L1911,852.3 L1912,843.1 L1913,833.7 L1914,824.3 L1915,815.1 L1916,806.3 L1917,798.0 L1918,790.5 L1919,783.8 L1920,778.1 L1921,773.5 L1922,770.0 L1923,767.8 L1924,766.9 L1925,767.3 L1926,769.0 L1927,771.9 L1928,776.1 L1929,781.4 L1930,787.7 L1931,794.9 L1932,802.9 L1933,811.5 L1934,820.6 L1935,829.9 L1936,839.4 L1937,848.6 L1938,857.6 L1939,866.0 L1940,873.7 L1941,880.3 L1942,885.6 L1943,889.1 L1944,889.8 L1945,889.7 L1946,889.6 L1947,889.5 L1948,889.4 L1949,889.3 L1950,889.3 L1951,889.3 L1952,889.3 L1953,889.3 L1954,889.4 L1955,889.5 L1956,889.6 L1957,889.7 L1958,889.8 L1959,889.8 L1960,889.7 L1961,889.5 L1962,889.1 L1963,888.7 L1964,888.2 L1965,887.7 L1966,887.2 L1967,886.8 L1968,886.5 L1969,886.3 L1970,886.2 L1971,886.2 L1972,886.4 L1973,886.7 L1974,887.1 L1975,887.6 L1976,888.1 L1977,888.6 L1978,889.0 L1979,889.4 L1980,889.7 L1981,889.8 L1982,889.7 L1983,889.6 L1984,889.5 L1985,889.4 L1986,889.3 L1987,889.2 L1988,889.1 L1989,889.1 L1990,889.1 L1991,889.2 L1992,889.3 L1993,889.4 L1994,889.5 L1995,889.6 L1996,889.7 L1997,889.8 L1998,889.8 L1999,889.8 L2000,889.8 L2001,889.8 L2002,889.8 L2003,889.8 L2004,889.8 L2005,889.8 L2006,889.7 L2007,889.3 L2008,888.9 L2009,888.5 L2010,888.0 L2011,887.7" fill="none" stroke="#3a3ad0" stroke-width="1.7" stroke-opacity="0.8" stroke-linejoin="round"/>
<path d="M1233,886.0 L1234,885.3 L1235,884.5 L1236,883.8 L1237,883.0 L1238,882.2 L1239,881.4 L1240,880.6 L1241,879.9 L1242,879.1 L1243,878.4 L1244,877.8 L1245,877.2 L1246,876.6 L1247,876.1 L1248,875.6 L1249,875.2 L1250,874.9 L1251,874.6 L1252,874.4 L1253,874.3 L1254,874.3 L1255,874.3 L1256,874.4 L1257,874.6 L1258,874.9 L1259,875.2 L1260,875.6 L1261,876.1 L1262,876.6 L1263,877.2 L1264,877.8 L1265,878.4 L1266,879.2 L1267,879.9 L1268,880.7 L1269,881.5 L1270,882.3 L1271,883.2 L1272,884.0 L1273,884.7 L1274,885.4 L1275,886.1 L1276,886.7 L1277,887.3 L1278,887.9 L1279,888.3 L1280,888.7 L1281,888.6 L1282,888.1 L1283,887.4 L1284,886.5 L1285,885.4 L1286,884.3 L1287,883.2 L1288,882.0 L1289,880.8 L1290,879.6 L1291,878.4 L1292,877.2 L1293,876.1 L1294,875.1 L1295,874.2 L1296,873.4 L1297,872.7 L1298,872.1 L1299,871.7 L1300,871.4 L1301,871.2 L1302,871.2 L1303,871.3 L1304,871.6 L1305,872.0 L1306,872.6 L1307,873.3 L1308,874.1 L1309,875.0 L1310,875.9 L1311,876.6 L1312,877.2 L1313,877.7 L1314,878.1 L1315,878.4 L1316,878.6 L1317,878.8 L1318,879.0 L1319,879.1 L1320,879.1 L1321,879.0 L1322,878.7 L1323,878.3 L1324,877.6 L1325,876.8 L1326,876.1 L1327,875.6 L1328,875.1 L1329,874.7 L1330,874.5 L1331,874.3 L1332,874.3 L1333,874.4 L1334,874.6 L1335,875.0 L1336,875.4 L1337,875.9 L1338,876.5 L1339,877.2 L1340,878.0 L1341,878.9 L1342,879.9 L1343,880.9 L1344,882.0 L1345,883.0 L1346,884.0 L1347,885.0 L1348,885.9 L1349,886.7 L1350,883.9 L1351,878.1 L1352,870.1 L1353,860.4 L1354,849.1 L1355,836.9 L1356,824.1 L1357,811.0 L1358,797.9 L1359,785.0 L1360,772.7 L1361,761.2 L1362,750.7 L1363,741.3 L1364,733.4 L1365,727.0 L1366,722.2 L1367,719.1 L1368,717.8 L1369,718.4 L1370,720.7 L1371,724.8 L1372,730.6 L1373,738.0 L1374,746.8 L1375,756.9 L1376,768.0 L1377,780.0 L1378,792.7 L1379,805.7 L1380,818.8 L1381,831.8 L1382,844.3 L1383,856.1 L1384,866.7 L1385,875.9 L1386,883.3 L1387,888.2 L1388,889.2 L1389,888.9 L1390,887.7 L1391,885.8 L1392,883.6 L1393,881.1 L1394,878.4 L1395,875.5 L1396,872.6 L1397,869.5 L1398,866.5 L1399,863.6 L1400,860.9 L1401,858.3 L1402,856.0 L1403,854.0 L1404,852.3 L1405,851.0 L1406,850.1 L1407,849.6 L1408,849.5 L1409,849.9 L1410,850.6 L1411,851.8 L1412,853.3 L1413,855.2 L1414,857.3 L1415,859.8 L1416,862.5 L1417,865.4 L1418,868.3 L1419,871.4 L1420,874.4 L1421,877.4 L1422,880.2 L1423,882.8 L1424,885.1 L1425,887.0 L1426,888.4 L1427,888.5 L1428,887.7 L1429,886.9 L1430,886.1 L1431,885.5 L1432,885.3 L1433,885.5 L1434,886.1 L1435,886.9 L1436,887.8 L1437,888.6 L1438,889.1 L1439,889.2 L1440,889.2 L1441,889.2 L1442,889.2 L1443,889.2 L1444,889.2 L1445,889.2 L1446,889.2 L1447,889.2 L1448,889.2 L1449,889.2 L1450,889.2 L1451,889.2 L1452,889.1 L1453,886.7 L1454,882.6 L1455,877.4 L1456,871.1 L1457,864.2 L1458,856.8 L1459,849.0 L1460,841.0 L1461,833.1 L1462,825.4 L1463,817.9 L1464,811.0 L1465,804.7 L1466,799.1 L1467,794.4 L1468,790.6 L1469,787.8 L1470,786.1 L1471,785.4 L1472,785.8 L1473,787.4 L1474,790.0 L1475,793.6 L1476,798.1 L1477,803.5 L1478,809.7 L1479,816.5 L1480,823.8 L1481,831.5 L1482,839.4 L1483,847.4 L1484,855.2 L1485,862.7 L1486,869.8 L1487,876.1 L1488,881.2 L1489,884.5 L1490,885.8 L1491,886.1 L1492,886.4 L1493,886.7 L1494,887.2 L1495,887.6 L1496,888.1 L1497,888.5 L1498,888.8 L1499,889.1 L1500,889.2 L1501,889.2 L1502,889.2 L1503,889.2 L1504,889.2 L1505,889.2 L1506,889.2 L1507,889.2 L1508,889.0 L1509,888.7 L1510,888.3 L1511,887.9 L1512,887.4 L1513,886.9 L1514,886.6 L1515,886.3 L1516,886.2 L1517,886.2 L1518,886.3 L1519,886.6 L1520,887.0 L1521,887.4 L1522,887.9 L1523,888.4 L1524,888.7 L1525,889.0 L1526,889.2 L1527,889.2 L1528,889.0 L1529,888.8 L1530,888.5 L1531,888.2 L1532,888.0 L1533,887.9 L1534,888.0 L1535,888.1 L1536,888.4 L1537,888.6 L1538,888.9 L1539,889.1 L1540,889.2 L1541,889.2 L1542,889.2 L1543,889.2 L1544,889.2 L1545,889.2 L1546,889.2 L1547,889.2 L1548,889.2 L1549,889.2 L1550,889.2 L1551,889.2 L1552,889.1 L1553,888.9 L1554,888.4 L1555,887.9 L1556,887.4 L1557,886.9 L1558,886.7 L1559,886.6 L1560,886.8 L1561,887.1 L1562,887.6 L1563,888.2 L1564,888.6 L1565,888.6 L1566,888.4 L1567,887.9 L1568,887.3 L1569,886.6 L1570,886.1 L1571,885.6 L1572,885.2 L1573,885.0 L1574,884.9 L1575,885.0 L1576,885.3 L1577,885.8 L1578,886.3 L1579,886.9 L1580,887.6 L1581,888.1 L1582,888.6 L1583,889.0 L1584,889.2 L1585,889.2 L1586,889.2 L1587,889.1 L1588,889.0 L1589,888.8 L1590,888.5 L1591,888.3 L1592,888.0 L1593,887.8 L1594,887.5 L1595,887.4 L1596,887.3 L1597,887.3 L1598,887.4 L1599,887.5 L1600,887.7 L1601,888.0 L1602,888.2 L1603,888.5 L1604,888.7 L1605,888.9 L1606,889.1 L1607,889.2 L1608,889.2 L1609,889.2 L1610,889.2 L1611,889.1 L1612,888.0 L1613,885.7 L1614,882.8 L1615,879.3 L1616,875.3 L1617,871.0 L1618,866.4 L1619,861.7 L1620,857.1 L1621,852.5 L1622,848.0 L1623,843.9 L1624,840.1 L1625,836.7 L1626,833.8 L1627,831.5 L1628,829.7 L1629,828.5 L1630,828.0 L1631,828.2 L1632,828.9 L1633,830.3 L1634,832.3 L1635,834.9 L1636,838.0 L1637,841.6 L1638,845.5 L1639,849.8 L1640,854.3 L1641,858.9 L1642,863.6 L1643,868.3 L1644,872.7 L1645,877.0 L1646,880.8 L1647,884.2 L1648,886.9 L1649,888.7 L1650,889.2 L1651,889.1 L1652,888.8 L1653,888.4 L1654,887.9 L1655,887.5 L1656,887.2 L1657,887.2 L1658,887.4 L1659,887.8 L1660,888.3 L1661,888.8 L1662,889.1 L1663,889.2 L1664,889.2 L1665,889.2 L1666,889.2 L1667,889.2 L1668,889.2 L1669,889.2 L1670,889.2 L1671,889.2 L1672,889.3 L1673,889.4 L1674,889.5 L1675,889.6 L1676,889.6 L1677,889.6 L1678,889.5 L1679,889.5 L1680,889.4 L1681,889.3 L1682,889.2 L1683,889.2 L1684,889.2 L1685,889.2 L1686,889.2 L1687,889.1 L1688,888.7 L1689,888.2 L1690,887.6 L1691,886.9 L1692,886.4 L1693,885.9 L1694,885.7 L1695,885.7 L1696,886.0 L1697,886.4 L1698,887.0 L1699,887.7 L1700,888.3 L1701,888.8 L1702,889.1 L1703,889.2 L1704,889.2 L1705,889.2 L1706,889.2 L1707,889.2 L1708,889.2 L1709,889.0 L1710,888.6 L1711,888.1 L1712,887.6 L1713,887.2 L1714,887.0 L1715,886.9 L1716,887.0 L1717,887.4 L1718,887.8 L1719,888.3 L1720,888.7 L1721,889.0 L1722,889.0 L1723,888.7 L1724,888.4 L1725,888.1 L1726,887.8 L1727,887.6 L1728,887.4 L1729,887.4 L1730,887.4 L1731,887.6 L1732,887.8 L1733,888.1 L1734,888.5 L1735,888.8 L1736,889.0 L1737,889.1 L1738,889.2 L1739,889.2 L1740,889.2 L1741,889.2 L1742,889.2 L1743,889.2 L1744,889.2 L1745,889.1 L1746,889.0 L1747,888.8 L1748,888.6 L1749,888.4 L1750,888.2 L1751,888.1 L1752,888.0 L1753,887.9 L1754,887.9 L1755,888.0 L1756,888.1 L1757,888.3 L1758,888.5 L1759,888.7 L1760,888.9 L1761,889.0 L1762,889.1 L1763,889.2 L1764,887.6 L1765,883.2 L1766,877.2 L1767,869.8 L1768,861.5 L1769,852.4 L1770,842.8 L1771,832.9 L1772,822.9 L1773,813.1 L1774,803.7 L1775,794.7 L1776,786.5 L1777,779.2 L1778,772.8 L1779,767.6 L1780,763.6 L1781,760.8 L1782,759.5 L1783,759.5 L1784,760.8 L1785,763.6 L1786,767.6 L1787,772.8 L1788,779.2 L1789,786.5 L1790,794.7 L1791,803.7 L1792,813.1 L1793,822.9 L1794,832.9 L1795,842.8 L1796,852.4 L1797,861.5 L1798,869.8 L1799,877.2 L1800,883.2 L1801,887.5 L1802,889.1 L1803,889.1 L1804,889.1 L1805,889.2 L1806,889.2 L1807,889.2 L1808,889.2 L1809,889.2 L1810,889.2 L1811,889.2 L1812,889.2 L1813,889.1 L1814,889.0 L1815,888.6 L1816,888.2 L1817,887.7 L1818,887.2 L1819,886.6 L1820,886.1 L1821,885.7 L1822,885.4 L1823,885.3 L1824,885.2 L1825,885.4 L1826,885.6 L1827,886.0 L1828,886.5 L1829,887.0 L1830,887.5 L1831,888.0 L1832,888.5 L1833,888.9 L1834,889.1 L1835,889.2 L1836,889.2 L1837,889.0 L1838,888.5 L1839,887.9 L1840,887.3 L1841,886.9 L1842,886.7 L1843,886.8 L1844,887.2 L1845,887.8 L1846,888.4 L1847,888.9 L1848,889.0 L1849,888.9 L1850,888.7 L1851,888.5 L1852,888.2 L1853,888.0 L1854,887.8 L1855,887.6 L1856,887.5 L1857,887.5 L1858,887.5 L1859,887.6 L1860,887.7 L1861,887.9 L1862,888.1 L1863,888.4 L1864,888.5 L1865,888.5 L1866,888.3 L1867,888.0 L1868,887.7 L1869,887.1 L1870,885.0 L1871,881.2 L1872,875.6 L1873,868.9 L1874,861.3 L1875,853.2 L1876,844.7 L1877,836.1 L1878,827.5 L1879,819.2 L1880,811.2 L1881,803.8 L1882,797.0 L1883,791.0 L1884,786.0 L1885,782.0 L1886,779.1 L1887,777.3 L1888,776.7 L1889,777.3 L1890,779.1 L1891,782.0 L1892,786.0 L1893,791.0 L1894,797.0 L1895,803.8 L1896,811.2 L1897,819.2 L1898,827.5 L1899,836.1 L1900,844.7 L1901,853.2 L1902,861.3 L1903,868.9 L1904,875.7 L1905,881.5 L1906,885.8 L1907,887.8 L1908,887.6 L1909,887.2 L1910,886.8 L1911,886.6 L1912,886.4 L1913,886.4 L1914,886.5 L1915,886.7 L1916,887.0 L1917,887.4 L1918,887.8 L1919,888.2 L1920,888.6 L1921,888.9 L1922,889.1 L1923,889.2 L1924,889.2 L1925,889.2 L1926,889.1 L1927,888.9 L1928,888.5 L1929,888.1 L1930,887.6 L1931,887.1 L1932,886.6 L1933,886.2 L1934,885.9 L1935,885.6 L1936,885.5 L1937,885.6 L1938,885.7 L1939,885.9 L1940,884.6 L1941,880.9 L1942,875.5 L1943,869.0 L1944,861.8 L1945,854.1 L1946,846.2 L1947,838.2 L1948,830.3 L1949,822.7 L1950,815.6 L1951,809.0 L1952,803.2 L1953,798.2 L1954,794.2 L1955,791.1 L1956,789.2 L1957,788.4 L1958,788.8 L1959,790.2 L1960,792.8 L1961,796.5 L1962,801.1 L1963,806.6 L1964,812.9 L1965,819.8 L1966,827.2 L1967,835.0 L1968,843.0 L1969,851.0 L1970,858.8 L1971,866.2 L1972,873.0 L1973,879.1 L1974,884.1 L1975,887.7 L1976,887.9 L1977,884.4 L1978,879.3 L1979,873.1 L1980,866.1 L1981,858.5 L1982,850.5 L1983,842.2 L1984,834.0 L1985,825.9 L1986,818.1 L1987,810.9 L1988,804.3 L1989,798.6 L1990,793.7 L1991,789.8 L1992,787.0 L1993,785.4 L1994,784.9 L1995,785.6 L1996,787.5 L1997,790.5 L1998,794.6 L1999,799.6 L2000,805.6 L2001,812.3 L2002,819.7 L2003,827.5 L2004,835.6 L2005,843.9 L2006,852.1 L2007,860.1 L2008,867.6 L2009,874.5 L2010,880.5 L2011,885.5" fill="none" stroke="#2fbf2f" stroke-width="1.7" stroke-opacity="0.8" stroke-linejoin="round"/>
<text x="0" y="0" transform="translate(1662.6,712) scale(0.92,1)" font-family='"Liberation Serif", serif' font-size="41.7" font-weight="bold" fill="#000" text-anchor="middle" >c.1726 C&gt;T</text>
<line x1="1630.4" y1="734.15" x2="1630.4" y2="755.4" stroke="#f00" stroke-width="3.5" stroke-linecap="round"/>
<polygon points="1625.2,751.1 1630.4,754.1 1635.6000000000001,751.1 1630.4,757.9" fill="#f00" stroke="#f00" stroke-width="3" stroke-linejoin="round"/>
<text x="0" y="0" transform="translate(1621.3,967.3) scale(0.946,1)" font-family='"Liberation Serif", serif' font-size="42" font-weight="bold" fill="#000" text-anchor="middle" >Patient 2</text>
<text x="0" y="0" font-family='"Liberation Mono", monospace' font-size="13.45" fill="#3535a0" textLength="589.3" lengthAdjust="spacingAndGlyphs" transform="translate(1344.9,1016) scale(1,1.239)">0002_31220092800003_(200330581)_[927-chr1-167805552-F].ab1,chr1-167805552</text>
<text x="1275.8" y="1042.2" font-family='"Liberation Sans", sans-serif' font-size="18" font-weight="bold" fill="#0000ff" text-anchor="middle" >C</text>
<text x="1315.5" y="1042.2" font-family='"Liberation Sans", sans-serif' font-size="18" font-weight="bold" fill="#ff0000" text-anchor="middle" >T</text>
<text x="1355.8" y="1042.2" font-family='"Liberation Sans", sans-serif' font-size="18" font-weight="bold" fill="#ff0000" text-anchor="middle" >T</text>
<text x="1391" y="1042.2" font-family='"Liberation Sans", sans-serif' font-size="18" font-weight="bold" fill="#008000" text-anchor="middle" >A</text>
<text x="1425.5" y="1042.2" font-family='"Liberation Sans", sans-serif' font-size="18" font-weight="bold" fill="#0000ff" text-anchor="middle" >C</text>
<text x="1465.8" y="1042.2" font-family='"Liberation Sans", sans-serif' font-size="18" font-weight="bold" fill="#0000ff" text-anchor="middle" >C</text>
<text x="1493.3" y="1042.2" font-family='"Liberation Sans", sans-serif' font-size="18" font-weight="bold" fill="#008000" text-anchor="middle" >A</text>
<text x="1536.2" y="1042.2" font-family='"Liberation Sans", sans-serif' font-size="18" font-weight="bold" fill="#ff0000" text-anchor="middle" >T</text>
<text x="1571.4" y="1042.2" font-family='"Liberation Sans", sans-serif' font-size="18" font-weight="bold" fill="#000000" text-anchor="middle" >G</text>
<text x="1616.2" y="1042.2" font-family='"Liberation Sans", sans-serif' font-size="18" font-weight="bold" fill="#ff0000" text-anchor="middle" >T</text>
<text x="1651.7" y="1042.2" font-family='"Liberation Sans", sans-serif' font-size="18" font-weight="bold" fill="#008000" text-anchor="middle" >A</text>
<text x="1692.6" y="1042.2" font-family='"Liberation Sans", sans-serif' font-size="18" font-weight="bold" fill="#000000" text-anchor="middle" >G</text>
<text x="1731.9" y="1042.2" font-family='"Liberation Sans", sans-serif' font-size="18" font-weight="bold" fill="#ff0000" text-anchor="middle" >T</text>
<text x="1772.2" y="1042.2" font-family='"Liberation Sans", sans-serif' font-size="18" font-weight="bold" fill="#ff0000" text-anchor="middle" >T</text>
<text x="1804.2" y="1042.2" font-family='"Liberation Sans", sans-serif' font-size="18" font-weight="bold" fill="#008000" text-anchor="middle" >A</text>
<text x="1841.1" y="1042.2" font-family='"Liberation Sans", sans-serif' font-size="18" font-weight="bold" fill="#ff0000" text-anchor="middle" >T</text>
<text x="1879" y="1042.2" font-family='"Liberation Sans", sans-serif' font-size="18" font-weight="bold" fill="#0000ff" text-anchor="middle" >C</text>
<text x="1912.5" y="1042.2" font-family='"Liberation Sans", sans-serif' font-size="18" font-weight="bold" fill="#008000" text-anchor="middle" >A</text>
<text x="1949.4" y="1042.2" font-family='"Liberation Sans", sans-serif' font-size="18" font-weight="bold" fill="#0000ff" text-anchor="middle" >C</text>
<text x="1981.4" y="1042.2" font-family='"Liberation Sans", sans-serif' font-size="18" font-weight="bold" fill="#008000" text-anchor="middle" >A</text>
<text x="2018.8" y="1042.2" font-family='"Liberation Sans", sans-serif' font-size="18" font-weight="bold" fill="#008000" text-anchor="middle" >A</text>
<text x="1566.3" y="1032.6" font-family='"Liberation Sans", sans-serif' font-size="15" font-weight="bold" fill="#111">110</text>
<text x="1945" y="1032.3" font-family='"Liberation Sans", sans-serif' font-size="15" font-weight="bold" fill="#111">120</text>
<path d="M1251,1384.6 L1252,1384.6 L1253,1384.6 L1254,1384.6 L1255,1384.6 L1256,1384.6 L1257,1384.6 L1258,1384.6 L1259,1384.4 L1260,1384.0 L1261,1383.6 L1262,1383.1 L1263,1382.5 L1264,1382.0 L1265,1381.6 L1266,1381.2 L1267,1381.0 L1268,1381.0 L1269,1381.1 L1270,1381.3 L1271,1381.7 L1272,1382.2 L1273,1382.7 L1274,1383.2 L1275,1383.7 L1276,1384.1 L1277,1384.4 L1278,1384.6 L1279,1384.4 L1280,1384.2 L1281,1384.0 L1282,1383.7 L1283,1383.4 L1284,1383.2 L1285,1383.0 L1286,1383.0 L1287,1383.0 L1288,1383.2 L1289,1383.4 L1290,1383.7 L1291,1384.0 L1292,1384.3 L1293,1384.5 L1294,1384.6 L1295,1384.6 L1296,1384.6 L1297,1384.6 L1298,1384.6 L1299,1384.6 L1300,1384.6 L1301,1384.6 L1302,1384.6 L1303,1384.6 L1304,1384.6 L1305,1384.3 L1306,1383.8 L1307,1383.0 L1308,1382.2 L1309,1381.6 L1310,1381.3 L1311,1381.4 L1312,1381.8 L1313,1382.5 L1314,1383.2 L1315,1384.0 L1316,1384.4 L1317,1384.5 L1318,1384.2 L1319,1383.8 L1320,1383.1 L1321,1382.5 L1322,1381.9 L1323,1381.4 L1324,1381.1 L1325,1381.0 L1326,1381.2 L1327,1381.6 L1328,1382.1 L1329,1382.7 L1330,1383.4 L1331,1384.0 L1332,1384.4 L1333,1384.6 L1334,1384.6 L1335,1384.6 L1336,1384.6 L1337,1384.6 L1338,1384.6 L1339,1384.6 L1340,1384.6 L1341,1384.6 L1342,1384.6 L1343,1384.6 L1344,1384.7 L1345,1384.9 L1346,1385.1 L1347,1385.3 L1348,1385.5 L1349,1385.6 L1350,1385.7 L1351,1385.8 L1352,1385.7 L1353,1385.6 L1354,1385.5 L1355,1385.3 L1356,1385.1 L1357,1384.9 L1358,1384.7 L1359,1384.6 L1360,1384.6 L1361,1384.6 L1362,1384.6 L1363,1384.6 L1364,1384.6 L1365,1384.6 L1366,1384.6 L1367,1384.6 L1368,1384.6 L1369,1384.6 L1370,1384.6 L1371,1384.5 L1372,1384.5 L1373,1384.5 L1374,1384.5 L1375,1384.5 L1376,1384.5 L1377,1384.5 L1378,1384.5 L1379,1384.5 L1380,1384.5 L1381,1384.5 L1382,1384.5 L1383,1384.6 L1384,1384.6 L1385,1384.6 L1386,1384.6 L1387,1384.6 L1388,1384.6 L1389,1384.6 L1390,1384.6 L1391,1384.6 L1392,1384.6 L1393,1384.6 L1394,1384.6 L1395,1384.6 L1396,1384.6 L1397,1384.6 L1398,1384.6 L1399,1384.6 L1400,1384.7 L1401,1384.9 L1402,1385.1 L1403,1385.4 L1404,1385.6 L1405,1385.6 L1406,1385.6 L1407,1385.4 L1408,1385.1 L1409,1384.9 L1410,1384.7 L1411,1384.6 L1412,1384.6 L1413,1384.6 L1414,1384.6 L1415,1384.6 L1416,1384.6 L1417,1384.6 L1418,1384.6 L1419,1384.6 L1420,1384.5 L1421,1384.2 L1422,1383.6 L1423,1382.9 L1424,1382.1 L1425,1381.4 L1426,1380.8 L1427,1380.5 L1428,1380.5 L1429,1380.7 L1430,1381.2 L1431,1381.9 L1432,1382.7 L1433,1383.4 L1434,1384.1 L1435,1384.5 L1436,1384.6 L1437,1384.6 L1438,1384.6 L1439,1384.6 L1440,1384.5 L1441,1384.3 L1442,1384.0 L1443,1383.7 L1444,1383.5 L1445,1383.4 L1446,1383.5 L1447,1383.7 L1448,1383.9 L1449,1384.2 L1450,1384.5 L1451,1384.6 L1452,1384.6 L1453,1384.6 L1454,1384.6 L1455,1384.5 L1456,1384.4 L1457,1384.2 L1458,1384.0 L1459,1383.8 L1460,1383.6 L1461,1383.4 L1462,1383.3 L1463,1383.3 L1464,1383.4 L1465,1383.5 L1466,1383.7 L1467,1383.9 L1468,1384.1 L1469,1384.3 L1470,1384.5 L1471,1384.6 L1472,1384.6 L1473,1384.6 L1474,1384.6 L1475,1384.6 L1476,1384.6 L1477,1384.5 L1478,1384.5 L1479,1384.5 L1480,1384.5 L1481,1384.5 L1482,1384.5 L1483,1384.5 L1484,1384.5 L1485,1384.6 L1486,1384.6 L1487,1384.6 L1488,1384.6 L1489,1384.6 L1490,1384.6 L1491,1384.6 L1492,1384.6 L1493,1384.6 L1494,1384.6 L1495,1384.6 L1496,1384.6 L1497,1384.5 L1498,1384.4 L1499,1384.3 L1500,1384.2 L1501,1384.2 L1502,1384.2 L1503,1384.2 L1504,1384.3 L1505,1384.4 L1506,1384.5 L1507,1384.6 L1508,1384.6 L1509,1384.6 L1510,1384.6 L1511,1384.6 L1512,1384.6 L1513,1384.6 L1514,1384.6 L1515,1384.6 L1516,1384.6 L1517,1384.6 L1518,1384.6 L1519,1384.6 L1520,1384.6 L1521,1384.5 L1522,1384.3 L1523,1384.0 L1524,1383.7 L1525,1383.4 L1526,1383.1 L1527,1382.8 L1528,1382.7 L1529,1382.6 L1530,1382.7 L1531,1382.8 L1532,1383.0 L1533,1383.3 L1534,1383.6 L1535,1383.9 L1536,1384.1 L1537,1384.0 L1538,1383.8 L1539,1383.3 L1540,1382.7 L1541,1382.1 L1542,1381.5 L1543,1380.9 L1544,1380.5 L1545,1380.3 L1546,1380.1 L1547,1380.2 L1548,1380.4 L1549,1376.8 L1550,1367.6 L1551,1355.3 L1552,1341.0 L1553,1325.2 L1554,1308.2 L1555,1290.6 L1556,1272.7 L1557,1255.0 L1558,1237.7 L1559,1221.2 L1560,1205.9 L1561,1192.1 L1562,1179.9 L1563,1169.7 L1564,1161.6 L1565,1155.7 L1566,1152.3 L1567,1151.3 L1568,1152.8 L1569,1156.7 L1570,1163.0 L1571,1171.5 L1572,1182.2 L1573,1194.7 L1574,1208.9 L1575,1224.5 L1576,1241.1 L1577,1258.5 L1578,1276.3 L1579,1294.2 L1580,1311.7 L1581,1328.4 L1582,1344.0 L1583,1358.0 L1584,1369.8 L1585,1378.1 L1586,1380.7 L1587,1380.5 L1588,1380.5 L1589,1380.8 L1590,1381.3 L1591,1382.0 L1592,1382.8 L1593,1383.5 L1594,1384.1 L1595,1384.5 L1596,1384.6 L1597,1384.6 L1598,1384.6 L1599,1384.6 L1600,1384.6 L1601,1384.6 L1602,1384.6 L1603,1384.6 L1604,1384.6 L1605,1384.6 L1606,1384.6 L1607,1384.6 L1608,1384.5 L1609,1384.2 L1610,1383.7 L1611,1383.2 L1612,1382.7 L1613,1382.3 L1614,1382.0 L1615,1382.0 L1616,1382.2 L1617,1382.5 L1618,1383.0 L1619,1383.5 L1620,1384.0 L1621,1384.4 L1622,1384.6 L1623,1384.6 L1624,1384.6 L1625,1384.6 L1626,1384.6 L1627,1384.6 L1628,1384.5 L1629,1384.3 L1630,1384.0 L1631,1383.5 L1632,1383.0 L1633,1382.4 L1634,1381.9 L1635,1381.5 L1636,1381.1 L1637,1380.9 L1638,1380.8 L1639,1380.8 L1640,1381.0 L1641,1381.4 L1642,1381.8 L1643,1382.3 L1644,1382.9 L1645,1383.4 L1646,1383.9 L1647,1384.2 L1648,1384.5 L1649,1384.6 L1650,1384.6 L1651,1384.6 L1652,1384.6 L1653,1384.6 L1654,1384.6 L1655,1384.5 L1656,1384.1 L1657,1383.6 L1658,1383.0 L1659,1382.6 L1660,1382.4 L1661,1382.5 L1662,1382.9 L1663,1383.4 L1664,1383.9 L1665,1384.3 L1666,1384.6 L1667,1384.0 L1668,1381.9 L1669,1378.9 L1670,1375.0 L1671,1370.6 L1672,1365.8 L1673,1360.7 L1674,1355.4 L1675,1350.1 L1676,1344.8 L1677,1339.6 L1678,1334.8 L1679,1330.3 L1680,1326.2 L1681,1322.7 L1682,1319.8 L1683,1317.5 L1684,1315.9 L1685,1315.0 L1686,1314.8 L1687,1315.4 L1688,1316.7 L1689,1318.8 L1690,1321.4 L1691,1324.7 L1692,1328.6 L1693,1332.9 L1694,1337.7 L1695,1342.7 L1696,1347.9 L1697,1353.3 L1698,1358.6 L1699,1363.8 L1700,1368.7 L1701,1373.3 L1702,1377.3 L1703,1380.7 L1704,1383.3 L1705,1384.6 L1706,1384.6 L1707,1384.6 L1708,1384.6 L1709,1384.6 L1710,1384.6 L1711,1384.6 L1712,1384.6 L1713,1384.5 L1714,1384.3 L1715,1384.2 L1716,1384.0 L1717,1383.9 L1718,1383.7 L1719,1383.7 L1720,1383.7 L1721,1383.7 L1722,1383.8 L1723,1384.0 L1724,1384.1 L1725,1384.3 L1726,1384.4 L1727,1384.6 L1728,1384.6 L1729,1384.6 L1730,1384.6 L1731,1384.6 L1732,1384.6 L1733,1384.6 L1734,1384.4 L1735,1384.1 L1736,1383.6 L1737,1383.1 L1738,1382.5 L1739,1382.0 L1740,1381.7 L1741,1381.4 L1742,1381.4 L1743,1381.5 L1744,1381.8 L1745,1382.3 L1746,1382.8 L1747,1383.4 L1748,1383.9 L1749,1384.3 L1750,1384.5 L1751,1384.6 L1752,1384.6 L1753,1384.6 L1754,1384.6 L1755,1384.6 L1756,1384.6 L1757,1384.5 L1758,1384.2 L1759,1383.8 L1760,1383.4 L1761,1383.1 L1762,1383.0 L1763,1383.1 L1764,1383.4 L1765,1383.7 L1766,1384.1 L1767,1384.2 L1768,1384.1 L1769,1383.8 L1770,1383.5 L1771,1383.1 L1772,1382.8 L1773,1382.4 L1774,1382.1 L1775,1381.9 L1776,1381.8 L1777,1381.8 L1778,1381.9 L1779,1382.0 L1780,1382.3 L1781,1382.6 L1782,1382.9 L1783,1383.3 L1784,1383.7 L1785,1384.0 L1786,1384.3 L1787,1384.5 L1788,1384.6 L1789,1384.6 L1790,1384.6 L1791,1384.6 L1792,1384.6 L1793,1384.6 L1794,1384.6 L1795,1384.4 L1796,1384.2 L1797,1384.0 L1798,1383.8 L1799,1383.6 L1800,1383.6 L1801,1383.6 L1802,1383.7 L1803,1383.9 L1804,1384.1 L1805,1384.4 L1806,1384.5 L1807,1384.6 L1808,1384.6 L1809,1384.6 L1810,1384.6 L1811,1384.6 L1812,1384.6 L1813,1384.4 L1814,1384.1 L1815,1383.6 L1816,1383.0 L1817,1382.4 L1818,1381.7 L1819,1381.2 L1820,1380.7 L1821,1380.4 L1822,1380.2 L1823,1380.3 L1824,1380.5 L1825,1380.9 L1826,1381.4 L1827,1382.0 L1828,1382.7 L1829,1383.3 L1830,1383.8 L1831,1384.3 L1832,1384.5 L1833,1384.6 L1834,1384.6 L1835,1384.6 L1836,1384.6 L1837,1384.6 L1838,1384.6 L1839,1384.2 L1840,1383.7 L1841,1382.9 L1842,1382.1 L1843,1381.5 L1844,1381.0 L1845,1380.9 L1846,1381.1 L1847,1381.6 L1848,1382.3 L1849,1383.1 L1850,1383.8 L1851,1384.3 L1852,1384.6 L1853,1384.6 L1854,1384.6 L1855,1384.6 L1856,1384.6 L1857,1384.6 L1858,1384.6 L1859,1384.4 L1860,1384.0 L1861,1383.4 L1862,1382.8 L1863,1382.1 L1864,1381.4 L1865,1380.9 L1866,1380.5 L1867,1380.4 L1868,1380.5 L1869,1380.8 L1870,1381.3 L1871,1381.9 L1872,1382.6 L1873,1383.3 L1874,1383.9 L1875,1384.3 L1876,1384.6 L1877,1384.6 L1878,1384.6 L1879,1384.6 L1880,1384.6 L1881,1384.6 L1882,1384.5 L1883,1384.5 L1884,1384.4 L1885,1384.4 L1886,1384.3 L1887,1384.3 L1888,1384.3 L1889,1384.3 L1890,1384.3 L1891,1384.3 L1892,1384.4 L1893,1384.4 L1894,1384.5 L1895,1384.5 L1896,1384.6 L1897,1384.6 L1898,1384.6 L1899,1384.6 L1900,1384.6 L1901,1384.6 L1902,1384.6 L1903,1384.6 L1904,1384.6 L1905,1384.6 L1906,1384.6 L1907,1384.6 L1908,1384.6 L1909,1384.7 L1910,1384.8 L1911,1384.9 L1912,1385.1 L1913,1385.3 L1914,1385.4 L1915,1385.6 L1916,1385.7 L1917,1385.8 L1918,1385.8 L1919,1385.7 L1920,1385.6 L1921,1385.5 L1922,1385.4 L1923,1385.2 L1924,1385.0 L1925,1384.9 L1926,1384.7 L1927,1384.7 L1928,1384.6 L1929,1384.6 L1930,1384.6 L1931,1384.6 L1932,1384.6 L1933,1384.6 L1934,1384.6 L1935,1384.6 L1936,1384.4 L1937,1384.1 L1938,1383.6 L1939,1383.1 L1940,1382.5 L1941,1381.9 L1942,1381.4 L1943,1381.1 L1944,1380.8 L1945,1380.7 L1946,1380.8 L1947,1381.1 L1948,1381.5 L1949,1382.0 L1950,1382.6 L1951,1383.2 L1952,1383.7 L1953,1384.1 L1954,1384.4 L1955,1384.6 L1956,1384.6 L1957,1384.6 L1958,1384.6 L1959,1384.6 L1960,1384.6 L1961,1384.6 L1962,1384.6 L1963,1384.6 L1964,1384.5 L1965,1384.3 L1966,1384.1 L1967,1383.8 L1968,1383.5 L1969,1383.2 L1970,1383.0 L1971,1382.9 L1972,1382.8 L1973,1382.9 L1974,1383.1 L1975,1383.3 L1976,1383.6 L1977,1383.9 L1978,1384.1 L1979,1384.4 L1980,1384.5 L1981,1384.6 L1982,1384.6 L1983,1384.6 L1984,1384.7 L1985,1384.8 L1986,1384.9 L1987,1385.0 L1988,1385.2 L1989,1385.3 L1990,1385.4 L1991,1385.4 L1992,1385.5 L1993,1385.5 L1994,1385.5 L1995,1385.4 L1996,1385.3 L1997,1385.2 L1998,1385.1 L1999,1385.0 L2000,1384.8 L2001,1384.7 L2002,1384.7 L2003,1384.6 L2004,1384.6 L2005,1384.6 L2006,1384.6 L2007,1384.6 L2008,1384.6 L2009,1384.6 L2010,1384.6 L2011,1384.6 L2012,1384.6 L2013,1384.6 L2014,1384.7 L2015,1384.7 L2016,1384.7 L2017,1384.7 L2018,1384.7 L2019,1384.6 L2020,1384.6 L2021,1384.6 L2022,1384.6 L2023,1384.6 L2024,1384.6 L2025,1384.6 L2026,1384.6 L2027,1384.6 L2028,1384.6 L2029,1384.6" fill="none" stroke="#222222" stroke-width="1.7" stroke-opacity="0.8" stroke-linejoin="round"/>
<path d="M1251,1364.9 L1252,1365.9 L1253,1367.0 L1254,1368.2 L1255,1369.5 L1256,1370.8 L1257,1372.1 L1258,1373.5 L1259,1374.8 L1260,1376.1 L1261,1377.4 L1262,1378.7 L1263,1379.8 L1264,1380.9 L1265,1381.8 L1266,1382.5 L1267,1382.8 L1268,1382.8 L1269,1382.4 L1270,1382.0 L1271,1381.7 L1272,1381.4 L1273,1381.2 L1274,1381.1 L1275,1381.1 L1276,1381.2 L1277,1381.5 L1278,1381.8 L1279,1382.2 L1280,1382.5 L1281,1382.9 L1282,1383.2 L1283,1383.3 L1284,1383.4 L1285,1383.4 L1286,1383.4 L1287,1383.4 L1288,1383.4 L1289,1383.4 L1290,1383.5 L1291,1383.7 L1292,1383.5 L1293,1380.0 L1294,1374.3 L1295,1367.2 L1296,1359.0 L1297,1349.9 L1298,1340.2 L1299,1330.0 L1300,1319.7 L1301,1309.4 L1302,1299.3 L1303,1289.7 L1304,1280.8 L1305,1272.7 L1306,1265.5 L1307,1259.5 L1308,1254.7 L1309,1251.1 L1310,1249.0 L1311,1248.3 L1312,1249.0 L1313,1251.1 L1314,1254.7 L1315,1259.5 L1316,1265.5 L1317,1272.7 L1318,1280.8 L1319,1289.7 L1320,1299.3 L1321,1309.4 L1322,1319.7 L1323,1330.0 L1324,1340.2 L1325,1349.9 L1326,1359.0 L1327,1367.2 L1328,1374.2 L1329,1379.7 L1330,1382.9 L1331,1382.9 L1332,1382.6 L1333,1382.1 L1334,1381.4 L1335,1379.1 L1336,1374.7 L1337,1368.6 L1338,1361.3 L1339,1353.0 L1340,1344.1 L1341,1334.9 L1342,1325.5 L1343,1316.2 L1344,1307.0 L1345,1298.3 L1346,1290.2 L1347,1282.8 L1348,1276.3 L1349,1270.8 L1350,1266.5 L1351,1263.3 L1352,1261.3 L1353,1260.7 L1354,1261.3 L1355,1263.3 L1356,1266.5 L1357,1270.8 L1358,1276.3 L1359,1282.8 L1360,1290.2 L1361,1298.3 L1362,1307.0 L1363,1316.2 L1364,1325.5 L1365,1334.9 L1366,1344.1 L1367,1353.0 L1368,1361.3 L1369,1368.7 L1370,1375.2 L1371,1380.4 L1372,1384.1 L1373,1384.5 L1374,1384.4 L1375,1384.2 L1376,1383.9 L1377,1383.6 L1378,1383.4 L1379,1383.4 L1380,1383.4 L1381,1383.4 L1382,1383.4 L1383,1383.4 L1384,1383.4 L1385,1383.4 L1386,1383.4 L1387,1383.4 L1388,1383.4 L1389,1383.4 L1390,1383.4 L1391,1383.4 L1392,1383.4 L1393,1383.4 L1394,1383.4 L1395,1383.3 L1396,1383.3 L1397,1383.2 L1398,1383.2 L1399,1383.2 L1400,1383.2 L1401,1383.2 L1402,1383.3 L1403,1383.3 L1404,1383.4 L1405,1383.4 L1406,1383.4 L1407,1383.4 L1408,1383.4 L1409,1383.4 L1410,1383.4 L1411,1383.4 L1412,1383.4 L1413,1383.4 L1414,1383.4 L1415,1383.4 L1416,1383.4 L1417,1383.4 L1418,1383.3 L1419,1383.1 L1420,1382.9 L1421,1382.8 L1422,1382.7 L1423,1382.6 L1424,1382.7 L1425,1382.8 L1426,1383.0 L1427,1383.2 L1428,1383.3 L1429,1383.4 L1430,1383.4 L1431,1383.4 L1432,1383.4 L1433,1383.4 L1434,1383.2 L1435,1382.8 L1436,1382.4 L1437,1382.0 L1438,1381.7 L1439,1381.6 L1440,1381.6 L1441,1381.8 L1442,1382.2 L1443,1382.6 L1444,1383.0 L1445,1383.2 L1446,1383.4 L1447,1383.4 L1448,1383.4 L1449,1383.4 L1450,1383.3 L1451,1383.0 L1452,1382.6 L1453,1382.1 L1454,1381.6 L1455,1381.2 L1456,1380.8 L1457,1380.6 L1458,1380.6 L1459,1380.7 L1460,1381.0 L1461,1381.4 L1462,1381.9 L1463,1382.5 L1464,1382.9 L1465,1383.2 L1466,1383.4 L1467,1383.4 L1468,1383.4 L1469,1383.4 L1470,1383.4 L1471,1383.4 L1472,1383.2 L1473,1382.9 L1474,1382.6 L1475,1382.2 L1476,1382.0 L1477,1381.9 L1478,1382.0 L1479,1382.3 L1480,1382.7 L1481,1383.0 L1482,1383.3 L1483,1383.4 L1484,1383.4 L1485,1383.4 L1486,1383.4 L1487,1383.4 L1488,1383.4 L1489,1383.4 L1490,1383.4 L1491,1383.3 L1492,1383.2 L1493,1382.9 L1494,1382.7 L1495,1382.4 L1496,1382.3 L1497,1382.2 L1498,1382.3 L1499,1382.4 L1500,1382.6 L1501,1382.9 L1502,1383.2 L1503,1383.3 L1504,1383.4 L1505,1383.2 L1506,1382.8 L1507,1382.2 L1508,1381.6 L1509,1380.9 L1510,1380.3 L1511,1379.8 L1512,1379.4 L1513,1377.3 L1514,1372.5 L1515,1365.7 L1516,1357.6 L1517,1348.7 L1518,1339.2 L1519,1329.5 L1520,1319.6 L1521,1309.8 L1522,1300.3 L1523,1291.3 L1524,1283.0 L1525,1275.5 L1526,1269.0 L1527,1263.6 L1528,1259.3 L1529,1256.4 L1530,1254.7 L1531,1254.5 L1532,1255.6 L1533,1258.0 L1534,1261.7 L1535,1266.7 L1536,1272.8 L1537,1279.9 L1538,1287.9 L1539,1296.6 L1540,1306.0 L1541,1315.6 L1542,1325.5 L1543,1335.4 L1544,1345.0 L1545,1354.1 L1546,1362.6 L1547,1370.1 L1548,1376.5 L1549,1381.2 L1550,1383.5 L1551,1383.4 L1552,1383.4 L1553,1383.4 L1554,1383.4 L1555,1383.4 L1556,1383.4 L1557,1383.4 L1558,1383.4 L1559,1383.4 L1560,1383.4 L1561,1383.4 L1562,1383.4 L1563,1383.5 L1564,1383.5 L1565,1383.6 L1566,1383.6 L1567,1383.6 L1568,1383.7 L1569,1383.7 L1570,1383.7 L1571,1383.7 L1572,1383.7 L1573,1383.6 L1574,1383.6 L1575,1383.5 L1576,1383.5 L1577,1383.5 L1578,1383.4 L1579,1383.4 L1580,1383.4 L1581,1383.4 L1582,1383.4 L1583,1383.4 L1584,1383.4 L1585,1383.4 L1586,1383.4 L1587,1383.4 L1588,1383.4 L1589,1383.2 L1590,1382.9 L1591,1382.5 L1592,1381.9 L1593,1379.7 L1594,1375.8 L1595,1370.5 L1596,1364.0 L1597,1356.8 L1598,1349.0 L1599,1341.0 L1600,1332.7 L1601,1324.5 L1602,1316.6 L1603,1308.9 L1604,1301.8 L1605,1295.4 L1606,1289.7 L1607,1284.9 L1608,1281.1 L1609,1278.3 L1610,1276.6 L1611,1276.0 L1612,1276.6 L1613,1278.3 L1614,1281.1 L1615,1284.9 L1616,1289.7 L1617,1295.4 L1618,1301.8 L1619,1308.9 L1620,1316.6 L1621,1324.5 L1622,1332.7 L1623,1341.0 L1624,1349.0 L1625,1356.8 L1626,1364.0 L1627,1370.4 L1628,1375.8 L1629,1379.7 L1630,1382.1 L1631,1382.8 L1632,1383.2 L1633,1383.4 L1634,1383.4 L1635,1383.2 L1636,1382.9 L1637,1382.5 L1638,1382.1 L1639,1381.6 L1640,1381.2 L1641,1381.0 L1642,1380.9 L1643,1381.0 L1644,1381.2 L1645,1381.6 L1646,1382.1 L1647,1382.5 L1648,1382.9 L1649,1383.2 L1650,1383.4 L1651,1383.4 L1652,1383.4 L1653,1383.4 L1654,1383.4 L1655,1383.4 L1656,1383.4 L1657,1383.4 L1658,1383.3 L1659,1383.2 L1660,1383.1 L1661,1383.0 L1662,1382.9 L1663,1382.8 L1664,1382.8 L1665,1382.8 L1666,1382.8 L1667,1382.8 L1668,1382.9 L1669,1383.0 L1670,1383.1 L1671,1383.1 L1672,1383.2 L1673,1383.2 L1674,1383.1 L1675,1383.1 L1676,1383.0 L1677,1383.0 L1678,1382.9 L1679,1382.9 L1680,1382.9 L1681,1382.9 L1682,1382.9 L1683,1383.0 L1684,1383.0 L1685,1383.1 L1686,1383.1 L1687,1383.2 L1688,1383.3 L1689,1383.3 L1690,1383.4 L1691,1383.4 L1692,1383.4 L1693,1383.4 L1694,1383.4 L1695,1383.4 L1696,1383.4 L1697,1383.4 L1698,1383.4 L1699,1383.4 L1700,1383.3 L1701,1383.2 L1702,1383.2 L1703,1383.1 L1704,1383.0 L1705,1383.0 L1706,1382.9 L1707,1382.9 L1708,1381.1 L1709,1376.8 L1710,1370.7 L1711,1363.2 L1712,1354.8 L1713,1345.6 L1714,1336.0 L1715,1326.1 L1716,1316.2 L1717,1306.4 L1718,1297.0 L1719,1288.1 L1720,1279.9 L1721,1272.7 L1722,1266.4 L1723,1261.3 L1724,1257.4 L1725,1254.8 L1726,1253.6 L1727,1253.7 L1728,1255.3 L1729,1258.1 L1730,1262.2 L1731,1267.6 L1732,1274.1 L1733,1281.5 L1734,1289.8 L1735,1298.8 L1736,1308.3 L1737,1318.1 L1738,1328.1 L1739,1338.0 L1740,1347.5 L1741,1356.6 L1742,1364.8 L1743,1372.0 L1744,1377.9 L1745,1382.0 L1746,1383.2 L1747,1383.2 L1748,1381.2 L1749,1376.7 L1750,1370.5 L1751,1362.9 L1752,1354.3 L1753,1345.0 L1754,1335.2 L1755,1325.1 L1756,1315.0 L1757,1305.1 L1758,1295.5 L1759,1286.5 L1760,1278.2 L1761,1270.8 L1762,1264.5 L1763,1259.2 L1764,1255.3 L1765,1252.7 L1766,1251.4 L1767,1251.6 L1768,1253.1 L1769,1256.0 L1770,1260.2 L1771,1265.6 L1772,1272.2 L1773,1279.8 L1774,1288.2 L1775,1297.4 L1776,1307.0 L1777,1317.0 L1778,1327.2 L1779,1337.2 L1780,1346.9 L1781,1356.1 L1782,1364.5 L1783,1371.9 L1784,1377.9 L1785,1382.1 L1786,1383.4 L1787,1383.4 L1788,1383.4 L1789,1383.4 L1790,1383.4 L1791,1383.4 L1792,1383.4 L1793,1383.4 L1794,1383.4 L1795,1383.4 L1796,1383.4 L1797,1383.4 L1798,1383.4 L1799,1383.3 L1800,1383.1 L1801,1382.7 L1802,1382.2 L1803,1381.8 L1804,1381.5 L1805,1381.4 L1806,1381.4 L1807,1381.7 L1808,1382.0 L1809,1382.5 L1810,1382.9 L1811,1383.2 L1812,1383.4 L1813,1383.4 L1814,1383.4 L1815,1383.3 L1816,1380.3 L1817,1374.6 L1818,1367.2 L1819,1358.3 L1820,1348.4 L1821,1337.8 L1822,1326.6 L1823,1315.2 L1824,1303.7 L1825,1292.5 L1826,1281.8 L1827,1271.8 L1828,1262.6 L1829,1254.4 L1830,1247.5 L1831,1241.9 L1832,1237.7 L1833,1235.0 L1834,1233.9 L1835,1234.4 L1836,1236.5 L1837,1240.0 L1838,1245.1 L1839,1251.5 L1840,1259.2 L1841,1268.0 L1842,1277.7 L1843,1288.2 L1844,1299.2 L1845,1310.6 L1846,1322.0 L1847,1333.3 L1848,1344.2 L1849,1354.5 L1850,1363.8 L1851,1371.8 L1852,1378.1 L1853,1381.9 L1854,1382.5 L1855,1382.4 L1856,1382.5 L1857,1382.6 L1858,1382.7 L1859,1382.9 L1860,1383.1 L1861,1383.2 L1862,1383.3 L1863,1383.4 L1864,1383.4 L1865,1383.3 L1866,1383.0 L1867,1382.7 L1868,1382.2 L1869,1381.7 L1870,1381.3 L1871,1381.0 L1872,1380.8 L1873,1380.8 L1874,1380.9 L1875,1381.3 L1876,1381.7 L1877,1382.2 L1878,1382.6 L1879,1383.0 L1880,1383.3 L1881,1383.4 L1882,1383.5 L1883,1383.6 L1884,1383.6 L1885,1383.7 L1886,1383.8 L1887,1383.9 L1888,1384.0 L1889,1384.0 L1890,1384.0 L1891,1384.0 L1892,1383.9 L1893,1383.9 L1894,1383.8 L1895,1383.7 L1896,1383.6 L1897,1383.5 L1898,1383.4 L1899,1383.4 L1900,1383.4 L1901,1383.4 L1902,1383.2 L1903,1383.0 L1904,1382.7 L1905,1382.4 L1906,1382.1 L1907,1381.9 L1908,1381.8 L1909,1381.8 L1910,1381.9 L1911,1382.2 L1912,1382.5 L1913,1382.8 L1914,1383.1 L1915,1383.3 L1916,1383.4 L1917,1383.4 L1918,1383.4 L1919,1383.4 L1920,1383.4 L1921,1383.4 L1922,1383.4 L1923,1383.4 L1924,1383.4 L1925,1383.4 L1926,1383.4 L1927,1383.4 L1928,1383.4 L1929,1383.4 L1930,1383.4 L1931,1383.2 L1932,1382.6 L1933,1381.7 L1934,1380.7 L1935,1379.9 L1936,1379.5 L1937,1379.6 L1938,1380.2 L1939,1381.1 L1940,1382.1 L1941,1382.9 L1942,1383.4 L1943,1383.4 L1944,1383.3 L1945,1383.3 L1946,1383.2 L1947,1383.1 L1948,1383.0 L1949,1382.9 L1950,1382.9 L1951,1382.8 L1952,1382.8 L1953,1382.7 L1954,1382.7 L1955,1382.8 L1956,1382.8 L1957,1382.9 L1958,1382.9 L1959,1383.0 L1960,1383.1 L1961,1383.2 L1962,1383.3 L1963,1383.3 L1964,1383.4 L1965,1383.4 L1966,1383.4 L1967,1383.4 L1968,1383.4 L1969,1383.4 L1970,1383.4 L1971,1383.4 L1972,1383.4 L1973,1383.4 L1974,1383.4 L1975,1383.2 L1976,1383.1 L1977,1382.9 L1978,1382.8 L1979,1382.7 L1980,1382.7 L1981,1382.7 L1982,1382.8 L1983,1382.9 L1984,1383.1 L1985,1383.2 L1986,1383.3 L1987,1383.4 L1988,1383.4 L1989,1383.4 L1990,1383.4 L1991,1383.4 L1992,1383.4 L1993,1383.4 L1994,1383.4 L1995,1383.2 L1996,1382.9 L1997,1382.6 L1998,1382.1 L1999,1381.6 L2000,1381.2 L2001,1380.7 L2002,1380.3 L2003,1380.0 L2004,1379.9 L2005,1379.8 L2006,1379.9 L2007,1380.1 L2008,1380.4 L2009,1380.8 L2010,1381.3 L2011,1381.8 L2012,1382.3 L2013,1382.7 L2014,1383.0 L2015,1383.2 L2016,1383.1 L2017,1382.7 L2018,1382.2 L2019,1381.7 L2020,1381.1 L2021,1380.5 L2022,1380.1 L2023,1379.7 L2024,1379.6 L2025,1379.6 L2026,1379.8 L2027,1380.2 L2028,1380.7 L2029,1381.2" fill="none" stroke="#d03a3a" stroke-width="1.7" stroke-opacity="0.8" stroke-linejoin="round"/>
<path d="M1251,1384.3 L1252,1384.3 L1253,1382.1 L1254,1377.6 L1255,1371.6 L1256,1364.5 L1257,1356.5 L1258,1347.7 L1259,1338.6 L1260,1329.2 L1261,1319.8 L1262,1310.6 L1263,1301.8 L1264,1293.5 L1265,1285.9 L1266,1279.1 L1267,1273.3 L1268,1268.6 L1269,1265.0 L1270,1262.7 L1271,1261.7 L1272,1261.9 L1273,1263.5 L1274,1266.3 L1275,1270.3 L1276,1275.5 L1277,1281.7 L1278,1288.8 L1279,1296.7 L1280,1305.3 L1281,1314.3 L1282,1323.6 L1283,1333.0 L1284,1342.3 L1285,1351.3 L1286,1359.8 L1287,1367.5 L1288,1374.2 L1289,1379.6 L1290,1383.3 L1291,1384.3 L1292,1384.0 L1293,1383.6 L1294,1383.1 L1295,1382.4 L1296,1381.7 L1297,1381.0 L1298,1380.2 L1299,1379.3 L1300,1378.5 L1301,1377.6 L1302,1376.8 L1303,1376.0 L1304,1375.2 L1305,1374.5 L1306,1373.9 L1307,1373.3 L1308,1372.8 L1309,1372.4 L1310,1372.1 L1311,1371.8 L1312,1371.7 L1313,1371.7 L1314,1371.8 L1315,1372.0 L1316,1372.3 L1317,1372.6 L1318,1373.1 L1319,1373.6 L1320,1374.3 L1321,1375.0 L1322,1375.7 L1323,1376.4 L1324,1377.2 L1325,1377.8 L1326,1378.3 L1327,1378.5 L1328,1378.5 L1329,1378.5 L1330,1378.3 L1331,1378.1 L1332,1377.8 L1333,1377.3 L1334,1376.6 L1335,1375.6 L1336,1374.4 L1337,1373.2 L1338,1372.0 L1339,1370.8 L1340,1369.7 L1341,1368.6 L1342,1367.6 L1343,1366.7 L1344,1365.9 L1345,1365.3 L1346,1364.7 L1347,1364.3 L1348,1364.1 L1349,1363.9 L1350,1363.9 L1351,1364.1 L1352,1364.3 L1353,1364.7 L1354,1365.3 L1355,1365.9 L1356,1366.7 L1357,1367.6 L1358,1368.6 L1359,1369.7 L1360,1370.8 L1361,1372.0 L1362,1373.2 L1363,1374.4 L1364,1375.6 L1365,1376.8 L1366,1377.8 L1367,1378.7 L1368,1379.4 L1369,1379.9 L1370,1380.1 L1371,1380.1 L1372,1380.1 L1373,1380.1 L1374,1380.2 L1375,1380.5 L1376,1380.9 L1377,1381.5 L1378,1382.0 L1379,1382.6 L1380,1383.2 L1381,1383.6 L1382,1384.0 L1383,1384.2 L1384,1383.9 L1385,1383.5 L1386,1383.1 L1387,1382.7 L1388,1382.4 L1389,1382.4 L1390,1382.5 L1391,1382.9 L1392,1383.3 L1393,1383.8 L1394,1384.1 L1395,1384.4 L1396,1384.5 L1397,1384.6 L1398,1384.7 L1399,1384.8 L1400,1384.9 L1401,1385.0 L1402,1385.1 L1403,1383.6 L1404,1379.4 L1405,1373.8 L1406,1367.0 L1407,1359.3 L1408,1350.9 L1409,1342.1 L1410,1332.9 L1411,1323.8 L1412,1314.8 L1413,1306.1 L1414,1297.9 L1415,1290.5 L1416,1283.9 L1417,1278.2 L1418,1273.6 L1419,1270.2 L1420,1268.0 L1421,1267.1 L1422,1267.5 L1423,1269.2 L1424,1272.1 L1425,1276.2 L1426,1281.5 L1427,1287.7 L1428,1294.9 L1429,1302.8 L1430,1311.2 L1431,1320.1 L1432,1329.3 L1433,1338.4 L1434,1347.4 L1435,1356.0 L1436,1364.0 L1437,1371.1 L1438,1377.2 L1439,1381.8 L1440,1383.5 L1441,1379.9 L1442,1374.4 L1443,1367.5 L1444,1359.6 L1445,1350.9 L1446,1341.6 L1447,1332.0 L1448,1322.3 L1449,1312.7 L1450,1303.5 L1451,1294.7 L1452,1286.7 L1453,1279.5 L1454,1273.3 L1455,1268.3 L1456,1264.4 L1457,1261.8 L1458,1260.6 L1459,1260.7 L1460,1262.2 L1461,1265.1 L1462,1269.2 L1463,1274.5 L1464,1280.9 L1465,1288.3 L1466,1296.4 L1467,1305.3 L1468,1314.6 L1469,1324.2 L1470,1333.9 L1471,1343.5 L1472,1352.6 L1473,1361.2 L1474,1369.0 L1475,1375.6 L1476,1380.8 L1477,1383.9 L1478,1384.2 L1479,1384.2 L1480,1384.3 L1481,1384.3 L1482,1384.3 L1483,1384.3 L1484,1384.3 L1485,1384.3 L1486,1384.3 L1487,1384.2 L1488,1383.8 L1489,1383.3 L1490,1382.7 L1491,1382.1 L1492,1381.5 L1493,1380.9 L1494,1380.6 L1495,1380.4 L1496,1380.5 L1497,1380.7 L1498,1381.2 L1499,1381.8 L1500,1382.4 L1501,1383.0 L1502,1383.6 L1503,1384.0 L1504,1384.3 L1505,1384.3 L1506,1384.3 L1507,1384.3 L1508,1384.3 L1509,1384.3 L1510,1384.3 L1511,1384.3 L1512,1384.3 L1513,1384.3 L1514,1384.3 L1515,1384.3 L1516,1384.3 L1517,1384.3 L1518,1384.1 L1519,1383.9 L1520,1383.7 L1521,1383.4 L1522,1383.1 L1523,1383.0 L1524,1382.9 L1525,1382.9 L1526,1383.1 L1527,1383.3 L1528,1383.6 L1529,1383.9 L1530,1384.1 L1531,1384.3 L1532,1384.3 L1533,1384.3 L1534,1384.3 L1535,1384.3 L1536,1384.3 L1537,1384.3 L1538,1384.3 L1539,1384.3 L1540,1384.3 L1541,1384.3 L1542,1384.3 L1543,1384.3 L1544,1384.3 L1545,1384.3 L1546,1383.8 L1547,1383.1 L1548,1382.2 L1549,1381.4 L1550,1380.9 L1551,1380.8 L1552,1381.2 L1553,1381.9 L1554,1382.8 L1555,1383.7 L1556,1384.2 L1557,1384.3 L1558,1384.3 L1559,1384.3 L1560,1384.3 L1561,1384.3 L1562,1384.3 L1563,1384.3 L1564,1384.3 L1565,1384.3 L1566,1384.3 L1567,1384.3 L1568,1384.3 L1569,1384.3 L1570,1384.4 L1571,1384.5 L1572,1384.6 L1573,1384.8 L1574,1384.9 L1575,1385.0 L1576,1385.0 L1577,1384.9 L1578,1384.7 L1579,1384.6 L1580,1384.4 L1581,1384.3 L1582,1384.3 L1583,1384.3 L1584,1384.3 L1585,1384.3 L1586,1384.3 L1587,1384.3 L1588,1384.3 L1589,1384.3 L1590,1384.3 L1591,1384.3 L1592,1384.3 L1593,1384.3 L1594,1384.3 L1595,1384.3 L1596,1384.3 L1597,1384.3 L1598,1384.5 L1599,1384.6 L1600,1384.8 L1601,1385.0 L1602,1385.2 L1603,1385.3 L1604,1385.3 L1605,1385.2 L1606,1385.0 L1607,1384.8 L1608,1384.6 L1609,1384.5 L1610,1384.3 L1611,1384.3 L1612,1384.3 L1613,1384.3 L1614,1384.3 L1615,1384.3 L1616,1384.3 L1617,1384.3 L1618,1384.3 L1619,1384.3 L1620,1384.3 L1621,1384.3 L1622,1384.3 L1623,1384.3 L1624,1384.3 L1625,1384.3 L1626,1384.3 L1627,1384.3 L1628,1384.2 L1629,1384.0 L1630,1383.7 L1631,1383.4 L1632,1383.2 L1633,1383.1 L1634,1383.1 L1635,1383.3 L1636,1383.5 L1637,1383.8 L1638,1384.0 L1639,1384.2 L1640,1384.3 L1641,1384.3 L1642,1384.3 L1643,1384.3 L1644,1384.2 L1645,1384.2 L1646,1384.2 L1647,1384.2 L1648,1384.1 L1649,1384.1 L1650,1384.1 L1651,1384.1 L1652,1384.1 L1653,1384.2 L1654,1384.2 L1655,1384.2 L1656,1384.2 L1657,1384.3 L1658,1384.2 L1659,1383.9 L1660,1383.4 L1661,1382.7 L1662,1381.9 L1663,1381.2 L1664,1380.7 L1665,1380.4 L1666,1380.3 L1667,1380.6 L1668,1381.0 L1669,1381.7 L1670,1382.5 L1671,1383.2 L1672,1383.8 L1673,1384.2 L1674,1384.3 L1675,1384.3 L1676,1384.3 L1677,1384.3 L1678,1384.3 L1679,1384.3 L1680,1384.3 L1681,1384.3 L1682,1384.3 L1683,1384.3 L1684,1384.3 L1685,1384.3 L1686,1384.3 L1687,1384.3 L1688,1384.2 L1689,1383.9 L1690,1383.3 L1691,1382.5 L1692,1381.7 L1693,1381.0 L1694,1380.5 L1695,1380.3 L1696,1380.4 L1697,1380.8 L1698,1381.5 L1699,1382.3 L1700,1383.0 L1701,1383.7 L1702,1384.2 L1703,1384.3 L1704,1384.3 L1705,1384.3 L1706,1384.3 L1707,1384.3 L1708,1384.1 L1709,1383.9 L1710,1383.5 L1711,1383.2 L1712,1382.9 L1713,1382.8 L1714,1382.8 L1715,1383.0 L1716,1383.3 L1717,1383.7 L1718,1384.0 L1719,1384.2 L1720,1384.3 L1721,1384.3 L1722,1384.3 L1723,1384.3 L1724,1384.3 L1725,1384.3 L1726,1384.3 L1727,1384.3 L1728,1384.3 L1729,1384.3 L1730,1384.3 L1731,1384.3 L1732,1384.3 L1733,1384.4 L1734,1384.6 L1735,1384.9 L1736,1385.1 L1737,1385.2 L1738,1385.3 L1739,1385.2 L1740,1385.0 L1741,1384.7 L1742,1384.5 L1743,1384.3 L1744,1384.3 L1745,1384.3 L1746,1384.3 L1747,1384.3 L1748,1384.3 L1749,1384.3 L1750,1384.3 L1751,1384.3 L1752,1384.3 L1753,1384.3 L1754,1384.3 L1755,1384.3 L1756,1384.3 L1757,1384.3 L1758,1384.3 L1759,1384.3 L1760,1384.2 L1761,1384.2 L1762,1384.1 L1763,1384.0 L1764,1384.0 L1765,1383.9 L1766,1383.8 L1767,1383.8 L1768,1383.8 L1769,1383.8 L1770,1383.9 L1771,1384.0 L1772,1384.0 L1773,1384.1 L1774,1384.2 L1775,1384.3 L1776,1384.3 L1777,1384.3 L1778,1384.3 L1779,1384.3 L1780,1384.3 L1781,1384.3 L1782,1384.3 L1783,1384.3 L1784,1384.2 L1785,1384.1 L1786,1383.9 L1787,1383.8 L1788,1383.7 L1789,1383.7 L1790,1383.8 L1791,1383.9 L1792,1384.0 L1793,1384.2 L1794,1384.3 L1795,1384.3 L1796,1384.3 L1797,1384.3 L1798,1384.3 L1799,1384.3 L1800,1384.3 L1801,1384.3 L1802,1384.3 L1803,1384.3 L1804,1384.3 L1805,1384.3 L1806,1384.3 L1807,1384.1 L1808,1383.8 L1809,1383.4 L1810,1382.9 L1811,1382.3 L1812,1381.7 L1813,1381.2 L1814,1380.7 L1815,1380.3 L1816,1380.1 L1817,1380.0 L1818,1380.0 L1819,1380.2 L1820,1380.5 L1821,1381.0 L1822,1381.5 L1823,1382.1 L1824,1382.6 L1825,1383.2 L1826,1383.6 L1827,1384.0 L1828,1384.2 L1829,1384.3 L1830,1384.3 L1831,1384.3 L1832,1384.3 L1833,1384.3 L1834,1384.3 L1835,1384.3 L1836,1384.3 L1837,1384.3 L1838,1384.3 L1839,1384.3 L1840,1384.3 L1841,1384.3 L1842,1384.3 L1843,1384.3 L1844,1384.3 L1845,1384.3 L1846,1384.3 L1847,1384.3 L1848,1384.3 L1849,1384.3 L1850,1384.3 L1851,1384.3 L1852,1384.3 L1853,1384.3 L1854,1384.1 L1855,1381.5 L1856,1376.7 L1857,1370.4 L1858,1362.9 L1859,1354.4 L1860,1345.3 L1861,1335.8 L1862,1326.0 L1863,1316.3 L1864,1306.7 L1865,1297.5 L1866,1288.9 L1867,1281.1 L1868,1274.1 L1869,1268.2 L1870,1263.4 L1871,1259.9 L1872,1257.6 L1873,1256.6 L1874,1257.0 L1875,1258.8 L1876,1261.8 L1877,1266.2 L1878,1271.6 L1879,1278.2 L1880,1285.7 L1881,1294.0 L1882,1303.0 L1883,1312.4 L1884,1322.1 L1885,1331.9 L1886,1341.5 L1887,1350.9 L1888,1359.6 L1889,1367.5 L1890,1374.4 L1891,1379.8 L1892,1383.4 L1893,1384.2 L1894,1384.3 L1895,1384.3 L1896,1384.3 L1897,1384.3 L1898,1384.3 L1899,1384.3 L1900,1384.3 L1901,1384.3 L1902,1384.2 L1903,1384.2 L1904,1384.1 L1905,1384.1 L1906,1384.1 L1907,1384.1 L1908,1384.1 L1909,1384.2 L1910,1384.2 L1911,1384.3 L1912,1384.3 L1913,1384.3 L1914,1384.3 L1915,1384.3 L1916,1384.3 L1917,1384.1 L1918,1383.7 L1919,1383.1 L1920,1382.3 L1921,1381.6 L1922,1380.8 L1923,1380.0 L1924,1377.5 L1925,1372.5 L1926,1365.6 L1927,1357.5 L1928,1348.8 L1929,1339.5 L1930,1329.9 L1931,1320.3 L1932,1310.9 L1933,1301.7 L1934,1293.1 L1935,1285.2 L1936,1278.1 L1937,1271.9 L1938,1266.9 L1939,1263.0 L1940,1260.4 L1941,1259.1 L1942,1259.1 L1943,1260.4 L1944,1263.0 L1945,1266.9 L1946,1271.9 L1947,1278.1 L1948,1285.2 L1949,1293.1 L1950,1301.7 L1951,1310.9 L1952,1320.3 L1953,1329.9 L1954,1339.5 L1955,1348.8 L1956,1357.5 L1957,1365.6 L1958,1372.7 L1959,1378.5 L1960,1382.7 L1961,1384.3 L1962,1384.3 L1963,1384.2 L1964,1384.2 L1965,1384.1 L1966,1384.0 L1967,1383.9 L1968,1383.8 L1969,1383.8 L1970,1383.8 L1971,1383.8 L1972,1383.9 L1973,1384.0 L1974,1384.1 L1975,1384.2 L1976,1384.3 L1977,1384.3 L1978,1384.2 L1979,1384.0 L1980,1383.7 L1981,1383.3 L1982,1382.8 L1983,1382.3 L1984,1381.9 L1985,1381.4 L1986,1381.1 L1987,1380.8 L1988,1380.7 L1989,1380.7 L1990,1380.8 L1991,1381.1 L1992,1381.5 L1993,1381.9 L1994,1382.4 L1995,1382.9 L1996,1383.4 L1997,1383.8 L1998,1384.1 L1999,1384.2 L2000,1384.2 L2001,1384.1 L2002,1384.0 L2003,1383.9 L2004,1383.8 L2005,1383.7 L2006,1383.6 L2007,1383.6 L2008,1383.6 L2009,1383.7 L2010,1383.7 L2011,1383.8 L2012,1384.0 L2013,1384.1 L2014,1384.2 L2015,1384.3 L2016,1384.3 L2017,1384.3 L2018,1384.3 L2019,1384.3 L2020,1384.3 L2021,1384.3 L2022,1384.3 L2023,1384.3 L2024,1384.2 L2025,1383.9 L2026,1383.6 L2027,1383.1 L2028,1382.7 L2029,1382.3" fill="none" stroke="#3a3ad0" stroke-width="1.7" stroke-opacity="0.8" stroke-linejoin="round"/>
<path d="M1251,1382.0 L1252,1381.5 L1253,1381.1 L1254,1380.6 L1255,1380.1 L1256,1379.5 L1257,1379.0 L1258,1378.5 L1259,1378.0 L1260,1377.6 L1261,1377.1 L1262,1376.7 L1263,1376.3 L1264,1375.9 L1265,1375.6 L1266,1375.3 L1267,1375.1 L1268,1374.9 L1269,1374.8 L1270,1374.7 L1271,1374.7 L1272,1374.7 L1273,1374.8 L1274,1374.9 L1275,1375.1 L1276,1375.3 L1277,1375.6 L1278,1375.9 L1279,1376.3 L1280,1376.7 L1281,1377.1 L1282,1377.6 L1283,1378.0 L1284,1378.6 L1285,1379.1 L1286,1379.7 L1287,1380.3 L1288,1380.9 L1289,1381.3 L1290,1381.5 L1291,1381.5 L1292,1381.4 L1293,1381.2 L1294,1380.9 L1295,1380.6 L1296,1380.1 L1297,1379.6 L1298,1379.0 L1299,1378.3 L1300,1377.7 L1301,1377.0 L1302,1376.5 L1303,1375.9 L1304,1375.4 L1305,1374.9 L1306,1374.4 L1307,1374.1 L1308,1373.7 L1309,1373.5 L1310,1373.3 L1311,1373.2 L1312,1373.2 L1313,1373.2 L1314,1373.3 L1315,1373.5 L1316,1373.7 L1317,1374.0 L1318,1374.4 L1319,1374.9 L1320,1375.3 L1321,1375.9 L1322,1376.4 L1323,1377.0 L1324,1377.7 L1325,1378.3 L1326,1379.0 L1327,1379.6 L1328,1380.2 L1329,1380.8 L1330,1380.9 L1331,1380.7 L1332,1380.3 L1333,1379.9 L1334,1379.5 L1335,1379.3 L1336,1379.2 L1337,1379.1 L1338,1378.9 L1339,1378.7 L1340,1378.4 L1341,1377.9 L1342,1377.4 L1343,1376.9 L1344,1376.4 L1345,1376.0 L1346,1375.6 L1347,1375.3 L1348,1375.0 L1349,1374.8 L1350,1374.7 L1351,1374.7 L1352,1374.7 L1353,1374.7 L1354,1374.8 L1355,1375.0 L1356,1375.2 L1357,1375.5 L1358,1375.9 L1359,1376.4 L1360,1377.0 L1361,1377.7 L1362,1378.4 L1363,1379.1 L1364,1379.7 L1365,1380.3 L1366,1380.9 L1367,1381.5 L1368,1379.9 L1369,1374.7 L1370,1367.3 L1371,1358.1 L1372,1347.4 L1373,1335.7 L1374,1323.2 L1375,1310.3 L1376,1297.3 L1377,1284.6 L1378,1272.2 L1379,1260.6 L1380,1249.9 L1381,1240.3 L1382,1232.0 L1383,1225.2 L1384,1220.0 L1385,1216.4 L1386,1214.6 L1387,1214.6 L1388,1216.4 L1389,1220.0 L1390,1225.2 L1391,1232.0 L1392,1240.3 L1393,1249.9 L1394,1260.6 L1395,1272.2 L1396,1284.6 L1397,1297.3 L1398,1310.3 L1399,1323.2 L1400,1335.7 L1401,1347.6 L1402,1358.5 L1403,1368.0 L1404,1375.9 L1405,1381.6 L1406,1383.7 L1407,1383.7 L1408,1383.2 L1409,1382.1 L1410,1380.4 L1411,1378.6 L1412,1376.6 L1413,1374.5 L1414,1372.3 L1415,1370.0 L1416,1367.7 L1417,1365.4 L1418,1363.2 L1419,1361.1 L1420,1359.2 L1421,1357.4 L1422,1356.0 L1423,1354.8 L1424,1353.8 L1425,1353.2 L1426,1352.9 L1427,1353.0 L1428,1353.3 L1429,1354.0 L1430,1355.0 L1431,1356.2 L1432,1357.8 L1433,1359.5 L1434,1361.5 L1435,1363.6 L1436,1365.9 L1437,1368.2 L1438,1370.6 L1439,1372.9 L1440,1375.2 L1441,1377.3 L1442,1379.3 L1443,1381.0 L1444,1382.4 L1445,1382.9 L1446,1382.5 L1447,1381.6 L1448,1380.8 L1449,1380.1 L1450,1379.8 L1451,1379.9 L1452,1380.4 L1453,1381.1 L1454,1382.0 L1455,1382.8 L1456,1383.4 L1457,1383.7 L1458,1383.7 L1459,1383.7 L1460,1383.7 L1461,1383.7 L1462,1383.7 L1463,1383.7 L1464,1383.7 L1465,1383.7 L1466,1383.7 L1467,1383.7 L1468,1383.7 L1469,1383.7 L1470,1383.7 L1471,1383.4 L1472,1380.9 L1473,1376.8 L1474,1371.5 L1475,1365.3 L1476,1358.4 L1477,1351.0 L1478,1343.3 L1479,1335.5 L1480,1327.7 L1481,1320.2 L1482,1312.9 L1483,1306.2 L1484,1300.0 L1485,1294.6 L1486,1290.0 L1487,1286.4 L1488,1283.8 L1489,1282.1 L1490,1281.6 L1491,1282.1 L1492,1283.8 L1493,1286.4 L1494,1290.0 L1495,1294.6 L1496,1300.0 L1497,1306.2 L1498,1312.9 L1499,1320.2 L1500,1327.7 L1501,1335.5 L1502,1343.3 L1503,1351.0 L1504,1358.4 L1505,1365.3 L1506,1371.3 L1507,1376.2 L1508,1379.2 L1509,1380.4 L1510,1380.8 L1511,1381.1 L1512,1381.5 L1513,1382.0 L1514,1382.5 L1515,1382.9 L1516,1383.2 L1517,1383.5 L1518,1383.7 L1519,1383.7 L1520,1383.7 L1521,1383.7 L1522,1383.7 L1523,1383.7 L1524,1383.7 L1525,1383.7 L1526,1383.6 L1527,1383.3 L1528,1382.9 L1529,1382.5 L1530,1382.0 L1531,1381.6 L1532,1381.2 L1533,1380.9 L1534,1380.7 L1535,1380.7 L1536,1380.8 L1537,1381.0 L1538,1381.4 L1539,1381.8 L1540,1382.3 L1541,1382.7 L1542,1383.1 L1543,1383.4 L1544,1383.6 L1545,1383.7 L1546,1383.6 L1547,1383.4 L1548,1383.1 L1549,1382.8 L1550,1382.6 L1551,1382.5 L1552,1382.4 L1553,1382.6 L1554,1382.8 L1555,1383.0 L1556,1383.3 L1557,1383.6 L1558,1383.7 L1559,1383.7 L1560,1383.7 L1561,1383.7 L1562,1383.7 L1563,1383.7 L1564,1383.7 L1565,1383.7 L1566,1383.7 L1567,1383.7 L1568,1383.7 L1569,1383.7 L1570,1383.7 L1571,1383.5 L1572,1383.1 L1573,1382.5 L1574,1382.0 L1575,1381.5 L1576,1381.2 L1577,1381.1 L1578,1381.2 L1579,1381.5 L1580,1382.0 L1581,1382.5 L1582,1383.0 L1583,1383.2 L1584,1383.0 L1585,1382.5 L1586,1381.9 L1587,1381.3 L1588,1380.7 L1589,1380.2 L1590,1379.8 L1591,1379.5 L1592,1379.4 L1593,1379.5 L1594,1379.7 L1595,1380.1 L1596,1380.7 L1597,1381.3 L1598,1381.9 L1599,1382.5 L1600,1383.0 L1601,1383.4 L1602,1383.6 L1603,1383.7 L1604,1383.7 L1605,1383.6 L1606,1383.5 L1607,1383.3 L1608,1383.1 L1609,1382.8 L1610,1382.6 L1611,1382.3 L1612,1382.1 L1613,1381.9 L1614,1381.8 L1615,1381.8 L1616,1381.9 L1617,1382.0 L1618,1382.2 L1619,1382.4 L1620,1382.6 L1621,1382.9 L1622,1383.2 L1623,1383.4 L1624,1383.6 L1625,1383.7 L1626,1383.7 L1627,1383.7 L1628,1382.5 L1629,1378.7 L1630,1373.3 L1631,1366.7 L1632,1359.1 L1633,1350.8 L1634,1342.1 L1635,1333.0 L1636,1323.9 L1637,1314.9 L1638,1306.2 L1639,1298.0 L1640,1290.4 L1641,1283.5 L1642,1277.6 L1643,1272.7 L1644,1268.9 L1645,1266.3 L1646,1264.9 L1647,1264.8 L1648,1265.9 L1649,1268.3 L1650,1271.9 L1651,1276.5 L1652,1282.3 L1653,1288.9 L1654,1296.4 L1655,1304.5 L1656,1313.1 L1657,1322.1 L1658,1331.2 L1659,1340.3 L1660,1349.1 L1661,1357.5 L1662,1365.2 L1663,1372.1 L1664,1377.7 L1665,1381.9 L1666,1383.7 L1667,1383.7 L1668,1383.7 L1669,1383.7 L1670,1383.4 L1671,1383.0 L1672,1382.5 L1673,1382.1 L1674,1381.7 L1675,1381.6 L1676,1381.8 L1677,1382.1 L1678,1382.6 L1679,1383.1 L1680,1383.5 L1681,1383.7 L1682,1383.7 L1683,1383.7 L1684,1383.7 L1685,1383.7 L1686,1383.7 L1687,1383.7 L1688,1383.7 L1689,1383.7 L1690,1383.8 L1691,1383.9 L1692,1384.0 L1693,1384.1 L1694,1384.1 L1695,1384.1 L1696,1384.1 L1697,1384.0 L1698,1383.9 L1699,1383.8 L1700,1383.7 L1701,1383.7 L1702,1383.7 L1703,1383.7 L1704,1383.7 L1705,1383.6 L1706,1383.4 L1707,1382.9 L1708,1382.3 L1709,1381.6 L1710,1381.0 L1711,1380.5 L1712,1380.2 L1713,1380.2 L1714,1380.4 L1715,1380.8 L1716,1381.3 L1717,1382.0 L1718,1382.6 L1719,1383.2 L1720,1383.5 L1721,1383.7 L1722,1383.7 L1723,1383.7 L1724,1383.7 L1725,1383.7 L1726,1383.7 L1727,1383.5 L1728,1383.2 L1729,1382.8 L1730,1382.3 L1731,1381.9 L1732,1381.5 L1733,1381.4 L1734,1381.5 L1735,1381.7 L1736,1382.2 L1737,1382.6 L1738,1383.1 L1739,1383.4 L1740,1383.5 L1741,1383.3 L1742,1383.0 L1743,1382.7 L1744,1382.4 L1745,1382.2 L1746,1382.0 L1747,1381.9 L1748,1381.9 L1749,1382.0 L1750,1382.3 L1751,1382.6 L1752,1382.9 L1753,1383.2 L1754,1383.4 L1755,1383.6 L1756,1383.7 L1757,1383.7 L1758,1383.7 L1759,1383.7 L1760,1383.7 L1761,1383.7 L1762,1383.7 L1763,1383.6 L1764,1383.5 L1765,1383.4 L1766,1383.2 L1767,1383.0 L1768,1382.8 L1769,1382.6 L1770,1382.5 L1771,1382.4 L1772,1382.4 L1773,1382.5 L1774,1382.6 L1775,1382.7 L1776,1382.9 L1777,1383.1 L1778,1383.3 L1779,1383.5 L1780,1383.6 L1781,1382.9 L1782,1379.3 L1783,1373.8 L1784,1366.9 L1785,1359.0 L1786,1350.3 L1787,1340.9 L1788,1331.3 L1789,1321.5 L1790,1311.8 L1791,1302.4 L1792,1293.4 L1793,1285.1 L1794,1277.6 L1795,1271.0 L1796,1265.6 L1797,1261.2 L1798,1258.2 L1799,1256.4 L1800,1256.0 L1801,1257.0 L1802,1259.3 L1803,1262.8 L1804,1267.6 L1805,1273.5 L1806,1280.5 L1807,1288.3 L1808,1296.9 L1809,1306.1 L1810,1315.7 L1811,1325.4 L1812,1335.2 L1813,1344.7 L1814,1353.8 L1815,1362.3 L1816,1369.8 L1817,1376.2 L1818,1381.0 L1819,1383.6 L1820,1383.6 L1821,1383.6 L1822,1383.6 L1823,1383.7 L1824,1383.7 L1825,1383.7 L1826,1383.7 L1827,1383.7 L1828,1383.7 L1829,1383.7 L1830,1383.7 L1831,1383.7 L1832,1383.5 L1833,1383.2 L1834,1382.8 L1835,1382.4 L1836,1381.8 L1837,1381.3 L1838,1380.8 L1839,1380.3 L1840,1380.0 L1841,1379.8 L1842,1379.7 L1843,1379.8 L1844,1380.0 L1845,1380.4 L1846,1380.8 L1847,1381.3 L1848,1381.9 L1849,1382.4 L1850,1382.9 L1851,1383.3 L1852,1383.5 L1853,1383.7 L1854,1383.7 L1855,1383.6 L1856,1383.2 L1857,1382.6 L1858,1382.0 L1859,1381.5 L1860,1381.2 L1861,1381.3 L1862,1381.6 L1863,1382.1 L1864,1382.8 L1865,1383.3 L1866,1383.5 L1867,1383.5 L1868,1383.3 L1869,1383.1 L1870,1382.8 L1871,1382.6 L1872,1382.4 L1873,1382.2 L1874,1382.1 L1875,1382.0 L1876,1382.0 L1877,1382.1 L1878,1382.2 L1879,1382.4 L1880,1382.6 L1881,1382.8 L1882,1383.0 L1883,1383.0 L1884,1382.9 L1885,1382.6 L1886,1382.3 L1887,1380.8 L1888,1377.6 L1889,1372.8 L1890,1366.7 L1891,1359.6 L1892,1351.9 L1893,1343.8 L1894,1335.4 L1895,1327.1 L1896,1318.8 L1897,1310.9 L1898,1303.4 L1899,1296.6 L1900,1290.5 L1901,1285.2 L1902,1280.9 L1903,1277.6 L1904,1275.4 L1905,1274.4 L1906,1274.5 L1907,1275.8 L1908,1278.2 L1909,1281.7 L1910,1286.2 L1911,1291.6 L1912,1297.9 L1913,1304.9 L1914,1312.5 L1915,1320.5 L1916,1328.7 L1917,1337.1 L1918,1345.4 L1919,1353.5 L1920,1361.1 L1921,1368.0 L1922,1374.1 L1923,1379.0 L1924,1382.1 L1925,1382.6 L1926,1382.2 L1927,1381.8 L1928,1381.4 L1929,1381.2 L1930,1381.0 L1931,1380.9 L1932,1381.0 L1933,1381.1 L1934,1381.4 L1935,1381.8 L1936,1382.2 L1937,1382.6 L1938,1383.0 L1939,1383.3 L1940,1383.6 L1941,1383.7 L1942,1383.7 L1943,1383.7 L1944,1383.6 L1945,1383.5 L1946,1383.2 L1947,1382.8 L1948,1382.3 L1949,1381.8 L1950,1381.3 L1951,1380.8 L1952,1380.4 L1953,1380.2 L1954,1380.0 L1955,1380.0 L1956,1380.2 L1957,1380.4 L1958,1379.7 L1959,1376.6 L1960,1371.5 L1961,1365.1 L1962,1357.9 L1963,1350.2 L1964,1342.1 L1965,1334.0 L1966,1325.8 L1967,1317.9 L1968,1310.5 L1969,1303.6 L1970,1297.3 L1971,1292.0 L1972,1287.5 L1973,1284.1 L1974,1281.8 L1975,1280.6 L1976,1280.6 L1977,1281.8 L1978,1284.1 L1979,1287.5 L1980,1292.0 L1981,1297.3 L1982,1303.6 L1983,1310.5 L1984,1317.9 L1985,1325.8 L1986,1334.0 L1987,1342.1 L1988,1350.2 L1989,1357.9 L1990,1365.1 L1991,1371.6 L1992,1377.1 L1993,1381.2 L1994,1383.0 L1995,1380.0 L1996,1375.2 L1997,1369.2 L1998,1362.2 L1999,1354.6 L2000,1346.4 L2001,1338.0 L2002,1329.5 L2003,1321.1 L2004,1313.0 L2005,1305.4 L2006,1298.4 L2007,1292.2 L2008,1286.9 L2009,1282.6 L2010,1279.4 L2011,1277.4 L2012,1276.5 L2013,1276.9 L2014,1278.5 L2015,1281.2 L2016,1285.1 L2017,1290.0 L2018,1295.8 L2019,1302.5 L2020,1309.9 L2021,1317.8 L2022,1326.1 L2023,1334.6 L2024,1343.1 L2025,1351.3 L2026,1359.2 L2027,1366.5 L2028,1373.0 L2029,1378.5" fill="none" stroke="#2fbf2f" stroke-width="1.7" stroke-opacity="0.8" stroke-linejoin="round"/>
<line x1="1646.1" y1="1210.75" x2="1646.1" y2="1232.5" stroke="#f00" stroke-width="3.5" stroke-linecap="round"/>
<polygon points="1640.8999999999999,1228.2 1646.1,1231.2 1651.3,1228.2 1646.1,1235.0" fill="#f00" stroke="#f00" stroke-width="3" stroke-linejoin="round"/>
<text x="0" y="0" transform="translate(1612.9,1450.4) scale(0.96,1)" font-family='"Liberation Serif", serif' font-size="42" font-weight="bold" fill="#000" text-anchor="middle" >Control</text>
</svg>
</body></html>
